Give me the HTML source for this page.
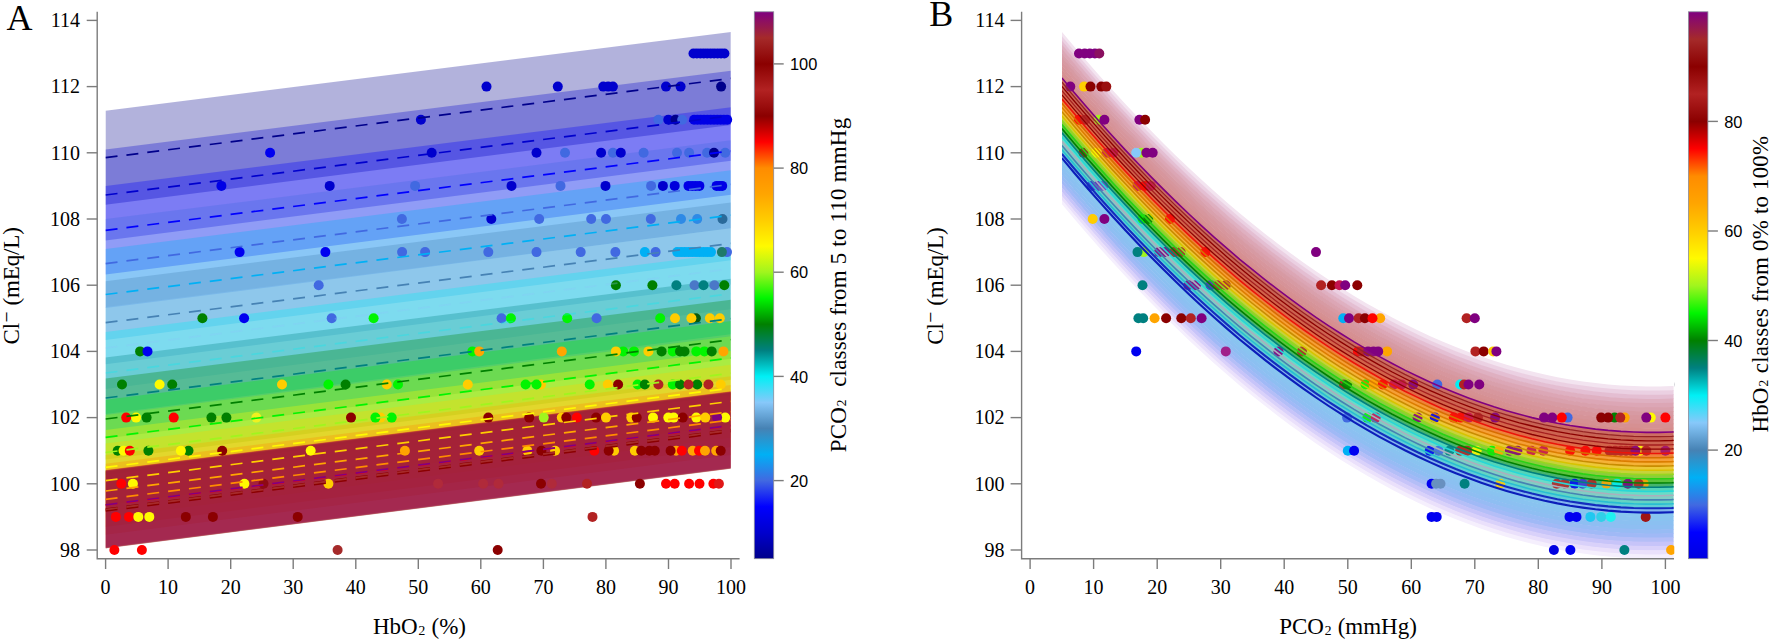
<!DOCTYPE html>
<html lang="en"><head><meta charset="utf-8"><title>Cl- vs HbO2 and PCO2</title>
<style>html,body{margin:0;padding:0;background:#fff;}svg{display:block;}text{font-family:"Liberation Serif","DejaVu Serif",serif;fill:#000;}.cb text{font-family:"Liberation Sans","DejaVu Sans",sans-serif;font-size:16.4px;}.tk{font-size:20px;}.lb{font-size:23px;}.pl{font-size:36px;}</style></head><body>
<svg width="1772" height="642" viewBox="0 0 1772 642">
<rect width="1772" height="642" fill="#fff"/>
<defs>
<linearGradient id="gA" x1="0" y1="0" x2="0" y2="1">
<stop offset="0.0000" stop-color="#800080"/>
<stop offset="0.0476" stop-color="#a52a2a"/>
<stop offset="0.0952" stop-color="#8b0000"/>
<stop offset="0.1429" stop-color="#b22222"/>
<stop offset="0.1905" stop-color="#8b0000"/>
<stop offset="0.2381" stop-color="#ff0000"/>
<stop offset="0.2857" stop-color="#ff8c00"/>
<stop offset="0.3333" stop-color="#ffa500"/>
<stop offset="0.3810" stop-color="#ffcd00"/>
<stop offset="0.4286" stop-color="#fffa00"/>
<stop offset="0.4762" stop-color="#a0f51e"/>
<stop offset="0.5238" stop-color="#00f500"/>
<stop offset="0.5714" stop-color="#008000"/>
<stop offset="0.6190" stop-color="#008080"/>
<stop offset="0.6667" stop-color="#00f0f5"/>
<stop offset="0.7143" stop-color="#87c8fa"/>
<stop offset="0.7619" stop-color="#4682b4"/>
<stop offset="0.8095" stop-color="#00b0f5"/>
<stop offset="0.8571" stop-color="#4169e1"/>
<stop offset="0.9048" stop-color="#0000ff"/>
<stop offset="0.9524" stop-color="#0000cd"/>
<stop offset="1.0000" stop-color="#00008b"/>
</linearGradient>
<linearGradient id="gB" x1="0" y1="0" x2="0" y2="1">
<stop offset="0.0000" stop-color="#800080"/>
<stop offset="0.0501" stop-color="#a52a2a"/>
<stop offset="0.1002" stop-color="#8b0000"/>
<stop offset="0.1503" stop-color="#b22222"/>
<stop offset="0.2004" stop-color="#8b0000"/>
<stop offset="0.2505" stop-color="#ff0000"/>
<stop offset="0.3006" stop-color="#ff8c00"/>
<stop offset="0.3507" stop-color="#ffa500"/>
<stop offset="0.4008" stop-color="#ffcd00"/>
<stop offset="0.4509" stop-color="#fffa00"/>
<stop offset="0.5010" stop-color="#a0f51e"/>
<stop offset="0.5511" stop-color="#00f500"/>
<stop offset="0.6012" stop-color="#008000"/>
<stop offset="0.6513" stop-color="#008080"/>
<stop offset="0.7014" stop-color="#00f0f5"/>
<stop offset="0.7515" stop-color="#87c8fa"/>
<stop offset="0.8016" stop-color="#4682b4"/>
<stop offset="0.8517" stop-color="#00b0f5"/>
<stop offset="0.9018" stop-color="#4169e1"/>
<stop offset="0.9519" stop-color="#0000ff"/>
<stop offset="1" stop-color="#0000e1"/>
</linearGradient>
<clipPath id="cA"><rect x="105.3" y="12" width="625.4" height="546"/></clipPath>
<clipPath id="cB"><rect x="1062" y="12" width="611.6" height="546"/></clipPath>
<clipPath id="cBd"><rect x="1022" y="12" width="652.3" height="548"/></clipPath>
</defs>
<g clip-path="url(#cA)">
<polygon points="105.6,110.7 731.0,31.9 731.0,124.9 105.6,204.7" fill="#00008b" fill-opacity="0.30"/>
<polygon points="105.6,149.5 731.0,70.7 731.0,160.7 105.6,240.5" fill="#0000cd" fill-opacity="0.30"/>
<polygon points="105.6,186.0 731.0,107.2 731.0,194.8 105.6,274.6" fill="#0000ff" fill-opacity="0.30"/>
<polygon points="105.6,219.1 731.0,140.3 731.0,228.3 105.6,308.1" fill="#4169e1" fill-opacity="0.30"/>
<polygon points="105.6,249.0 731.0,170.2 731.0,260.2 105.6,340.0" fill="#00b0f5" fill-opacity="0.30"/>
<polygon points="105.6,281.2 731.0,202.4 731.0,284.4 105.6,364.2" fill="#4682b4" fill-opacity="0.30"/>
<polygon points="105.6,307.0 731.0,228.2 731.0,309.2 105.6,389.0" fill="#87c8fa" fill-opacity="0.30"/>
<polygon points="105.6,332.0 731.0,253.2 731.0,334.2 105.6,414.0" fill="#00f0f5" fill-opacity="0.30"/>
<polygon points="105.6,357.5 731.0,278.7 731.0,358.7 105.6,438.5" fill="#008080" fill-opacity="0.30"/>
<polygon points="105.6,378.5 731.0,299.7 731.0,379.7 105.6,459.5" fill="#008000" fill-opacity="0.30"/>
<polygon points="105.6,399.8 731.0,321.0 731.0,395.0 105.6,474.8" fill="#00f500" fill-opacity="0.30"/>
<polygon points="105.6,415.0 731.0,336.2 731.0,410.2 105.6,490.0" fill="#a0f51e" fill-opacity="0.30"/>
<polygon points="105.6,429.9 731.0,351.1 731.0,425.1 105.6,504.9" fill="#fffa00" fill-opacity="0.30"/>
<polygon points="105.6,443.6 731.0,364.8 731.0,437.8 105.6,517.6" fill="#ffcd00" fill-opacity="0.30"/>
<polygon points="105.6,455.0 731.0,376.2 731.0,447.2 105.6,527.0" fill="#ffa500" fill-opacity="0.30"/>
<polygon points="105.6,463.8 731.0,385.0 731.0,455.0 105.6,534.8" fill="#ff8c00" fill-opacity="0.30"/>
<polygon points="105.6,470.0 731.0,391.2 731.0,467.4 105.6,547.2" fill="#ff0000" fill-opacity="0.30"/>
<polygon points="105.6,470.5 731.0,391.7 731.0,468.2 105.6,548.0" fill="#8b0000" fill-opacity="0.30"/>
<polygon points="105.6,471.0 731.0,392.2 731.0,468.5 105.6,548.3" fill="#b22222" fill-opacity="0.30"/>
<polygon points="105.6,471.5 731.0,392.7 731.0,468.7 105.6,548.5" fill="#8b0000" fill-opacity="0.30"/>
<polygon points="105.6,470.8 731.0,392.0 731.0,468.4 105.6,548.2" fill="#a52a2a" fill-opacity="0.30"/>
<polygon points="105.6,470.2 731.0,391.4 731.0,468.0 105.6,547.8" fill="#800080" fill-opacity="0.30"/>
</g>
<g>
<circle cx="693.5" cy="53.5" r="5" fill="#0000cd"/>
<circle cx="696.9" cy="53.5" r="5" fill="#0000cd"/>
<circle cx="700.4" cy="53.5" r="5" fill="#0000cd"/>
<circle cx="703.8" cy="53.5" r="5" fill="#0000cd"/>
<circle cx="707.2" cy="53.5" r="5" fill="#0000cd"/>
<circle cx="710.7" cy="53.5" r="5" fill="#0000cd"/>
<circle cx="714.1" cy="53.5" r="5" fill="#0000cd"/>
<circle cx="717.6" cy="53.5" r="5" fill="#0000cd"/>
<circle cx="721.0" cy="53.5" r="5" fill="#0000cd"/>
<circle cx="724.4" cy="53.5" r="5" fill="#0000cd"/>
<circle cx="486.5" cy="86.6" r="5" fill="#0000cd"/>
<circle cx="557.8" cy="86.6" r="5" fill="#0000cd"/>
<circle cx="603.3" cy="86.6" r="5" fill="#0000cd"/>
<circle cx="608.2" cy="86.6" r="5" fill="#0000cd"/>
<circle cx="612.9" cy="86.6" r="5" fill="#0000cd"/>
<circle cx="666.0" cy="86.6" r="5" fill="#0000cd"/>
<circle cx="680.6" cy="86.6" r="5" fill="#0000cd"/>
<circle cx="721.1" cy="86.6" r="5" fill="#00008b"/>
<circle cx="420.9" cy="119.7" r="5" fill="#0000cd"/>
<circle cx="658.4" cy="119.7" r="5" fill="#4169e1"/>
<circle cx="668.3" cy="119.7" r="5" fill="#0000cd"/>
<circle cx="675.5" cy="119.7" r="5" fill="#00008b"/>
<circle cx="682.2" cy="119.7" r="5" fill="#4169e1"/>
<circle cx="694.1" cy="119.7" r="5" fill="#0000e6"/>
<circle cx="697.4" cy="119.7" r="5" fill="#0000e6"/>
<circle cx="700.7" cy="119.7" r="5" fill="#0000e6"/>
<circle cx="704.0" cy="119.7" r="5" fill="#0000e6"/>
<circle cx="707.4" cy="119.7" r="5" fill="#0000e6"/>
<circle cx="710.7" cy="119.7" r="5" fill="#0000e6"/>
<circle cx="714.0" cy="119.7" r="5" fill="#0000e6"/>
<circle cx="717.3" cy="119.7" r="5" fill="#0000e6"/>
<circle cx="720.6" cy="119.7" r="5" fill="#0000e6"/>
<circle cx="723.9" cy="119.7" r="5" fill="#0000e6"/>
<circle cx="727.2" cy="119.7" r="5" fill="#0000e6"/>
<circle cx="270.1" cy="152.8" r="5" fill="#0000f0"/>
<circle cx="431.7" cy="152.8" r="5" fill="#0000cd"/>
<circle cx="536.5" cy="152.8" r="5" fill="#0000cd"/>
<circle cx="565.0" cy="152.8" r="5" fill="#4169e1"/>
<circle cx="601.1" cy="152.8" r="5" fill="#0000cd"/>
<circle cx="612.9" cy="152.8" r="5" fill="#4169e1"/>
<circle cx="620.8" cy="152.8" r="5" fill="#0000cd"/>
<circle cx="643.6" cy="152.8" r="5" fill="#4169e1"/>
<circle cx="677.0" cy="152.8" r="5" fill="#4169e1"/>
<circle cx="689.1" cy="152.8" r="5" fill="#4169e1"/>
<circle cx="707.1" cy="152.8" r="5" fill="#4169e1"/>
<circle cx="725.2" cy="152.8" r="5" fill="#4169e1"/>
<circle cx="714.0" cy="152.8" r="5" fill="#00008b"/>
<circle cx="221.4" cy="185.9" r="5" fill="#0000e6"/>
<circle cx="329.7" cy="185.9" r="5" fill="#0000cd"/>
<circle cx="415.1" cy="185.9" r="5" fill="#4169e1"/>
<circle cx="511.5" cy="185.9" r="5" fill="#0000cd"/>
<circle cx="560.5" cy="185.9" r="5" fill="#4169e1"/>
<circle cx="605.5" cy="185.9" r="5" fill="#0000cd"/>
<circle cx="651.1" cy="185.9" r="5" fill="#4169e1"/>
<circle cx="662.9" cy="185.9" r="5" fill="#0000cd"/>
<circle cx="674.7" cy="185.9" r="5" fill="#0000dc"/>
<circle cx="688.5" cy="185.9" r="5" fill="#0000e6"/>
<circle cx="692.1" cy="185.9" r="5" fill="#0000e6"/>
<circle cx="695.7" cy="185.9" r="5" fill="#0000e6"/>
<circle cx="699.4" cy="185.9" r="5" fill="#0000e6"/>
<circle cx="716.6" cy="185.9" r="5" fill="#0000e6"/>
<circle cx="719.4" cy="185.9" r="5" fill="#0000e6"/>
<circle cx="722.2" cy="185.9" r="5" fill="#0000e6"/>
<circle cx="401.9" cy="219.0" r="5" fill="#4169e1"/>
<circle cx="491.3" cy="219.0" r="5" fill="#0000cd"/>
<circle cx="539.2" cy="219.0" r="5" fill="#4169e1"/>
<circle cx="591.2" cy="219.0" r="5" fill="#4169e1"/>
<circle cx="606.0" cy="219.0" r="5" fill="#4169e1"/>
<circle cx="650.8" cy="219.0" r="5" fill="#4169e1"/>
<circle cx="681.0" cy="219.0" r="5" fill="#2e8ae6"/>
<circle cx="697.2" cy="219.0" r="5" fill="#2e8ae6"/>
<circle cx="722.5" cy="219.0" r="5" fill="#2a6a9a"/>
<circle cx="239.6" cy="252.1" r="5" fill="#0000f0"/>
<circle cx="325.4" cy="252.1" r="5" fill="#0000f0"/>
<circle cx="402.1" cy="252.1" r="5" fill="#4169e1"/>
<circle cx="425.1" cy="252.1" r="5" fill="#4169e1"/>
<circle cx="488.3" cy="252.1" r="5" fill="#4169e1"/>
<circle cx="536.5" cy="252.1" r="5" fill="#4169e1"/>
<circle cx="580.7" cy="252.1" r="5" fill="#4169e1"/>
<circle cx="615.4" cy="252.1" r="5" fill="#4169e1"/>
<circle cx="644.8" cy="252.1" r="5" fill="#00b0f5"/>
<circle cx="655.6" cy="252.1" r="5" fill="#4169e1"/>
<circle cx="677.2" cy="252.1" r="5" fill="#00b0f5"/>
<circle cx="681.0" cy="252.1" r="5" fill="#00b0f5"/>
<circle cx="684.7" cy="252.1" r="5" fill="#00b0f5"/>
<circle cx="688.5" cy="252.1" r="5" fill="#00b0f5"/>
<circle cx="692.2" cy="252.1" r="5" fill="#00b0f5"/>
<circle cx="696.0" cy="252.1" r="5" fill="#00b0f5"/>
<circle cx="699.7" cy="252.1" r="5" fill="#00b0f5"/>
<circle cx="703.5" cy="252.1" r="5" fill="#00b0f5"/>
<circle cx="707.2" cy="252.1" r="5" fill="#00b0f5"/>
<circle cx="711.0" cy="252.1" r="5" fill="#00b0f5"/>
<circle cx="727.0" cy="252.1" r="5" fill="#4169e1"/>
<circle cx="721.9" cy="252.1" r="5" fill="#1e7a6a"/>
<circle cx="318.7" cy="285.2" r="5" fill="#4169e1"/>
<circle cx="615.9" cy="285.2" r="5" fill="#008000"/>
<circle cx="652.4" cy="285.2" r="5" fill="#008000"/>
<circle cx="676.4" cy="285.2" r="5" fill="#008080"/>
<circle cx="694.5" cy="285.2" r="5" fill="#4a78c8"/>
<circle cx="714.4" cy="285.2" r="5" fill="#4a78c8"/>
<circle cx="703.5" cy="285.2" r="5" fill="#008080"/>
<circle cx="724.3" cy="285.2" r="5" fill="#008000"/>
<circle cx="202.4" cy="318.3" r="5" fill="#008000"/>
<circle cx="244.1" cy="318.3" r="5" fill="#0000f0"/>
<circle cx="331.7" cy="318.3" r="5" fill="#4169e1"/>
<circle cx="373.6" cy="318.3" r="5" fill="#00f500"/>
<circle cx="501.6" cy="318.3" r="5" fill="#4169e1"/>
<circle cx="510.9" cy="318.3" r="5" fill="#00f500"/>
<circle cx="567.2" cy="318.3" r="5" fill="#00f500"/>
<circle cx="596.6" cy="318.3" r="5" fill="#4169e1"/>
<circle cx="660.2" cy="318.3" r="5" fill="#00f500"/>
<circle cx="695.9" cy="318.3" r="5" fill="#0a5a0a"/>
<circle cx="675.0" cy="318.3" r="5" fill="#ffcd00"/>
<circle cx="691.4" cy="318.3" r="5" fill="#ffcd00"/>
<circle cx="709.9" cy="318.3" r="5" fill="#ffcd00"/>
<circle cx="719.8" cy="318.3" r="5" fill="#ffcd00"/>
<circle cx="140.1" cy="351.4" r="5" fill="#008000"/>
<circle cx="147.5" cy="351.4" r="5" fill="#0000f0"/>
<circle cx="472.4" cy="351.4" r="5" fill="#00f500"/>
<circle cx="479.2" cy="351.4" r="5" fill="#ffa500"/>
<circle cx="561.8" cy="351.4" r="5" fill="#ffa500"/>
<circle cx="623.2" cy="351.4" r="5" fill="#00f500"/>
<circle cx="615.9" cy="351.4" r="5" fill="#ffcd00"/>
<circle cx="634.0" cy="351.4" r="5" fill="#00f500"/>
<circle cx="648.4" cy="351.4" r="5" fill="#ffcd00"/>
<circle cx="661.6" cy="351.4" r="5" fill="#008000"/>
<circle cx="672.8" cy="351.4" r="5" fill="#00f500"/>
<circle cx="680.0" cy="351.4" r="5" fill="#008000"/>
<circle cx="684.5" cy="351.4" r="5" fill="#008000"/>
<circle cx="696.3" cy="351.4" r="5" fill="#00f500"/>
<circle cx="704.4" cy="351.4" r="5" fill="#00f500"/>
<circle cx="711.7" cy="351.4" r="5" fill="#008000"/>
<circle cx="723.4" cy="351.4" r="5" fill="#ffa500"/>
<circle cx="122.0" cy="384.5" r="5" fill="#008000"/>
<circle cx="159.6" cy="384.5" r="5" fill="#fffa00"/>
<circle cx="172.2" cy="384.5" r="5" fill="#008000"/>
<circle cx="282.0" cy="384.5" r="5" fill="#ffcd00"/>
<circle cx="328.4" cy="384.5" r="5" fill="#00f500"/>
<circle cx="345.6" cy="384.5" r="5" fill="#008000"/>
<circle cx="386.8" cy="384.5" r="5" fill="#ffcd00"/>
<circle cx="398.0" cy="384.5" r="5" fill="#00f500"/>
<circle cx="467.8" cy="384.5" r="5" fill="#ffcd00"/>
<circle cx="525.6" cy="384.5" r="5" fill="#00f500"/>
<circle cx="541.0" cy="384.5" r="5" fill="#ffcd00"/>
<circle cx="536.5" cy="384.5" r="5" fill="#00f500"/>
<circle cx="589.7" cy="384.5" r="5" fill="#00f500"/>
<circle cx="607.8" cy="384.5" r="5" fill="#ffcd00"/>
<circle cx="618.1" cy="384.5" r="5" fill="#8b0000"/>
<circle cx="637.6" cy="384.5" r="5" fill="#00f500"/>
<circle cx="644.8" cy="384.5" r="5" fill="#008000"/>
<circle cx="658.4" cy="384.5" r="5" fill="#b22222"/>
<circle cx="672.8" cy="384.5" r="5" fill="#00f500"/>
<circle cx="680.0" cy="384.5" r="5" fill="#008000"/>
<circle cx="697.2" cy="384.5" r="5" fill="#008000"/>
<circle cx="688.5" cy="384.5" r="5" fill="#b22222"/>
<circle cx="708.4" cy="384.5" r="5" fill="#b22222"/>
<circle cx="720.7" cy="384.5" r="5" fill="#ffcd00"/>
<circle cx="126.2" cy="417.6" r="5" fill="#ff0000"/>
<circle cx="136.1" cy="417.6" r="5" fill="#fffa00"/>
<circle cx="146.6" cy="417.6" r="5" fill="#008000"/>
<circle cx="173.7" cy="417.6" r="5" fill="#ff0000"/>
<circle cx="211.4" cy="417.6" r="5" fill="#008000"/>
<circle cx="226.4" cy="417.6" r="5" fill="#008000"/>
<circle cx="256.4" cy="417.6" r="5" fill="#f0f020"/>
<circle cx="351.0" cy="417.6" r="5" fill="#8b0000"/>
<circle cx="380.5" cy="417.6" r="5" fill="#ffcd00"/>
<circle cx="375.4" cy="417.6" r="5" fill="#00f500"/>
<circle cx="391.7" cy="417.6" r="5" fill="#00f500"/>
<circle cx="488.3" cy="417.6" r="5" fill="#8b0000"/>
<circle cx="529.2" cy="417.6" r="5" fill="#8b0000"/>
<circle cx="543.7" cy="417.6" r="5" fill="#a0f51e"/>
<circle cx="561.8" cy="417.6" r="5" fill="#ffcd00"/>
<circle cx="566.3" cy="417.6" r="5" fill="#8b0000"/>
<circle cx="576.8" cy="417.6" r="5" fill="#ff0000"/>
<circle cx="596.1" cy="417.6" r="5" fill="#8b0000"/>
<circle cx="606.0" cy="417.6" r="5" fill="#ffcd00"/>
<circle cx="631.3" cy="417.6" r="5" fill="#ffcd00"/>
<circle cx="636.7" cy="417.6" r="5" fill="#8b0000"/>
<circle cx="653.0" cy="417.6" r="5" fill="#fffa00"/>
<circle cx="668.3" cy="417.6" r="5" fill="#fffa00"/>
<circle cx="673.7" cy="417.6" r="5" fill="#fffa00"/>
<circle cx="682.8" cy="417.6" r="5" fill="#8b0000"/>
<circle cx="696.3" cy="417.6" r="5" fill="#fffa00"/>
<circle cx="705.3" cy="417.6" r="5" fill="#ffcd00"/>
<circle cx="725.2" cy="417.6" r="5" fill="#fffa00"/>
<circle cx="717.1" cy="417.6" r="5" fill="#800080"/>
<circle cx="117.7" cy="450.7" r="5" fill="#008000"/>
<circle cx="123.5" cy="450.7" r="5" fill="#fffa00"/>
<circle cx="129.8" cy="450.7" r="5" fill="#ff0000"/>
<circle cx="148.4" cy="450.7" r="5" fill="#008000"/>
<circle cx="188.5" cy="450.7" r="5" fill="#008000"/>
<circle cx="180.9" cy="450.7" r="5" fill="#fffa00"/>
<circle cx="222.2" cy="450.7" r="5" fill="#8b0000"/>
<circle cx="310.7" cy="450.7" r="5" fill="#fffa00"/>
<circle cx="404.9" cy="450.7" r="5" fill="#ffa500"/>
<circle cx="479.2" cy="450.7" r="5" fill="#ffcd00"/>
<circle cx="527.4" cy="450.7" r="5" fill="#ffcd00"/>
<circle cx="541.4" cy="450.7" r="5" fill="#8b0000"/>
<circle cx="555.1" cy="450.7" r="5" fill="#ffcd00"/>
<circle cx="594.3" cy="450.7" r="5" fill="#ff0000"/>
<circle cx="614.1" cy="450.7" r="5" fill="#ffcd00"/>
<circle cx="608.7" cy="450.7" r="5" fill="#8b0000"/>
<circle cx="634.9" cy="450.7" r="5" fill="#ffcd00"/>
<circle cx="641.2" cy="450.7" r="5" fill="#8b0000"/>
<circle cx="649.3" cy="450.7" r="5" fill="#8b0000"/>
<circle cx="654.8" cy="450.7" r="5" fill="#8b0000"/>
<circle cx="676.1" cy="450.7" r="5" fill="#ffa500"/>
<circle cx="670.6" cy="450.7" r="5" fill="#8b0000"/>
<circle cx="681.8" cy="450.7" r="5" fill="#ff0000"/>
<circle cx="692.7" cy="450.7" r="5" fill="#ffa500"/>
<circle cx="699.0" cy="450.7" r="5" fill="#ff0000"/>
<circle cx="705.0" cy="450.7" r="5" fill="#ffa500"/>
<circle cx="716.2" cy="450.7" r="5" fill="#ffa500"/>
<circle cx="720.7" cy="450.7" r="5" fill="#8b0000"/>
<circle cx="121.3" cy="483.8" r="5" fill="#ff0000"/>
<circle cx="132.9" cy="483.8" r="5" fill="#fffa00"/>
<circle cx="244.4" cy="483.8" r="5" fill="#fffa00"/>
<circle cx="263.5" cy="483.8" r="5" fill="#8e0a14"/>
<circle cx="328.4" cy="483.8" r="5" fill="#ffcd00"/>
<circle cx="438.1" cy="483.8" r="5" fill="#b02a3a"/>
<circle cx="483.2" cy="483.8" r="5" fill="#b02a3a"/>
<circle cx="498.5" cy="483.8" r="5" fill="#b02a3a"/>
<circle cx="541.0" cy="483.8" r="5" fill="#8b0000"/>
<circle cx="551.8" cy="483.8" r="5" fill="#b02a3a"/>
<circle cx="587.0" cy="483.8" r="5" fill="#b22222"/>
<circle cx="639.9" cy="483.8" r="5" fill="#8b0000"/>
<circle cx="666.0" cy="483.8" r="5" fill="#ff0000"/>
<circle cx="674.7" cy="483.8" r="5" fill="#ff0000"/>
<circle cx="689.1" cy="483.8" r="5" fill="#ff0000"/>
<circle cx="699.5" cy="483.8" r="5" fill="#ff0000"/>
<circle cx="713.4" cy="483.8" r="5" fill="#ff0000"/>
<circle cx="718.9" cy="483.8" r="5" fill="#e01818"/>
<circle cx="115.9" cy="516.9" r="5" fill="#ff0000"/>
<circle cx="128.9" cy="516.9" r="5" fill="#ff0000"/>
<circle cx="138.3" cy="516.9" r="5" fill="#fffa00"/>
<circle cx="149.3" cy="516.9" r="5" fill="#fffa00"/>
<circle cx="185.8" cy="516.9" r="5" fill="#8b0000"/>
<circle cx="212.9" cy="516.9" r="5" fill="#8b0000"/>
<circle cx="297.7" cy="516.9" r="5" fill="#8b0000"/>
<circle cx="592.5" cy="516.9" r="5" fill="#b22222"/>
<circle cx="114.4" cy="550.0" r="5" fill="#ff0000"/>
<circle cx="141.9" cy="550.0" r="5" fill="#ff0000"/>
<circle cx="337.6" cy="550.0" r="5" fill="#a52a2a"/>
<circle cx="497.7" cy="550.0" r="5" fill="#8b0000"/>
</g>
<g clip-path="url(#cA)" fill="none" stroke-width="1.7" stroke-dasharray="12 9">
<line x1="105.6" y1="157.7" x2="731.0" y2="78.4" stroke="#00008b"/>
<line x1="105.6" y1="195.0" x2="731.0" y2="115.7" stroke="#0000cd"/>
<line x1="105.6" y1="230.3" x2="731.0" y2="151.0" stroke="#0000ff"/>
<line x1="105.6" y1="263.6" x2="731.0" y2="184.3" stroke="#4169e1"/>
<line x1="105.6" y1="294.5" x2="731.0" y2="215.2" stroke="#00b0f5"/>
<line x1="105.6" y1="322.7" x2="731.0" y2="243.4" stroke="#4682b4"/>
<line x1="105.6" y1="348.0" x2="731.0" y2="268.7" stroke="#87c8fa" stroke-opacity="0.3"/>
<line x1="105.6" y1="373.0" x2="731.0" y2="293.7" stroke="#00f0f5" stroke-opacity="0.3"/>
<line x1="105.6" y1="398.0" x2="731.0" y2="318.7" stroke="#008080"/>
<line x1="105.6" y1="419.0" x2="731.0" y2="339.7" stroke="#008000"/>
<line x1="105.6" y1="437.3" x2="731.0" y2="358.0" stroke="#00f500"/>
<line x1="105.6" y1="452.5" x2="731.0" y2="373.2" stroke="#a0f51e"/>
<line x1="105.6" y1="467.4" x2="731.0" y2="388.1" stroke="#fffa00"/>
<line x1="105.6" y1="480.6" x2="731.0" y2="401.3" stroke="#ffcd00"/>
<line x1="105.6" y1="491.0" x2="731.0" y2="411.7" stroke="#ffa500"/>
<line x1="105.6" y1="499.3" x2="731.0" y2="420.0" stroke="#ff8c00"/>
<line x1="105.6" y1="505.0" x2="731.0" y2="425.7" stroke="#ff0000"/>
<line x1="105.6" y1="509.0" x2="731.0" y2="429.7" stroke="#8b0000"/>
<line x1="105.6" y1="510.0" x2="731.0" y2="430.7" stroke="#b22222"/>
<line x1="105.6" y1="511.0" x2="731.0" y2="431.7" stroke="#8b0000"/>
<line x1="105.6" y1="509.5" x2="731.0" y2="430.2" stroke="#a52a2a"/>
<line x1="105.6" y1="504.8" x2="731.0" y2="425.5" stroke="#800080"/>
</g>
<g clip-path="url(#cB)">
<polygon points="1061.9,31.9 1074.6,47.0 1087.3,61.8 1100.0,76.2 1112.7,90.3 1125.4,104.1 1138.1,117.5 1150.8,130.6 1163.5,143.4 1176.2,155.9 1188.9,168.0 1201.6,179.8 1214.3,191.3 1227.0,202.4 1239.7,213.3 1252.5,223.7 1265.2,233.9 1277.9,243.7 1290.6,253.2 1303.3,262.4 1316.0,271.3 1328.7,279.8 1341.4,288.0 1354.1,295.9 1366.8,303.4 1379.5,310.6 1392.2,317.5 1404.9,324.1 1417.6,330.3 1430.3,336.2 1443.0,341.8 1455.8,347.0 1468.5,351.9 1481.2,356.5 1493.9,360.8 1506.6,364.7 1519.3,368.3 1532.0,371.6 1544.7,374.6 1557.4,377.2 1570.1,379.5 1582.8,381.4 1595.5,383.1 1608.2,384.4 1620.9,385.4 1633.6,386.0 1646.3,386.4 1659.0,386.4 1671.8,386.0 1684.5,385.4 1684.5,390.2 1671.8,390.8 1659.0,391.1 1646.3,391.1 1633.6,390.8 1620.9,390.2 1608.2,389.2 1595.5,387.9 1582.8,386.2 1570.1,384.3 1557.4,382.0 1544.7,379.3 1532.0,376.4 1519.3,373.1 1506.6,369.5 1493.9,365.6 1481.2,361.3 1468.5,356.7 1455.8,351.8 1443.0,346.6 1430.3,341.0 1417.6,335.1 1404.9,328.8 1392.2,322.3 1379.5,315.4 1366.8,308.2 1354.1,300.7 1341.4,292.8 1328.7,284.6 1316.0,276.1 1303.3,267.2 1290.6,258.0 1277.9,248.5 1265.2,238.7 1252.5,228.5 1239.7,218.0 1227.0,207.2 1214.3,196.1 1201.6,184.6 1188.9,172.8 1176.2,160.7 1163.5,148.2 1150.8,135.4 1138.1,122.3 1125.4,108.9 1112.7,95.1 1100.0,81.0 1087.3,66.6 1074.6,51.8 1061.9,36.7" fill="#f3e4f0"/>
<polygon points="1061.9,36.1 1074.6,51.2 1087.3,66.0 1100.0,80.4 1112.7,94.5 1125.4,108.3 1138.1,121.7 1150.8,134.8 1163.5,147.6 1176.2,160.1 1188.9,172.2 1201.6,184.0 1214.3,195.5 1227.0,206.6 1239.7,217.4 1252.5,227.9 1265.2,238.1 1277.9,247.9 1290.6,257.4 1303.3,266.6 1316.0,275.5 1328.7,284.0 1341.4,292.2 1354.1,300.1 1366.8,307.6 1379.5,314.8 1392.2,321.7 1404.9,328.2 1417.6,334.5 1430.3,340.4 1443.0,346.0 1455.8,351.2 1468.5,356.1 1481.2,360.7 1493.9,365.0 1506.6,368.9 1519.3,372.5 1532.0,375.8 1544.7,378.7 1557.4,381.4 1570.1,383.7 1582.8,385.6 1595.5,387.3 1608.2,388.6 1620.9,389.6 1633.6,390.2 1646.3,390.5 1659.0,390.5 1671.8,390.2 1684.5,389.6 1684.5,394.3 1671.8,395.0 1659.0,395.3 1646.3,395.3 1633.6,395.0 1620.9,394.3 1608.2,393.4 1595.5,392.0 1582.8,390.4 1570.1,388.4 1557.4,386.1 1544.7,383.5 1532.0,380.6 1519.3,377.3 1506.6,373.7 1493.9,369.7 1481.2,365.5 1468.5,360.9 1455.8,356.0 1443.0,350.7 1430.3,345.2 1417.6,339.3 1404.9,333.0 1392.2,326.5 1379.5,319.6 1366.8,312.4 1354.1,304.8 1341.4,297.0 1328.7,288.8 1316.0,280.2 1303.3,271.4 1290.6,262.2 1277.9,252.7 1265.2,242.9 1252.5,232.7 1239.7,222.2 1227.0,211.4 1214.3,200.2 1201.6,188.8 1188.9,177.0 1176.2,164.8 1163.5,152.4 1150.8,139.6 1138.1,126.5 1125.4,113.0 1112.7,99.3 1100.0,85.2 1087.3,70.7 1074.6,56.0 1061.9,40.9" fill="#ebd0e2"/>
<polygon points="1061.9,40.3 1074.6,55.4 1087.3,70.1 1100.0,84.6 1112.7,98.7 1125.4,112.4 1138.1,125.9 1150.8,139.0 1163.5,151.8 1176.2,164.2 1188.9,176.4 1201.6,188.2 1214.3,199.6 1227.0,210.8 1239.7,221.6 1252.5,232.1 1265.2,242.3 1277.9,252.1 1290.6,261.6 1303.3,270.8 1316.0,279.6 1328.7,288.2 1341.4,296.4 1354.1,304.2 1366.8,311.8 1379.5,319.0 1392.2,325.9 1404.9,332.4 1417.6,338.7 1430.3,344.6 1443.0,350.1 1455.8,355.4 1468.5,360.3 1481.2,364.9 1493.9,369.1 1506.6,373.1 1519.3,376.7 1532.0,380.0 1544.7,382.9 1557.4,385.5 1570.1,387.8 1582.8,389.8 1595.5,391.4 1608.2,392.8 1620.9,393.7 1633.6,394.4 1646.3,394.7 1659.0,394.7 1671.8,394.4 1684.5,393.7 1684.5,398.5 1671.8,399.2 1659.0,399.5 1646.3,399.5 1633.6,399.2 1620.9,398.5 1608.2,397.5 1595.5,396.2 1582.8,394.6 1570.1,392.6 1557.4,390.3 1544.7,387.7 1532.0,384.8 1519.3,381.5 1506.6,377.9 1493.9,373.9 1481.2,369.7 1468.5,365.1 1455.8,360.2 1443.0,354.9 1430.3,349.3 1417.6,343.4 1404.9,337.2 1392.2,330.7 1379.5,323.8 1366.8,316.6 1354.1,309.0 1341.4,301.1 1328.7,293.0 1316.0,284.4 1303.3,275.6 1290.6,266.4 1277.9,256.9 1265.2,247.1 1252.5,236.9 1239.7,226.4 1227.0,215.6 1214.3,204.4 1201.6,193.0 1188.9,181.2 1176.2,169.0 1163.5,156.6 1150.8,143.8 1138.1,130.7 1125.4,117.2 1112.7,103.5 1100.0,89.4 1087.3,74.9 1074.6,60.2 1061.9,45.1" fill="#e4bed2"/>
<polygon points="1061.9,44.5 1074.6,59.6 1087.3,74.3 1100.0,88.8 1112.7,102.9 1125.4,116.6 1138.1,130.1 1150.8,143.2 1163.5,156.0 1176.2,168.4 1188.9,180.6 1201.6,192.4 1214.3,203.8 1227.0,215.0 1239.7,225.8 1252.5,236.3 1265.2,246.5 1277.9,256.3 1290.6,265.8 1303.3,275.0 1316.0,283.8 1328.7,292.4 1341.4,300.5 1354.1,308.4 1366.8,316.0 1379.5,323.2 1392.2,330.1 1404.9,336.6 1417.6,342.8 1430.3,348.7 1443.0,354.3 1455.8,359.6 1468.5,364.5 1481.2,369.1 1493.9,373.3 1506.6,377.3 1519.3,380.9 1532.0,384.2 1544.7,387.1 1557.4,389.7 1570.1,392.0 1582.8,394.0 1595.5,395.6 1608.2,396.9 1620.9,397.9 1633.6,398.6 1646.3,398.9 1659.0,398.9 1671.8,398.6 1684.5,397.9 1684.5,402.7 1671.8,403.4 1659.0,403.7 1646.3,403.7 1633.6,403.4 1620.9,402.7 1608.2,401.7 1595.5,400.4 1582.8,398.8 1570.1,396.8 1557.4,394.5 1544.7,391.9 1532.0,388.9 1519.3,385.7 1506.6,382.0 1493.9,378.1 1481.2,373.9 1468.5,369.3 1455.8,364.3 1443.0,359.1 1430.3,353.5 1417.6,347.6 1404.9,341.4 1392.2,334.8 1379.5,328.0 1366.8,320.7 1354.1,313.2 1341.4,305.3 1328.7,297.1 1316.0,288.6 1303.3,279.8 1290.6,270.6 1277.9,261.1 1265.2,251.2 1252.5,241.1 1239.7,230.6 1227.0,219.8 1214.3,208.6 1201.6,197.1 1188.9,185.3 1176.2,173.2 1163.5,160.7 1150.8,148.0 1138.1,134.8 1125.4,121.4 1112.7,107.6 1100.0,93.5 1087.3,79.1 1074.6,64.4 1061.9,49.3" fill="#dfb0c1"/>
<polygon points="1061.9,48.7 1074.6,63.8 1087.3,78.5 1100.0,92.9 1112.7,107.0 1125.4,120.8 1138.1,134.2 1150.8,147.4 1163.5,160.1 1176.2,172.6 1188.9,184.7 1201.6,196.5 1214.3,208.0 1227.0,219.2 1239.7,230.0 1252.5,240.5 1265.2,250.6 1277.9,260.5 1290.6,270.0 1303.3,279.2 1316.0,288.0 1328.7,296.5 1341.4,304.7 1354.1,312.6 1366.8,320.1 1379.5,327.4 1392.2,334.2 1404.9,340.8 1417.6,347.0 1430.3,352.9 1443.0,358.5 1455.8,363.7 1468.5,368.7 1481.2,373.3 1493.9,377.5 1506.6,381.4 1519.3,385.1 1532.0,388.3 1544.7,391.3 1557.4,393.9 1570.1,396.2 1582.8,398.2 1595.5,399.8 1608.2,401.1 1620.9,402.1 1633.6,402.8 1646.3,403.1 1659.0,403.1 1671.8,402.8 1684.5,402.1 1684.5,406.9 1671.8,407.5 1659.0,407.9 1646.3,407.9 1633.6,407.5 1620.9,406.9 1608.2,405.9 1595.5,404.6 1582.8,403.0 1570.1,401.0 1557.4,398.7 1544.7,396.1 1532.0,393.1 1519.3,389.8 1506.6,386.2 1493.9,382.3 1481.2,378.0 1468.5,373.4 1455.8,368.5 1443.0,363.3 1430.3,357.7 1417.6,351.8 1404.9,345.6 1392.2,339.0 1379.5,332.1 1366.8,324.9 1354.1,317.4 1341.4,309.5 1328.7,301.3 1316.0,292.8 1303.3,283.9 1290.6,274.8 1277.9,265.3 1265.2,255.4 1252.5,245.3 1239.7,234.8 1227.0,223.9 1214.3,212.8 1201.6,201.3 1188.9,189.5 1176.2,177.4 1163.5,164.9 1150.8,152.1 1138.1,139.0 1125.4,125.6 1112.7,111.8 1100.0,97.7 1087.3,83.3 1074.6,68.5 1061.9,53.5" fill="#dca6b5"/>
<polygon points="1061.9,52.9 1074.6,67.9 1087.3,82.7 1100.0,97.1 1112.7,111.2 1125.4,125.0 1138.1,138.4 1150.8,151.5 1163.5,164.3 1176.2,176.8 1188.9,188.9 1201.6,200.7 1214.3,212.2 1227.0,223.3 1239.7,234.2 1252.5,244.7 1265.2,254.8 1277.9,264.7 1290.6,274.2 1303.3,283.3 1316.0,292.2 1328.7,300.7 1341.4,308.9 1354.1,316.8 1366.8,324.3 1379.5,331.5 1392.2,338.4 1404.9,345.0 1417.6,351.2 1430.3,357.1 1443.0,362.7 1455.8,367.9 1468.5,372.8 1481.2,377.4 1493.9,381.7 1506.6,385.6 1519.3,389.2 1532.0,392.5 1544.7,395.5 1557.4,398.1 1570.1,400.4 1582.8,402.4 1595.5,404.0 1608.2,405.3 1620.9,406.3 1633.6,406.9 1646.3,407.3 1659.0,407.3 1671.8,406.9 1684.5,406.3 1684.5,411.1 1671.8,411.7 1659.0,412.0 1646.3,412.0 1633.6,411.7 1620.9,411.1 1608.2,410.1 1595.5,408.8 1582.8,407.1 1570.1,405.2 1557.4,402.9 1544.7,400.2 1532.0,397.3 1519.3,394.0 1506.6,390.4 1493.9,386.5 1481.2,382.2 1468.5,377.6 1455.8,372.7 1443.0,367.5 1430.3,361.9 1417.6,356.0 1404.9,349.8 1392.2,343.2 1379.5,336.3 1366.8,329.1 1354.1,321.6 1341.4,313.7 1328.7,305.5 1316.0,297.0 1303.3,288.1 1290.6,278.9 1277.9,269.4 1265.2,259.6 1252.5,249.4 1239.7,238.9 1227.0,228.1 1214.3,217.0 1201.6,205.5 1188.9,193.7 1176.2,181.6 1163.5,169.1 1150.8,156.3 1138.1,143.2 1125.4,129.8 1112.7,116.0 1100.0,101.9 1087.3,87.5 1074.6,72.7 1061.9,57.6" fill="#d9a0ac"/>
<polygon points="1061.9,57.0 1074.6,72.1 1087.3,86.9 1100.0,101.3 1112.7,115.4 1125.4,129.2 1138.1,142.6 1150.8,155.7 1163.5,168.5 1176.2,181.0 1188.9,193.1 1201.6,204.9 1214.3,216.4 1227.0,227.5 1239.7,238.3 1252.5,248.8 1265.2,259.0 1277.9,268.8 1290.6,278.3 1303.3,287.5 1316.0,296.4 1328.7,304.9 1341.4,313.1 1354.1,321.0 1366.8,328.5 1379.5,335.7 1392.2,342.6 1404.9,349.2 1417.6,355.4 1430.3,361.3 1443.0,366.9 1455.8,372.1 1468.5,377.0 1481.2,381.6 1493.9,385.9 1506.6,389.8 1519.3,393.4 1532.0,396.7 1544.7,399.6 1557.4,402.3 1570.1,404.6 1582.8,406.5 1595.5,408.2 1608.2,409.5 1620.9,410.5 1633.6,411.1 1646.3,411.4 1659.0,411.4 1671.8,411.1 1684.5,410.5 1684.5,415.2 1671.8,415.9 1659.0,416.2 1646.3,416.2 1633.6,415.9 1620.9,415.2 1608.2,414.3 1595.5,413.0 1582.8,411.3 1570.1,409.3 1557.4,407.1 1544.7,404.4 1532.0,401.5 1519.3,398.2 1506.6,394.6 1493.9,390.7 1481.2,386.4 1468.5,381.8 1455.8,376.9 1443.0,371.6 1430.3,366.1 1417.6,360.2 1404.9,353.9 1392.2,347.4 1379.5,340.5 1366.8,333.3 1354.1,325.7 1341.4,317.9 1328.7,309.7 1316.0,301.2 1303.3,292.3 1290.6,283.1 1277.9,273.6 1265.2,263.8 1252.5,253.6 1239.7,243.1 1227.0,232.3 1214.3,221.2 1201.6,209.7 1188.9,197.9 1176.2,185.7 1163.5,173.3 1150.8,160.5 1138.1,147.4 1125.4,133.9 1112.7,120.2 1100.0,106.1 1087.3,91.7 1074.6,76.9 1061.9,61.8" fill="#d79aa3"/>
<polygon points="1061.9,61.2 1074.6,76.3 1087.3,91.1 1100.0,105.5 1112.7,119.6 1125.4,133.3 1138.1,146.8 1150.8,159.9 1163.5,172.7 1176.2,185.1 1188.9,197.3 1201.6,209.1 1214.3,220.6 1227.0,231.7 1239.7,242.5 1252.5,253.0 1265.2,263.2 1277.9,273.0 1290.6,282.5 1303.3,291.7 1316.0,300.6 1328.7,309.1 1341.4,317.3 1354.1,325.1 1366.8,332.7 1379.5,339.9 1392.2,346.8 1404.9,353.3 1417.6,359.6 1430.3,365.5 1443.0,371.0 1455.8,376.3 1468.5,381.2 1481.2,385.8 1493.9,390.1 1506.6,394.0 1519.3,397.6 1532.0,400.9 1544.7,403.8 1557.4,406.5 1570.1,408.7 1582.8,410.7 1595.5,412.4 1608.2,413.7 1620.9,414.6 1633.6,415.3 1646.3,415.6 1659.0,415.6 1671.8,415.3 1684.5,414.6 1684.5,419.4 1671.8,420.1 1659.0,420.4 1646.3,420.4 1633.6,420.1 1620.9,419.4 1608.2,418.4 1595.5,417.1 1582.8,415.5 1570.1,413.5 1557.4,411.2 1544.7,408.6 1532.0,405.7 1519.3,402.4 1506.6,398.8 1493.9,394.8 1481.2,390.6 1468.5,386.0 1455.8,381.1 1443.0,375.8 1430.3,370.3 1417.6,364.4 1404.9,358.1 1392.2,351.6 1379.5,344.7 1366.8,337.5 1354.1,329.9 1341.4,322.1 1328.7,313.9 1316.0,305.3 1303.3,296.5 1290.6,287.3 1277.9,277.8 1265.2,268.0 1252.5,257.8 1239.7,247.3 1227.0,236.5 1214.3,225.3 1201.6,213.9 1188.9,202.1 1176.2,189.9 1163.5,177.5 1150.8,164.7 1138.1,151.6 1125.4,138.1 1112.7,124.4 1100.0,110.3 1087.3,95.8 1074.6,81.1 1061.9,66.0" fill="#d7969d"/>
<polygon points="1061.9,65.4 1074.6,80.5 1087.3,95.2 1100.0,109.7 1112.7,123.8 1125.4,137.5 1138.1,151.0 1150.8,164.1 1163.5,176.9 1176.2,189.3 1188.9,201.5 1201.6,213.3 1214.3,224.7 1227.0,235.9 1239.7,246.7 1252.5,257.2 1265.2,267.4 1277.9,277.2 1290.6,286.7 1303.3,295.9 1316.0,304.7 1328.7,313.3 1341.4,321.5 1354.1,329.3 1366.8,336.9 1379.5,344.1 1392.2,351.0 1404.9,357.5 1417.6,363.8 1430.3,369.7 1443.0,375.2 1455.8,380.5 1468.5,385.4 1481.2,390.0 1493.9,394.2 1506.6,398.2 1519.3,401.8 1532.0,405.1 1544.7,408.0 1557.4,410.6 1570.1,412.9 1582.8,414.9 1595.5,416.5 1608.2,417.8 1620.9,418.8 1633.6,419.5 1646.3,419.8 1659.0,419.8 1671.8,419.5 1684.5,418.8 1684.5,423.6 1671.8,424.3 1659.0,424.6 1646.3,424.6 1633.6,424.3 1620.9,423.6 1608.2,422.6 1595.5,421.3 1582.8,419.7 1570.1,417.7 1557.4,415.4 1544.7,412.8 1532.0,409.8 1519.3,406.6 1506.6,403.0 1493.9,399.0 1481.2,394.8 1468.5,390.2 1455.8,385.3 1443.0,380.0 1430.3,374.4 1417.6,368.5 1404.9,362.3 1392.2,355.7 1379.5,348.9 1366.8,341.6 1354.1,334.1 1341.4,326.2 1328.7,318.0 1316.0,309.5 1303.3,300.7 1290.6,291.5 1277.9,282.0 1265.2,272.1 1252.5,262.0 1239.7,251.5 1227.0,240.7 1214.3,229.5 1201.6,218.0 1188.9,206.2 1176.2,194.1 1163.5,181.7 1150.8,168.9 1138.1,155.8 1125.4,142.3 1112.7,128.5 1100.0,114.4 1087.3,100.0 1074.6,85.3 1061.9,70.2" fill="#d69398"/>
<polygon points="1061.9,69.6 1074.6,84.7 1087.3,99.4 1100.0,113.8 1112.7,127.9 1125.4,141.7 1138.1,155.2 1150.8,168.3 1163.5,181.1 1176.2,193.5 1188.9,205.6 1201.6,217.4 1214.3,228.9 1227.0,240.1 1239.7,250.9 1252.5,261.4 1265.2,271.5 1277.9,281.4 1290.6,290.9 1303.3,300.1 1316.0,308.9 1328.7,317.4 1341.4,325.6 1354.1,333.5 1366.8,341.0 1379.5,348.3 1392.2,355.1 1404.9,361.7 1417.6,367.9 1430.3,373.8 1443.0,379.4 1455.8,384.7 1468.5,389.6 1481.2,394.2 1493.9,398.4 1506.6,402.4 1519.3,406.0 1532.0,409.2 1544.7,412.2 1557.4,414.8 1570.1,417.1 1582.8,419.1 1595.5,420.7 1608.2,422.0 1620.9,423.0 1633.6,423.7 1646.3,424.0 1659.0,424.0 1671.8,423.7 1684.5,423.0 1684.5,427.8 1671.8,428.4 1659.0,428.8 1646.3,428.8 1633.6,428.4 1620.9,427.8 1608.2,426.8 1595.5,425.5 1582.8,423.9 1570.1,421.9 1557.4,419.6 1544.7,417.0 1532.0,414.0 1519.3,410.7 1506.6,407.1 1493.9,403.2 1481.2,398.9 1468.5,394.4 1455.8,389.4 1443.0,384.2 1430.3,378.6 1417.6,372.7 1404.9,366.5 1392.2,359.9 1379.5,353.0 1366.8,345.8 1354.1,338.3 1341.4,330.4 1328.7,322.2 1316.0,313.7 1303.3,304.8 1290.6,295.7 1277.9,286.2 1265.2,276.3 1252.5,266.2 1239.7,255.7 1227.0,244.8 1214.3,233.7 1201.6,222.2 1188.9,210.4 1176.2,198.3 1163.5,185.8 1150.8,173.0 1138.1,159.9 1125.4,146.5 1112.7,132.7 1100.0,118.6 1087.3,104.2 1074.6,89.4 1061.9,74.4" fill="#d69092"/>
<polygon points="1061.9,73.8 1074.6,88.8 1087.3,103.6 1100.0,118.0 1112.7,132.1 1125.4,145.9 1138.1,159.3 1150.8,172.4 1163.5,185.2 1176.2,197.7 1188.9,209.8 1201.6,221.6 1214.3,233.1 1227.0,244.2 1239.7,255.1 1252.5,265.6 1265.2,275.7 1277.9,285.6 1290.6,295.1 1303.3,304.2 1316.0,313.1 1328.7,321.6 1341.4,329.8 1354.1,337.7 1366.8,345.2 1379.5,352.4 1392.2,359.3 1404.9,365.9 1417.6,372.1 1430.3,378.0 1443.0,383.6 1455.8,388.8 1468.5,393.8 1481.2,398.3 1493.9,402.6 1506.6,406.5 1519.3,410.1 1532.0,413.4 1544.7,416.4 1557.4,419.0 1570.1,421.3 1582.8,423.3 1595.5,424.9 1608.2,426.2 1620.9,427.2 1633.6,427.8 1646.3,428.2 1659.0,428.2 1671.8,427.8 1684.5,427.2 1684.5,432.0 1671.8,432.6 1659.0,433.0 1646.3,433.0 1633.6,432.6 1620.9,432.0 1608.2,431.0 1595.5,429.7 1582.8,428.0 1570.1,426.1 1557.4,423.8 1544.7,421.2 1532.0,418.2 1519.3,414.9 1506.6,411.3 1493.9,407.4 1481.2,403.1 1468.5,398.5 1455.8,393.6 1443.0,388.4 1430.3,382.8 1417.6,376.9 1404.9,370.7 1392.2,364.1 1379.5,357.2 1366.8,350.0 1354.1,342.5 1341.4,334.6 1328.7,326.4 1316.0,317.9 1303.3,309.0 1290.6,299.8 1277.9,290.3 1265.2,280.5 1252.5,270.3 1239.7,259.9 1227.0,249.0 1214.3,237.9 1201.6,226.4 1188.9,214.6 1176.2,202.5 1163.5,190.0 1150.8,177.2 1138.1,164.1 1125.4,150.7 1112.7,136.9 1100.0,122.8 1087.3,108.4 1074.6,93.6 1061.9,78.5" fill="#d68d8d"/>
<polygon points="1061.9,77.9 1074.6,93.0 1087.3,107.8 1100.0,122.2 1112.7,136.3 1125.4,150.1 1138.1,163.5 1150.8,176.6 1163.5,189.4 1176.2,201.9 1188.9,214.0 1201.6,225.8 1214.3,237.3 1227.0,248.4 1239.7,259.3 1252.5,269.7 1265.2,279.9 1277.9,289.7 1290.6,299.2 1303.3,308.4 1316.0,317.3 1328.7,325.8 1341.4,334.0 1354.1,341.9 1366.8,349.4 1379.5,356.6 1392.2,363.5 1404.9,370.1 1417.6,376.3 1430.3,382.2 1443.0,387.8 1455.8,393.0 1468.5,397.9 1481.2,402.5 1493.9,406.8 1506.6,410.7 1519.3,414.3 1532.0,417.6 1544.7,420.6 1557.4,423.2 1570.1,425.5 1582.8,427.4 1595.5,429.1 1608.2,430.4 1620.9,431.4 1633.6,432.0 1646.3,432.4 1659.0,432.4 1671.8,432.0 1684.5,431.4 1684.5,436.2 1671.8,436.9 1659.0,437.2 1646.3,437.2 1633.6,436.9 1620.9,436.2 1608.2,435.2 1595.5,433.9 1582.8,432.3 1570.1,430.3 1557.4,428.0 1544.7,425.4 1532.0,422.4 1519.3,419.1 1506.6,415.5 1493.9,411.6 1481.2,407.3 1468.5,402.8 1455.8,397.8 1443.0,392.6 1430.3,387.0 1417.6,381.1 1404.9,374.9 1392.2,368.3 1379.5,361.4 1366.8,354.2 1354.1,346.7 1341.4,338.8 1328.7,330.6 1316.0,322.1 1303.3,313.3 1290.6,304.1 1277.9,294.6 1265.2,284.7 1252.5,274.6 1239.7,264.1 1227.0,253.3 1214.3,242.1 1201.6,230.6 1188.9,218.8 1176.2,206.7 1163.5,194.2 1150.8,181.5 1138.1,168.3 1125.4,154.9 1112.7,141.1 1100.0,127.0 1087.3,112.6 1074.6,97.8 1061.9,82.8" fill="#cd6e64"/>
<polygon points="1061.9,82.2 1074.6,97.2 1087.3,112.0 1100.0,126.4 1112.7,140.5 1125.4,154.3 1138.1,167.7 1150.8,180.9 1163.5,193.6 1176.2,206.1 1188.9,218.2 1201.6,230.0 1214.3,241.5 1227.0,252.7 1239.7,263.5 1252.5,274.0 1265.2,284.1 1277.9,294.0 1290.6,303.5 1303.3,312.7 1316.0,321.5 1328.7,330.0 1341.4,338.2 1354.1,346.1 1366.8,353.6 1379.5,360.8 1392.2,367.7 1404.9,374.3 1417.6,380.5 1430.3,386.4 1443.0,392.0 1455.8,397.2 1468.5,402.2 1481.2,406.7 1493.9,411.0 1506.6,414.9 1519.3,418.5 1532.0,421.8 1544.7,424.8 1557.4,427.4 1570.1,429.7 1582.8,431.7 1595.5,433.3 1608.2,434.6 1620.9,435.6 1633.6,436.3 1646.3,436.6 1659.0,436.6 1671.8,436.3 1684.5,435.6 1684.5,440.4 1671.8,441.1 1659.0,441.4 1646.3,441.4 1633.6,441.1 1620.9,440.4 1608.2,439.4 1595.5,438.1 1582.8,436.5 1570.1,434.5 1557.4,432.2 1544.7,429.6 1532.0,426.6 1519.3,423.4 1506.6,419.8 1493.9,415.8 1481.2,411.6 1468.5,407.0 1455.8,402.1 1443.0,396.8 1430.3,391.2 1417.6,385.3 1404.9,379.1 1392.2,372.6 1379.5,365.7 1366.8,358.5 1354.1,350.9 1341.4,343.0 1328.7,334.8 1316.0,326.3 1303.3,317.5 1290.6,308.3 1277.9,298.8 1265.2,288.9 1252.5,278.8 1239.7,268.3 1227.0,257.5 1214.3,246.3 1201.6,234.9 1188.9,223.0 1176.2,210.9 1163.5,198.5 1150.8,185.7 1138.1,172.6 1125.4,159.1 1112.7,145.3 1100.0,131.2 1087.3,116.8 1074.6,102.1 1061.9,87.0" fill="#c86455"/>
<polygon points="1061.9,86.4 1074.6,101.5 1087.3,116.2 1100.0,130.6 1112.7,144.7 1125.4,158.5 1138.1,172.0 1150.8,185.1 1163.5,197.9 1176.2,210.3 1188.9,222.4 1201.6,234.3 1214.3,245.7 1227.0,256.9 1239.7,267.7 1252.5,278.2 1265.2,288.3 1277.9,298.2 1290.6,307.7 1303.3,316.9 1316.0,325.7 1328.7,334.2 1341.4,342.4 1354.1,350.3 1366.8,357.9 1379.5,365.1 1392.2,372.0 1404.9,378.5 1417.6,384.7 1430.3,390.6 1443.0,396.2 1455.8,401.5 1468.5,406.4 1481.2,411.0 1493.9,415.2 1506.6,419.2 1519.3,422.8 1532.0,426.0 1544.7,429.0 1557.4,431.6 1570.1,433.9 1582.8,435.9 1595.5,437.5 1608.2,438.8 1620.9,439.8 1633.6,440.5 1646.3,440.8 1659.0,440.8 1671.8,440.5 1684.5,439.8 1684.5,444.6 1671.8,445.3 1659.0,445.6 1646.3,445.6 1633.6,445.3 1620.9,444.6 1608.2,443.7 1595.5,442.3 1582.8,440.7 1570.1,438.7 1557.4,436.4 1544.7,433.8 1532.0,430.9 1519.3,427.6 1506.6,424.0 1493.9,420.0 1481.2,415.8 1468.5,411.2 1455.8,406.3 1443.0,401.0 1430.3,395.5 1417.6,389.6 1404.9,383.3 1392.2,376.8 1379.5,369.9 1366.8,362.7 1354.1,355.1 1341.4,347.3 1328.7,339.1 1316.0,330.5 1303.3,321.7 1290.6,312.5 1277.9,303.0 1265.2,293.2 1252.5,283.0 1239.7,272.5 1227.0,261.7 1214.3,250.5 1201.6,239.1 1188.9,227.3 1176.2,215.1 1163.5,202.7 1150.8,189.9 1138.1,176.8 1125.4,163.3 1112.7,149.6 1100.0,135.5 1087.3,121.0 1074.6,106.3 1061.9,91.2" fill="#cd6450"/>
<polygon points="1061.9,90.6 1074.6,105.7 1087.3,120.4 1100.0,134.9 1112.7,149.0 1125.4,162.7 1138.1,176.2 1150.8,189.3 1163.5,202.1 1176.2,214.5 1188.9,226.7 1201.6,238.5 1214.3,249.9 1227.0,261.1 1239.7,271.9 1252.5,282.4 1265.2,292.6 1277.9,302.4 1290.6,311.9 1303.3,321.1 1316.0,329.9 1328.7,338.5 1341.4,346.7 1354.1,354.5 1366.8,362.1 1379.5,369.3 1392.2,376.2 1404.9,382.7 1417.6,389.0 1430.3,394.9 1443.0,400.4 1455.8,405.7 1468.5,410.6 1481.2,415.2 1493.9,419.4 1506.6,423.4 1519.3,427.0 1532.0,430.3 1544.7,433.2 1557.4,435.8 1570.1,438.1 1582.8,440.1 1595.5,441.7 1608.2,443.1 1620.9,444.0 1633.6,444.7 1646.3,445.0 1659.0,445.0 1671.8,444.7 1684.5,444.0 1684.5,448.9 1671.8,449.5 1659.0,449.8 1646.3,449.8 1633.6,449.5 1620.9,448.9 1608.2,447.9 1595.5,446.6 1582.8,444.9 1570.1,443.0 1557.4,440.7 1544.7,438.0 1532.0,435.1 1519.3,431.8 1506.6,428.2 1493.9,424.3 1481.2,420.0 1468.5,415.4 1455.8,410.5 1443.0,405.3 1430.3,399.7 1417.6,393.8 1404.9,387.6 1392.2,381.0 1379.5,374.1 1366.8,366.9 1354.1,359.4 1341.4,351.5 1328.7,343.3 1316.0,334.8 1303.3,325.9 1290.6,316.7 1277.9,307.2 1265.2,297.4 1252.5,287.2 1239.7,276.7 1227.0,265.9 1214.3,254.8 1201.6,243.3 1188.9,231.5 1176.2,219.4 1163.5,206.9 1150.8,194.1 1138.1,181.0 1125.4,167.6 1112.7,153.8 1100.0,139.7 1087.3,125.3 1074.6,110.5 1061.9,95.4" fill="#d2644b"/>
<polygon points="1061.9,94.8 1074.6,109.9 1087.3,124.7 1100.0,139.1 1112.7,153.2 1125.4,167.0 1138.1,180.4 1150.8,193.5 1163.5,206.3 1176.2,218.8 1188.9,230.9 1201.6,242.7 1214.3,254.2 1227.0,265.3 1239.7,276.1 1252.5,286.6 1265.2,296.8 1277.9,306.6 1290.6,316.1 1303.3,325.3 1316.0,334.2 1328.7,342.7 1341.4,350.9 1354.1,358.8 1366.8,366.3 1379.5,373.5 1392.2,380.4 1404.9,387.0 1417.6,393.2 1430.3,399.1 1443.0,404.7 1455.8,409.9 1468.5,414.8 1481.2,419.4 1493.9,423.7 1506.6,427.6 1519.3,431.2 1532.0,434.5 1544.7,437.4 1557.4,440.1 1570.1,442.4 1582.8,444.3 1595.5,446.0 1608.2,447.3 1620.9,448.3 1633.6,448.9 1646.3,449.2 1659.0,449.2 1671.8,448.9 1684.5,448.3 1684.5,453.1 1671.8,453.7 1659.0,454.1 1646.3,454.1 1633.6,453.7 1620.9,453.1 1608.2,452.1 1595.5,450.8 1582.8,449.1 1570.1,447.2 1557.4,444.9 1544.7,442.3 1532.0,439.3 1519.3,436.0 1506.6,432.4 1493.9,428.5 1481.2,424.2 1468.5,419.6 1455.8,414.7 1443.0,409.5 1430.3,403.9 1417.6,398.0 1404.9,391.8 1392.2,385.2 1379.5,378.3 1366.8,371.1 1354.1,363.6 1341.4,355.7 1328.7,347.5 1316.0,339.0 1303.3,330.1 1290.6,321.0 1277.9,311.4 1265.2,301.6 1252.5,291.4 1239.7,281.0 1227.0,270.1 1214.3,259.0 1201.6,247.5 1188.9,235.7 1176.2,223.6 1163.5,211.1 1150.8,198.3 1138.1,185.2 1125.4,171.8 1112.7,158.0 1100.0,143.9 1087.3,129.5 1074.6,114.7 1061.9,99.7" fill="#e16946"/>
<polygon points="1061.9,99.1 1074.6,114.1 1087.3,128.9 1100.0,143.3 1112.7,157.4 1125.4,171.2 1138.1,184.6 1150.8,197.7 1163.5,210.5 1176.2,223.0 1188.9,235.1 1201.6,246.9 1214.3,258.4 1227.0,269.5 1239.7,280.4 1252.5,290.8 1265.2,301.0 1277.9,310.8 1290.6,320.4 1303.3,329.5 1316.0,338.4 1328.7,346.9 1341.4,355.1 1354.1,363.0 1366.8,370.5 1379.5,377.7 1392.2,384.6 1404.9,391.2 1417.6,397.4 1430.3,403.3 1443.0,408.9 1455.8,414.1 1468.5,419.0 1481.2,423.6 1493.9,427.9 1506.6,431.8 1519.3,435.4 1532.0,438.7 1544.7,441.7 1557.4,444.3 1570.1,446.6 1582.8,448.5 1595.5,450.2 1608.2,451.5 1620.9,452.5 1633.6,453.1 1646.3,453.5 1659.0,453.5 1671.8,453.1 1684.5,452.5 1684.5,457.3 1671.8,458.0 1659.0,458.3 1646.3,458.3 1633.6,458.0 1620.9,457.3 1608.2,456.3 1595.5,455.0 1582.8,453.4 1570.1,451.4 1557.4,449.1 1544.7,446.5 1532.0,443.5 1519.3,440.3 1506.6,436.6 1493.9,432.7 1481.2,428.5 1468.5,423.9 1455.8,418.9 1443.0,413.7 1430.3,408.1 1417.6,402.2 1404.9,396.0 1392.2,389.4 1379.5,382.6 1366.8,375.3 1354.1,367.8 1341.4,359.9 1328.7,351.7 1316.0,343.2 1303.3,334.4 1290.6,325.2 1277.9,315.7 1265.2,305.8 1252.5,295.7 1239.7,285.2 1227.0,274.4 1214.3,263.2 1201.6,251.7 1188.9,239.9 1176.2,227.8 1163.5,215.3 1150.8,202.6 1138.1,189.4 1125.4,176.0 1112.7,162.2 1100.0,148.1 1087.3,133.7 1074.6,119.0 1061.9,103.9" fill="#f0823c"/>
<polygon points="1061.9,103.3 1074.6,118.4 1087.3,133.1 1100.0,147.5 1112.7,161.6 1125.4,175.4 1138.1,188.8 1150.8,202.0 1163.5,214.7 1176.2,227.2 1188.9,239.3 1201.6,251.1 1214.3,262.6 1227.0,273.8 1239.7,284.6 1252.5,295.1 1265.2,305.2 1277.9,315.1 1290.6,324.6 1303.3,333.8 1316.0,342.6 1328.7,351.1 1341.4,359.3 1354.1,367.2 1366.8,374.7 1379.5,382.0 1392.2,388.8 1404.9,395.4 1417.6,401.6 1430.3,407.5 1443.0,413.1 1455.8,418.3 1468.5,423.3 1481.2,427.9 1493.9,432.1 1506.6,436.0 1519.3,439.7 1532.0,442.9 1544.7,445.9 1557.4,448.5 1570.1,450.8 1582.8,452.8 1595.5,454.4 1608.2,455.7 1620.9,456.7 1633.6,457.4 1646.3,457.7 1659.0,457.7 1671.8,457.4 1684.5,456.7 1684.5,461.5 1671.8,462.2 1659.0,462.5 1646.3,462.5 1633.6,462.2 1620.9,461.5 1608.2,460.5 1595.5,459.2 1582.8,457.6 1570.1,455.6 1557.4,453.3 1544.7,450.7 1532.0,447.8 1519.3,444.5 1506.6,440.9 1493.9,436.9 1481.2,432.7 1468.5,428.1 1455.8,423.2 1443.0,417.9 1430.3,412.3 1417.6,406.4 1404.9,400.2 1392.2,393.7 1379.5,386.8 1366.8,379.6 1354.1,372.0 1341.4,364.1 1328.7,356.0 1316.0,347.4 1303.3,338.6 1290.6,329.4 1277.9,319.9 1265.2,310.1 1252.5,299.9 1239.7,289.4 1227.0,278.6 1214.3,267.4 1201.6,256.0 1188.9,244.2 1176.2,232.0 1163.5,219.6 1150.8,206.8 1138.1,193.7 1125.4,180.2 1112.7,166.5 1100.0,152.4 1087.3,137.9 1074.6,123.2 1061.9,108.1" fill="#f5a037"/>
<polygon points="1061.9,107.5 1074.6,122.6 1087.3,137.3 1100.0,151.8 1112.7,165.9 1125.4,179.6 1138.1,193.1 1150.8,206.2 1163.5,219.0 1176.2,231.4 1188.9,243.6 1201.6,255.4 1214.3,266.8 1227.0,278.0 1239.7,288.8 1252.5,299.3 1265.2,309.5 1277.9,319.3 1290.6,328.8 1303.3,338.0 1316.0,346.8 1328.7,355.4 1341.4,363.5 1354.1,371.4 1366.8,379.0 1379.5,386.2 1392.2,393.1 1404.9,399.6 1417.6,405.8 1430.3,411.7 1443.0,417.3 1455.8,422.6 1468.5,427.5 1481.2,432.1 1493.9,436.3 1506.6,440.3 1519.3,443.9 1532.0,447.2 1544.7,450.1 1557.4,452.7 1570.1,455.0 1582.8,457.0 1595.5,458.6 1608.2,459.9 1620.9,460.9 1633.6,461.6 1646.3,461.9 1659.0,461.9 1671.8,461.6 1684.5,460.9 1684.5,465.7 1671.8,466.4 1659.0,466.7 1646.3,466.7 1633.6,466.4 1620.9,465.7 1608.2,464.8 1595.5,463.4 1582.8,461.8 1570.1,459.8 1557.4,457.5 1544.7,454.9 1532.0,452.0 1519.3,448.7 1506.6,445.1 1493.9,441.2 1481.2,436.9 1468.5,432.3 1455.8,427.4 1443.0,422.1 1430.3,416.6 1417.6,410.7 1404.9,404.4 1392.2,397.9 1379.5,391.0 1366.8,383.8 1354.1,376.2 1341.4,368.4 1328.7,360.2 1316.0,351.6 1303.3,342.8 1290.6,333.6 1277.9,324.1 1265.2,314.3 1252.5,304.1 1239.7,293.6 1227.0,282.8 1214.3,271.7 1201.6,260.2 1188.9,248.4 1176.2,236.2 1163.5,223.8 1150.8,211.0 1138.1,197.9 1125.4,184.4 1112.7,170.7 1100.0,156.6 1087.3,142.1 1074.6,127.4 1061.9,112.3" fill="#f5b237"/>
<polygon points="1061.9,111.7 1074.6,126.8 1087.3,141.5 1100.0,156.0 1112.7,170.1 1125.4,183.8 1138.1,197.3 1150.8,210.4 1163.5,223.2 1176.2,235.6 1188.9,247.8 1201.6,259.6 1214.3,271.1 1227.0,282.2 1239.7,293.0 1252.5,303.5 1265.2,313.7 1277.9,323.5 1290.6,333.0 1303.3,342.2 1316.0,351.0 1328.7,359.6 1341.4,367.8 1354.1,375.6 1366.8,383.2 1379.5,390.4 1392.2,397.3 1404.9,403.8 1417.6,410.1 1430.3,416.0 1443.0,421.5 1455.8,426.8 1468.5,431.7 1481.2,436.3 1493.9,440.6 1506.6,444.5 1519.3,448.1 1532.0,451.4 1544.7,454.3 1557.4,456.9 1570.1,459.2 1582.8,461.2 1595.5,462.8 1608.2,464.2 1620.9,465.1 1633.6,465.8 1646.3,466.1 1659.0,466.1 1671.8,465.8 1684.5,465.1 1684.5,470.0 1671.8,470.6 1659.0,470.9 1646.3,470.9 1633.6,470.6 1620.9,470.0 1608.2,469.0 1595.5,467.7 1582.8,466.0 1570.1,464.1 1557.4,461.8 1544.7,459.1 1532.0,456.2 1519.3,452.9 1506.6,449.3 1493.9,445.4 1481.2,441.1 1468.5,436.5 1455.8,431.6 1443.0,426.4 1430.3,420.8 1417.6,414.9 1404.9,408.7 1392.2,402.1 1379.5,395.2 1366.8,388.0 1354.1,380.5 1341.4,372.6 1328.7,364.4 1316.0,355.9 1303.3,347.0 1290.6,337.8 1277.9,328.3 1265.2,318.5 1252.5,308.3 1239.7,297.8 1227.0,287.0 1214.3,275.9 1201.6,264.4 1188.9,252.6 1176.2,240.5 1163.5,228.0 1150.8,215.2 1138.1,202.1 1125.4,188.7 1112.7,174.9 1100.0,160.8 1087.3,146.4 1074.6,131.6 1061.9,116.5" fill="#ecc837"/>
<polygon points="1061.9,115.9 1074.6,131.0 1087.3,145.8 1100.0,160.2 1112.7,174.3 1125.4,188.1 1138.1,201.5 1150.8,214.6 1163.5,227.4 1176.2,239.9 1188.9,252.0 1201.6,263.8 1214.3,275.3 1227.0,286.4 1239.7,297.2 1252.5,307.7 1265.2,317.9 1277.9,327.7 1290.6,337.2 1303.3,346.4 1316.0,355.3 1328.7,363.8 1341.4,372.0 1354.1,379.9 1366.8,387.4 1379.5,394.6 1392.2,401.5 1404.9,408.1 1417.6,414.3 1430.3,420.2 1443.0,425.8 1455.8,431.0 1468.5,435.9 1481.2,440.5 1493.9,444.8 1506.6,448.7 1519.3,452.3 1532.0,455.6 1544.7,458.5 1557.4,461.2 1570.1,463.5 1582.8,465.4 1595.5,467.1 1608.2,468.4 1620.9,469.4 1633.6,470.0 1646.3,470.3 1659.0,470.3 1671.8,470.0 1684.5,469.4 1684.5,474.2 1671.8,474.8 1659.0,475.2 1646.3,475.2 1633.6,474.8 1620.9,474.2 1608.2,473.2 1595.5,471.9 1582.8,470.3 1570.1,468.3 1557.4,466.0 1544.7,463.4 1532.0,460.4 1519.3,457.1 1506.6,453.5 1493.9,449.6 1481.2,445.3 1468.5,440.7 1455.8,435.8 1443.0,430.6 1430.3,425.0 1417.6,419.1 1404.9,412.9 1392.2,406.3 1379.5,399.4 1366.8,392.2 1354.1,384.7 1341.4,376.8 1328.7,368.6 1316.0,360.1 1303.3,351.2 1290.6,342.1 1277.9,332.6 1265.2,322.7 1252.5,312.6 1239.7,302.1 1227.0,291.2 1214.3,280.1 1201.6,268.6 1188.9,256.8 1176.2,244.7 1163.5,232.2 1150.8,219.4 1138.1,206.3 1125.4,192.9 1112.7,179.1 1100.0,165.0 1087.3,150.6 1074.6,135.8 1061.9,120.8" fill="#c8d23c"/>
<polygon points="1061.9,120.2 1074.6,135.2 1087.3,150.0 1100.0,164.4 1112.7,178.5 1125.4,192.3 1138.1,205.7 1150.8,218.8 1163.5,231.6 1176.2,244.1 1188.9,256.2 1201.6,268.0 1214.3,279.5 1227.0,290.6 1239.7,301.5 1252.5,312.0 1265.2,322.1 1277.9,332.0 1290.6,341.5 1303.3,350.6 1316.0,359.5 1328.7,368.0 1341.4,376.2 1354.1,384.1 1366.8,391.6 1379.5,398.8 1392.2,405.7 1404.9,412.3 1417.6,418.5 1430.3,424.4 1443.0,430.0 1455.8,435.2 1468.5,440.1 1481.2,444.7 1493.9,449.0 1506.6,452.9 1519.3,456.5 1532.0,459.8 1544.7,462.8 1557.4,465.4 1570.1,467.7 1582.8,469.7 1595.5,471.3 1608.2,472.6 1620.9,473.6 1633.6,474.2 1646.3,474.6 1659.0,474.6 1671.8,474.2 1684.5,473.6 1684.5,478.4 1671.8,479.1 1659.0,479.4 1646.3,479.4 1633.6,479.1 1620.9,478.4 1608.2,477.4 1595.5,476.1 1582.8,474.5 1570.1,472.5 1557.4,470.2 1544.7,467.6 1532.0,464.6 1519.3,461.4 1506.6,457.8 1493.9,453.8 1481.2,449.6 1468.5,445.0 1455.8,440.0 1443.0,434.8 1430.3,429.2 1417.6,423.3 1404.9,417.1 1392.2,410.5 1379.5,403.7 1366.8,396.4 1354.1,388.9 1341.4,381.0 1328.7,372.8 1316.0,364.3 1303.3,355.5 1290.6,346.3 1277.9,336.8 1265.2,326.9 1252.5,316.8 1239.7,306.3 1227.0,295.5 1214.3,284.3 1201.6,272.8 1188.9,261.0 1176.2,248.9 1163.5,236.4 1150.8,223.7 1138.1,210.5 1125.4,197.1 1112.7,183.3 1100.0,169.2 1087.3,154.8 1074.6,140.1 1061.9,125.0" fill="#8ccd3c"/>
<polygon points="1061.9,124.4 1074.6,139.5 1087.3,154.2 1100.0,168.6 1112.7,182.7 1125.4,196.5 1138.1,209.9 1150.8,223.1 1163.5,235.8 1176.2,248.3 1188.9,260.4 1201.6,272.2 1214.3,283.7 1227.0,294.9 1239.7,305.7 1252.5,316.2 1265.2,326.3 1277.9,336.2 1290.6,345.7 1303.3,354.9 1316.0,363.7 1328.7,372.2 1341.4,380.4 1354.1,388.3 1366.8,395.8 1379.5,403.1 1392.2,409.9 1404.9,416.5 1417.6,422.7 1430.3,428.6 1443.0,434.2 1455.8,439.4 1468.5,444.4 1481.2,449.0 1493.9,453.2 1506.6,457.2 1519.3,460.8 1532.0,464.0 1544.7,467.0 1557.4,469.6 1570.1,471.9 1582.8,473.9 1595.5,475.5 1608.2,476.8 1620.9,477.8 1633.6,478.5 1646.3,478.8 1659.0,478.8 1671.8,478.5 1684.5,477.8 1684.5,482.6 1671.8,483.3 1659.0,483.6 1646.3,483.6 1633.6,483.3 1620.9,482.6 1608.2,481.6 1595.5,480.3 1582.8,478.7 1570.1,476.7 1557.4,474.4 1544.7,471.8 1532.0,468.9 1519.3,465.6 1506.6,462.0 1493.9,458.0 1481.2,453.8 1468.5,449.2 1455.8,444.3 1443.0,439.0 1430.3,433.4 1417.6,427.5 1404.9,421.3 1392.2,414.8 1379.5,407.9 1366.8,400.7 1354.1,393.1 1341.4,385.3 1328.7,377.1 1316.0,368.5 1303.3,359.7 1290.6,350.5 1277.9,341.0 1265.2,331.2 1252.5,321.0 1239.7,310.5 1227.0,299.7 1214.3,288.5 1201.6,277.1 1188.9,265.3 1176.2,253.1 1163.5,240.7 1150.8,227.9 1138.1,214.8 1125.4,201.3 1112.7,187.6 1100.0,173.5 1087.3,159.0 1074.6,144.3 1061.9,129.2" fill="#5ac33c"/>
<polygon points="1061.9,128.6 1074.6,143.7 1087.3,158.4 1100.0,172.9 1112.7,187.0 1125.4,200.7 1138.1,214.2 1150.8,227.3 1163.5,240.1 1176.2,252.5 1188.9,264.7 1201.6,276.5 1214.3,287.9 1227.0,299.1 1239.7,309.9 1252.5,320.4 1265.2,330.6 1277.9,340.4 1290.6,349.9 1303.3,359.1 1316.0,367.9 1328.7,376.5 1341.4,384.7 1354.1,392.5 1366.8,400.1 1379.5,407.3 1392.2,414.2 1404.9,420.7 1417.6,426.9 1430.3,432.8 1443.0,438.4 1455.8,443.7 1468.5,448.6 1481.2,453.2 1493.9,457.4 1506.6,461.4 1519.3,465.0 1532.0,468.3 1544.7,471.2 1557.4,473.8 1570.1,476.1 1582.8,478.1 1595.5,479.7 1608.2,481.0 1620.9,482.0 1633.6,482.7 1646.3,483.0 1659.0,483.0 1671.8,482.7 1684.5,482.0 1684.5,486.8 1671.8,487.5 1659.0,487.8 1646.3,487.8 1633.6,487.5 1620.9,486.8 1608.2,485.9 1595.5,484.6 1582.8,482.9 1570.1,480.9 1557.4,478.7 1544.7,476.0 1532.0,473.1 1519.3,469.8 1506.6,466.2 1493.9,462.3 1481.2,458.0 1468.5,453.4 1455.8,448.5 1443.0,443.2 1430.3,437.7 1417.6,431.8 1404.9,425.5 1392.2,419.0 1379.5,412.1 1366.8,404.9 1354.1,397.3 1341.4,389.5 1328.7,381.3 1316.0,372.8 1303.3,363.9 1290.6,354.7 1277.9,345.2 1265.2,335.4 1252.5,325.2 1239.7,314.7 1227.0,303.9 1214.3,292.8 1201.6,281.3 1188.9,269.5 1176.2,257.3 1163.5,244.9 1150.8,232.1 1138.1,219.0 1125.4,205.5 1112.7,191.8 1100.0,177.7 1087.3,163.3 1074.6,148.5 1061.9,133.4" fill="#46b46e"/>
<polygon points="1061.9,132.8 1074.6,147.9 1087.3,162.7 1100.0,177.1 1112.7,191.2 1125.4,204.9 1138.1,218.4 1150.8,231.5 1163.5,244.3 1176.2,256.7 1188.9,268.9 1201.6,280.7 1214.3,292.2 1227.0,303.3 1239.7,314.1 1252.5,324.6 1265.2,334.8 1277.9,344.6 1290.6,354.1 1303.3,363.3 1316.0,372.2 1328.7,380.7 1341.4,388.9 1354.1,396.7 1366.8,404.3 1379.5,411.5 1392.2,418.4 1404.9,424.9 1417.6,431.2 1430.3,437.1 1443.0,442.6 1455.8,447.9 1468.5,452.8 1481.2,457.4 1493.9,461.7 1506.6,465.6 1519.3,469.2 1532.0,472.5 1544.7,475.4 1557.4,478.1 1570.1,480.3 1582.8,482.3 1595.5,484.0 1608.2,485.3 1620.9,486.2 1633.6,486.9 1646.3,487.2 1659.0,487.2 1671.8,486.9 1684.5,486.2 1684.5,491.1 1671.8,491.7 1659.0,492.1 1646.3,492.1 1633.6,491.7 1620.9,491.1 1608.2,490.1 1595.5,488.8 1582.8,487.1 1570.1,485.2 1557.4,482.9 1544.7,480.3 1532.0,477.3 1519.3,474.0 1506.6,470.4 1493.9,466.5 1481.2,462.2 1468.5,457.6 1455.8,452.7 1443.0,447.5 1430.3,441.9 1417.6,436.0 1404.9,429.8 1392.2,423.2 1379.5,416.3 1366.8,409.1 1354.1,401.6 1341.4,393.7 1328.7,385.5 1316.0,377.0 1303.3,368.1 1290.6,358.9 1277.9,349.4 1265.2,339.6 1252.5,329.4 1239.7,318.9 1227.0,308.1 1214.3,297.0 1201.6,285.5 1188.9,273.7 1176.2,261.6 1163.5,249.1 1150.8,236.3 1138.1,223.2 1125.4,209.8 1112.7,196.0 1100.0,181.9 1087.3,167.5 1074.6,152.7 1061.9,137.6" fill="#55d4b9"/>
<polygon points="1061.9,137.0 1074.6,152.1 1087.3,166.9 1100.0,181.3 1112.7,195.4 1125.4,209.2 1138.1,222.6 1150.8,235.7 1163.5,248.5 1176.2,261.0 1188.9,273.1 1201.6,284.9 1214.3,296.4 1227.0,307.5 1239.7,318.3 1252.5,328.8 1265.2,339.0 1277.9,348.8 1290.6,358.3 1303.3,367.5 1316.0,376.4 1328.7,384.9 1341.4,393.1 1354.1,401.0 1366.8,408.5 1379.5,415.7 1392.2,422.6 1404.9,429.2 1417.6,435.4 1430.3,441.3 1443.0,446.9 1455.8,452.1 1468.5,457.0 1481.2,461.6 1493.9,465.9 1506.6,469.8 1519.3,473.4 1532.0,476.7 1544.7,479.7 1557.4,482.3 1570.1,484.6 1582.8,486.5 1595.5,488.2 1608.2,489.5 1620.9,490.5 1633.6,491.1 1646.3,491.5 1659.0,491.5 1671.8,491.1 1684.5,490.5 1684.5,495.3 1671.8,495.9 1659.0,496.3 1646.3,496.3 1633.6,495.9 1620.9,495.3 1608.2,494.3 1595.5,493.0 1582.8,491.4 1570.1,489.4 1557.4,487.1 1544.7,484.5 1532.0,481.5 1519.3,478.2 1506.6,474.6 1493.9,470.7 1481.2,466.4 1468.5,461.8 1455.8,456.9 1443.0,451.7 1430.3,446.1 1417.6,440.2 1404.9,434.0 1392.2,427.4 1379.5,420.5 1366.8,413.3 1354.1,405.8 1341.4,397.9 1328.7,389.7 1316.0,381.2 1303.3,372.3 1290.6,363.2 1277.9,353.7 1265.2,343.8 1252.5,333.7 1239.7,323.2 1227.0,312.3 1214.3,301.2 1201.6,289.7 1188.9,277.9 1176.2,265.8 1163.5,253.3 1150.8,240.5 1138.1,227.4 1125.4,214.0 1112.7,200.2 1100.0,186.1 1087.3,171.7 1074.6,156.9 1061.9,141.9" fill="#69dcc8"/>
<polygon points="1061.9,141.3 1074.6,156.3 1087.3,171.1 1100.0,185.5 1112.7,199.6 1125.4,213.4 1138.1,226.8 1150.8,239.9 1163.5,252.7 1176.2,265.2 1188.9,277.3 1201.6,289.1 1214.3,300.6 1227.0,311.7 1239.7,322.6 1252.5,333.1 1265.2,343.2 1277.9,353.1 1290.6,362.6 1303.3,371.7 1316.0,380.6 1328.7,389.1 1341.4,397.3 1354.1,405.2 1366.8,412.7 1379.5,419.9 1392.2,426.8 1404.9,433.4 1417.6,439.6 1430.3,445.5 1443.0,451.1 1455.8,456.3 1468.5,461.2 1481.2,465.8 1493.9,470.1 1506.6,474.0 1519.3,477.6 1532.0,480.9 1544.7,483.9 1557.4,486.5 1570.1,488.8 1582.8,490.8 1595.5,492.4 1608.2,493.7 1620.9,494.7 1633.6,495.3 1646.3,495.7 1659.0,495.7 1671.8,495.3 1684.5,494.7 1684.5,499.5 1671.8,500.2 1659.0,500.5 1646.3,500.5 1633.6,500.2 1620.9,499.5 1608.2,498.5 1595.5,497.2 1582.8,495.6 1570.1,493.6 1557.4,491.3 1544.7,488.7 1532.0,485.7 1519.3,482.5 1506.6,478.9 1493.9,474.9 1481.2,470.7 1468.5,466.1 1455.8,461.2 1443.0,455.9 1430.3,450.3 1417.6,444.4 1404.9,438.2 1392.2,431.6 1379.5,424.8 1366.8,417.5 1354.1,410.0 1341.4,402.1 1328.7,393.9 1316.0,385.4 1303.3,376.6 1290.6,367.4 1277.9,357.9 1265.2,348.0 1252.5,337.9 1239.7,327.4 1227.0,316.6 1214.3,305.4 1201.6,293.9 1188.9,282.1 1176.2,270.0 1163.5,257.6 1150.8,244.8 1138.1,231.7 1125.4,218.2 1112.7,204.4 1100.0,190.3 1087.3,175.9 1074.6,161.2 1061.9,146.1" fill="#82cdc3"/>
<polygon points="1061.9,145.5 1074.6,160.6 1087.3,175.3 1100.0,189.7 1112.7,203.8 1125.4,217.6 1138.1,231.1 1150.8,244.2 1163.5,257.0 1176.2,269.4 1188.9,281.5 1201.6,293.3 1214.3,304.8 1227.0,316.0 1239.7,326.8 1252.5,337.3 1265.2,347.4 1277.9,357.3 1290.6,366.8 1303.3,376.0 1316.0,384.8 1328.7,393.3 1341.4,401.5 1354.1,409.4 1366.8,416.9 1379.5,424.2 1392.2,431.0 1404.9,437.6 1417.6,443.8 1430.3,449.7 1443.0,455.3 1455.8,460.6 1468.5,465.5 1481.2,470.1 1493.9,474.3 1506.6,478.3 1519.3,481.9 1532.0,485.1 1544.7,488.1 1557.4,490.7 1570.1,493.0 1582.8,495.0 1595.5,496.6 1608.2,497.9 1620.9,498.9 1633.6,499.6 1646.3,499.9 1659.0,499.9 1671.8,499.6 1684.5,498.9 1684.5,503.7 1671.8,504.4 1659.0,504.7 1646.3,504.7 1633.6,504.4 1620.9,503.7 1608.2,502.7 1595.5,501.4 1582.8,499.8 1570.1,497.8 1557.4,495.5 1544.7,492.9 1532.0,490.0 1519.3,486.7 1506.6,483.1 1493.9,479.1 1481.2,474.9 1468.5,470.3 1455.8,465.4 1443.0,460.1 1430.3,454.6 1417.6,448.7 1404.9,442.4 1392.2,435.9 1379.5,429.0 1366.8,421.8 1354.1,414.2 1341.4,406.4 1328.7,398.2 1316.0,389.6 1303.3,380.8 1290.6,371.6 1277.9,362.1 1265.2,352.3 1252.5,342.1 1239.7,331.6 1227.0,320.8 1214.3,309.6 1201.6,298.2 1188.9,286.4 1176.2,274.2 1163.5,261.8 1150.8,249.0 1138.1,235.9 1125.4,222.4 1112.7,208.7 1100.0,194.6 1087.3,180.1 1074.6,165.4 1061.9,150.3" fill="#64d4c3"/>
<polygon points="1061.9,149.7 1074.6,164.8 1087.3,179.5 1100.0,194.0 1112.7,208.1 1125.4,221.8 1138.1,235.3 1150.8,248.4 1163.5,261.2 1176.2,273.6 1188.9,285.8 1201.6,297.6 1214.3,309.0 1227.0,320.2 1239.7,331.0 1252.5,341.5 1265.2,351.7 1277.9,361.5 1290.6,371.0 1303.3,380.2 1316.0,389.0 1328.7,397.6 1341.4,405.8 1354.1,413.6 1366.8,421.2 1379.5,428.4 1392.2,435.3 1404.9,441.8 1417.6,448.1 1430.3,454.0 1443.0,459.5 1455.8,464.8 1468.5,469.7 1481.2,474.3 1493.9,478.5 1506.6,482.5 1519.3,486.1 1532.0,489.4 1544.7,492.3 1557.4,494.9 1570.1,497.2 1582.8,499.2 1595.5,500.8 1608.2,502.1 1620.9,503.1 1633.6,503.8 1646.3,504.1 1659.0,504.1 1671.8,503.8 1684.5,503.1 1684.5,508.0 1671.8,508.6 1659.0,508.9 1646.3,508.9 1633.6,508.6 1620.9,508.0 1608.2,507.0 1595.5,505.7 1582.8,504.0 1570.1,502.1 1557.4,499.8 1544.7,497.1 1532.0,494.2 1519.3,490.9 1506.6,487.3 1493.9,483.4 1481.2,479.1 1468.5,474.5 1455.8,469.6 1443.0,464.3 1430.3,458.8 1417.6,452.9 1404.9,446.6 1392.2,440.1 1379.5,433.2 1366.8,426.0 1354.1,418.4 1341.4,410.6 1328.7,402.4 1316.0,393.9 1303.3,385.0 1290.6,375.8 1277.9,366.3 1265.2,356.5 1252.5,346.3 1239.7,335.8 1227.0,325.0 1214.3,313.9 1201.6,302.4 1188.9,290.6 1176.2,278.5 1163.5,266.0 1150.8,253.2 1138.1,240.1 1125.4,226.7 1112.7,212.9 1100.0,198.8 1087.3,184.4 1074.6,169.6 1061.9,154.5" fill="#5fcdd7"/>
<polygon points="1061.9,153.9 1074.6,169.0 1087.3,183.8 1100.0,198.2 1112.7,212.3 1125.4,226.1 1138.1,239.5 1150.8,252.6 1163.5,265.4 1176.2,277.9 1188.9,290.0 1201.6,301.8 1214.3,313.3 1227.0,324.4 1239.7,335.2 1252.5,345.7 1265.2,355.9 1277.9,365.7 1290.6,375.2 1303.3,384.4 1316.0,393.3 1328.7,401.8 1341.4,410.0 1354.1,417.8 1366.8,425.4 1379.5,432.6 1392.2,439.5 1404.9,446.0 1417.6,452.3 1430.3,458.2 1443.0,463.7 1455.8,469.0 1468.5,473.9 1481.2,478.5 1493.9,482.8 1506.6,486.7 1519.3,490.3 1532.0,493.6 1544.7,496.5 1557.4,499.2 1570.1,501.5 1582.8,503.4 1595.5,505.1 1608.2,506.4 1620.9,507.4 1633.6,508.0 1646.3,508.3 1659.0,508.3 1671.8,508.0 1684.5,507.4 1684.5,512.2 1671.8,512.8 1659.0,513.2 1646.3,513.2 1633.6,512.8 1620.9,512.2 1608.2,511.2 1595.5,509.9 1582.8,508.2 1570.1,506.3 1557.4,504.0 1544.7,501.4 1532.0,498.4 1519.3,495.1 1506.6,491.5 1493.9,487.6 1481.2,483.3 1468.5,478.7 1455.8,473.8 1443.0,468.6 1430.3,463.0 1417.6,457.1 1404.9,450.9 1392.2,444.3 1379.5,437.4 1366.8,430.2 1354.1,422.7 1341.4,414.8 1328.7,406.6 1316.0,398.1 1303.3,389.2 1290.6,380.0 1277.9,370.5 1265.2,360.7 1252.5,350.5 1239.7,340.1 1227.0,329.2 1214.3,318.1 1201.6,306.6 1188.9,294.8 1176.2,282.7 1163.5,270.2 1150.8,257.4 1138.1,244.3 1125.4,230.9 1112.7,217.1 1100.0,203.0 1087.3,188.6 1074.6,173.8 1061.9,158.7" fill="#82b4ee"/>
<polygon points="1061.9,158.1 1074.6,173.2 1087.3,188.0 1100.0,202.4 1112.7,216.5 1125.4,230.3 1138.1,243.7 1150.8,256.8 1163.5,269.6 1176.2,282.1 1188.9,294.2 1201.6,306.0 1214.3,317.5 1227.0,328.6 1239.7,339.5 1252.5,349.9 1265.2,360.1 1277.9,369.9 1290.6,379.4 1303.3,388.6 1316.0,397.5 1328.7,406.0 1341.4,414.2 1354.1,422.1 1366.8,429.6 1379.5,436.8 1392.2,443.7 1404.9,450.3 1417.6,456.5 1430.3,462.4 1443.0,468.0 1455.8,473.2 1468.5,478.1 1481.2,482.7 1493.9,487.0 1506.6,490.9 1519.3,494.5 1532.0,497.8 1544.7,500.8 1557.4,503.4 1570.1,505.7 1582.8,507.6 1595.5,509.3 1608.2,510.6 1620.9,511.6 1633.6,512.2 1646.3,512.6 1659.0,512.6 1671.8,512.2 1684.5,511.6 1684.5,516.4 1671.8,517.0 1659.0,517.3 1646.3,517.3 1633.6,517.0 1620.9,516.4 1608.2,515.4 1595.5,514.1 1582.8,512.4 1570.1,510.5 1557.4,508.2 1544.7,505.5 1532.0,502.6 1519.3,499.3 1506.6,495.7 1493.9,491.8 1481.2,487.5 1468.5,482.9 1455.8,478.0 1443.0,472.8 1430.3,467.2 1417.6,461.3 1404.9,455.0 1392.2,448.5 1379.5,441.6 1366.8,434.4 1354.1,426.9 1341.4,419.0 1328.7,410.8 1316.0,402.3 1303.3,393.4 1290.6,384.2 1277.9,374.7 1265.2,364.9 1252.5,354.7 1239.7,344.2 1227.0,333.4 1214.3,322.3 1201.6,310.8 1188.9,299.0 1176.2,286.9 1163.5,274.4 1150.8,261.6 1138.1,248.5 1125.4,235.1 1112.7,221.3 1100.0,207.2 1087.3,192.8 1074.6,178.0 1061.9,162.9" fill="#88c6ef"/>
<polygon points="1061.9,162.3 1074.6,177.4 1087.3,192.2 1100.0,206.6 1112.7,220.7 1125.4,234.5 1138.1,247.9 1150.8,261.0 1163.5,273.8 1176.2,286.3 1188.9,298.4 1201.6,310.2 1214.3,321.7 1227.0,332.8 1239.7,343.6 1252.5,354.1 1265.2,364.3 1277.9,374.1 1290.6,383.6 1303.3,392.8 1316.0,401.7 1328.7,410.2 1341.4,418.4 1354.1,426.3 1366.8,433.8 1379.5,441.0 1392.2,447.9 1404.9,454.4 1417.6,460.7 1430.3,466.6 1443.0,472.2 1455.8,477.4 1468.5,482.3 1481.2,486.9 1493.9,491.2 1506.6,495.1 1519.3,498.7 1532.0,502.0 1544.7,504.9 1557.4,507.6 1570.1,509.9 1582.8,511.8 1595.5,513.5 1608.2,514.8 1620.9,515.8 1633.6,516.4 1646.3,516.7 1659.0,516.7 1671.8,516.4 1684.5,515.8 1684.5,520.5 1671.8,521.2 1659.0,521.5 1646.3,521.5 1633.6,521.2 1620.9,520.5 1608.2,519.6 1595.5,518.2 1582.8,516.6 1570.1,514.6 1557.4,512.3 1544.7,509.7 1532.0,506.8 1519.3,503.5 1506.6,499.9 1493.9,495.9 1481.2,491.7 1468.5,487.1 1455.8,482.2 1443.0,476.9 1430.3,471.4 1417.6,465.5 1404.9,459.2 1392.2,452.7 1379.5,445.8 1366.8,438.6 1354.1,431.0 1341.4,423.2 1328.7,415.0 1316.0,406.4 1303.3,397.6 1290.6,388.4 1277.9,378.9 1265.2,369.1 1252.5,358.9 1239.7,348.4 1227.0,337.6 1214.3,326.4 1201.6,315.0 1188.9,303.2 1176.2,291.0 1163.5,278.6 1150.8,265.8 1138.1,252.7 1125.4,239.2 1112.7,225.5 1100.0,211.4 1087.3,196.9 1074.6,182.2 1061.9,167.1" fill="#89c3f0"/>
<polygon points="1061.9,166.5 1074.6,181.6 1087.3,196.3 1100.0,210.8 1112.7,224.9 1125.4,238.6 1138.1,252.1 1150.8,265.2 1163.5,278.0 1176.2,290.4 1188.9,302.6 1201.6,314.4 1214.3,325.8 1227.0,337.0 1239.7,347.8 1252.5,358.3 1265.2,368.5 1277.9,378.3 1290.6,387.8 1303.3,397.0 1316.0,405.8 1328.7,414.4 1341.4,422.6 1354.1,430.4 1366.8,438.0 1379.5,445.2 1392.2,452.1 1404.9,458.6 1417.6,464.9 1430.3,470.8 1443.0,476.3 1455.8,481.6 1468.5,486.5 1481.2,491.1 1493.9,495.3 1506.6,499.3 1519.3,502.9 1532.0,506.2 1544.7,509.1 1557.4,511.7 1570.1,514.0 1582.8,516.0 1595.5,517.6 1608.2,519.0 1620.9,519.9 1633.6,520.6 1646.3,520.9 1659.0,520.9 1671.8,520.6 1684.5,519.9 1684.5,524.7 1671.8,525.4 1659.0,525.7 1646.3,525.7 1633.6,525.4 1620.9,524.7 1608.2,523.7 1595.5,522.4 1582.8,520.8 1570.1,518.8 1557.4,516.5 1544.7,513.9 1532.0,511.0 1519.3,507.7 1506.6,504.1 1493.9,500.1 1481.2,495.9 1468.5,491.3 1455.8,486.4 1443.0,481.1 1430.3,475.5 1417.6,469.6 1404.9,463.4 1392.2,456.9 1379.5,450.0 1366.8,442.8 1354.1,435.2 1341.4,427.3 1328.7,419.2 1316.0,410.6 1303.3,401.8 1290.6,392.6 1277.9,383.1 1265.2,373.3 1252.5,363.1 1239.7,352.6 1227.0,341.8 1214.3,330.6 1201.6,319.2 1188.9,307.4 1176.2,295.2 1163.5,282.8 1150.8,270.0 1138.1,256.9 1125.4,243.4 1112.7,229.7 1100.0,215.6 1087.3,201.1 1074.6,186.4 1061.9,171.3" fill="#8bc0f1"/>
<polygon points="1061.9,170.7 1074.6,185.8 1087.3,200.5 1100.0,215.0 1112.7,229.1 1125.4,242.8 1138.1,256.3 1150.8,269.4 1163.5,282.2 1176.2,294.6 1188.9,306.8 1201.6,318.6 1214.3,330.0 1227.0,341.2 1239.7,352.0 1252.5,362.5 1265.2,372.7 1277.9,382.5 1290.6,392.0 1303.3,401.2 1316.0,410.0 1328.7,418.6 1341.4,426.7 1354.1,434.6 1366.8,442.2 1379.5,449.4 1392.2,456.3 1404.9,462.8 1417.6,469.0 1430.3,474.9 1443.0,480.5 1455.8,485.8 1468.5,490.7 1481.2,495.3 1493.9,499.5 1506.6,503.5 1519.3,507.1 1532.0,510.4 1544.7,513.3 1557.4,515.9 1570.1,518.2 1582.8,520.2 1595.5,521.8 1608.2,523.1 1620.9,524.1 1633.6,524.8 1646.3,525.1 1659.0,525.1 1671.8,524.8 1684.5,524.1 1684.5,528.9 1671.8,529.6 1659.0,529.9 1646.3,529.9 1633.6,529.6 1620.9,528.9 1608.2,527.9 1595.5,526.6 1582.8,525.0 1570.1,523.0 1557.4,520.7 1544.7,518.1 1532.0,515.1 1519.3,511.9 1506.6,508.2 1493.9,504.3 1481.2,500.1 1468.5,495.5 1455.8,490.5 1443.0,485.3 1430.3,479.7 1417.6,473.8 1404.9,467.6 1392.2,461.0 1379.5,454.2 1366.8,446.9 1354.1,439.4 1341.4,431.5 1328.7,423.3 1316.0,414.8 1303.3,406.0 1290.6,396.8 1277.9,387.3 1265.2,377.4 1252.5,367.3 1239.7,356.8 1227.0,346.0 1214.3,334.8 1201.6,323.3 1188.9,311.5 1176.2,299.4 1163.5,286.9 1150.8,274.2 1138.1,261.0 1125.4,247.6 1112.7,233.8 1100.0,219.7 1087.3,205.3 1074.6,190.6 1061.9,175.5" fill="#8ebef2"/>
<polygon points="1061.9,174.9 1074.6,190.0 1087.3,204.7 1100.0,219.1 1112.7,233.2 1125.4,247.0 1138.1,260.4 1150.8,273.6 1163.5,286.3 1176.2,298.8 1188.9,310.9 1201.6,322.7 1214.3,334.2 1227.0,345.4 1239.7,356.2 1252.5,366.7 1265.2,376.8 1277.9,386.7 1290.6,396.2 1303.3,405.4 1316.0,414.2 1328.7,422.7 1341.4,430.9 1354.1,438.8 1366.8,446.3 1379.5,453.6 1392.2,460.4 1404.9,467.0 1417.6,473.2 1430.3,479.1 1443.0,484.7 1455.8,489.9 1468.5,494.9 1481.2,499.5 1493.9,503.7 1506.6,507.6 1519.3,511.3 1532.0,514.5 1544.7,517.5 1557.4,520.1 1570.1,522.4 1582.8,524.4 1595.5,526.0 1608.2,527.3 1620.9,528.3 1633.6,529.0 1646.3,529.3 1659.0,529.3 1671.8,529.0 1684.5,528.3 1684.5,533.1 1671.8,533.7 1659.0,534.1 1646.3,534.1 1633.6,533.7 1620.9,533.1 1608.2,532.1 1595.5,530.8 1582.8,529.2 1570.1,527.2 1557.4,524.9 1544.7,522.3 1532.0,519.3 1519.3,516.0 1506.6,512.4 1493.9,508.5 1481.2,504.2 1468.5,499.6 1455.8,494.7 1443.0,489.5 1430.3,483.9 1417.6,478.0 1404.9,471.8 1392.2,465.2 1379.5,458.3 1366.8,451.1 1354.1,443.6 1341.4,435.7 1328.7,427.5 1316.0,419.0 1303.3,410.1 1290.6,401.0 1277.9,391.5 1265.2,381.6 1252.5,371.5 1239.7,361.0 1227.0,350.1 1214.3,339.0 1201.6,327.5 1188.9,315.7 1176.2,303.6 1163.5,291.1 1150.8,278.3 1138.1,265.2 1125.4,251.8 1112.7,238.0 1100.0,223.9 1087.3,209.5 1074.6,194.7 1061.9,179.7" fill="#97bbf4"/>
<polygon points="1061.9,179.1 1074.6,194.1 1087.3,208.9 1100.0,223.3 1112.7,237.4 1125.4,251.2 1138.1,264.6 1150.8,277.7 1163.5,290.5 1176.2,303.0 1188.9,315.1 1201.6,326.9 1214.3,338.4 1227.0,349.5 1239.7,360.4 1252.5,370.9 1265.2,381.0 1277.9,390.9 1290.6,400.4 1303.3,409.5 1316.0,418.4 1328.7,426.9 1341.4,435.1 1354.1,443.0 1366.8,450.5 1379.5,457.7 1392.2,464.6 1404.9,471.2 1417.6,477.4 1430.3,483.3 1443.0,488.9 1455.8,494.1 1468.5,499.0 1481.2,503.6 1493.9,507.9 1506.6,511.8 1519.3,515.4 1532.0,518.7 1544.7,521.7 1557.4,524.3 1570.1,526.6 1582.8,528.6 1595.5,530.2 1608.2,531.5 1620.9,532.5 1633.6,533.1 1646.3,533.5 1659.0,533.5 1671.8,533.1 1684.5,532.5 1684.5,537.3 1671.8,537.9 1659.0,538.2 1646.3,538.2 1633.6,537.9 1620.9,537.3 1608.2,536.3 1595.5,535.0 1582.8,533.3 1570.1,531.4 1557.4,529.1 1544.7,526.4 1532.0,523.5 1519.3,520.2 1506.6,516.6 1493.9,512.7 1481.2,508.4 1468.5,503.8 1455.8,498.9 1443.0,493.7 1430.3,488.1 1417.6,482.2 1404.9,476.0 1392.2,469.4 1379.5,462.5 1366.8,455.3 1354.1,447.8 1341.4,439.9 1328.7,431.7 1316.0,423.2 1303.3,414.3 1290.6,405.1 1277.9,395.6 1265.2,385.8 1252.5,375.6 1239.7,365.1 1227.0,354.3 1214.3,343.2 1201.6,331.7 1188.9,319.9 1176.2,307.8 1163.5,295.3 1150.8,282.5 1138.1,269.4 1125.4,256.0 1112.7,242.2 1100.0,228.1 1087.3,213.7 1074.6,198.9 1061.9,183.8" fill="#a0b9f6"/>
<polygon points="1061.9,183.2 1074.6,198.3 1087.3,213.1 1100.0,227.5 1112.7,241.6 1125.4,255.4 1138.1,268.8 1150.8,281.9 1163.5,294.7 1176.2,307.2 1188.9,319.3 1201.6,331.1 1214.3,342.6 1227.0,353.7 1239.7,364.5 1252.5,375.0 1265.2,385.2 1277.9,395.0 1290.6,404.5 1303.3,413.7 1316.0,422.6 1328.7,431.1 1341.4,439.3 1354.1,447.2 1366.8,454.7 1379.5,461.9 1392.2,468.8 1404.9,475.4 1417.6,481.6 1430.3,487.5 1443.0,493.1 1455.8,498.3 1468.5,503.2 1481.2,507.8 1493.9,512.1 1506.6,516.0 1519.3,519.6 1532.0,522.9 1544.7,525.8 1557.4,528.5 1570.1,530.8 1582.8,532.7 1595.5,534.4 1608.2,535.7 1620.9,536.7 1633.6,537.3 1646.3,537.6 1659.0,537.6 1671.8,537.3 1684.5,536.7 1684.5,541.4 1671.8,542.1 1659.0,542.4 1646.3,542.4 1633.6,542.1 1620.9,541.4 1608.2,540.5 1595.5,539.2 1582.8,537.5 1570.1,535.5 1557.4,533.3 1544.7,530.6 1532.0,527.7 1519.3,524.4 1506.6,520.8 1493.9,516.9 1481.2,512.6 1468.5,508.0 1455.8,503.1 1443.0,497.8 1430.3,492.3 1417.6,486.4 1404.9,480.1 1392.2,473.6 1379.5,466.7 1366.8,459.5 1354.1,451.9 1341.4,444.1 1328.7,435.9 1316.0,427.4 1303.3,418.5 1290.6,409.3 1277.9,399.8 1265.2,390.0 1252.5,379.8 1239.7,369.3 1227.0,358.5 1214.3,347.4 1201.6,335.9 1188.9,324.1 1176.2,311.9 1163.5,299.5 1150.8,286.7 1138.1,273.6 1125.4,260.1 1112.7,246.4 1100.0,232.3 1087.3,217.9 1074.6,203.1 1061.9,188.0" fill="#b4bef7"/>
<polygon points="1061.9,187.4 1074.6,202.5 1087.3,217.3 1100.0,231.7 1112.7,245.8 1125.4,259.5 1138.1,273.0 1150.8,286.1 1163.5,298.9 1176.2,311.3 1188.9,323.5 1201.6,335.3 1214.3,346.8 1227.0,357.9 1239.7,368.7 1252.5,379.2 1265.2,389.4 1277.9,399.2 1290.6,408.7 1303.3,417.9 1316.0,426.8 1328.7,435.3 1341.4,443.5 1354.1,451.3 1366.8,458.9 1379.5,466.1 1392.2,473.0 1404.9,479.5 1417.6,485.8 1430.3,491.7 1443.0,497.2 1455.8,502.5 1468.5,507.4 1481.2,512.0 1493.9,516.3 1506.6,520.2 1519.3,523.8 1532.0,527.1 1544.7,530.0 1557.4,532.7 1570.1,534.9 1582.8,536.9 1595.5,538.6 1608.2,539.9 1620.9,540.8 1633.6,541.5 1646.3,541.8 1659.0,541.8 1671.8,541.5 1684.5,540.8 1684.5,545.6 1671.8,546.3 1659.0,546.6 1646.3,546.6 1633.6,546.3 1620.9,545.6 1608.2,544.6 1595.5,543.3 1582.8,541.7 1570.1,539.7 1557.4,537.4 1544.7,534.8 1532.0,531.9 1519.3,528.6 1506.6,525.0 1493.9,521.0 1481.2,516.8 1468.5,512.2 1455.8,507.3 1443.0,502.0 1430.3,496.5 1417.6,490.6 1404.9,484.3 1392.2,477.8 1379.5,470.9 1366.8,463.7 1354.1,456.1 1341.4,448.3 1328.7,440.1 1316.0,431.5 1303.3,422.7 1290.6,413.5 1277.9,404.0 1265.2,394.2 1252.5,384.0 1239.7,373.5 1227.0,362.7 1214.3,351.5 1201.6,340.1 1188.9,328.3 1176.2,316.1 1163.5,303.7 1150.8,290.9 1138.1,277.8 1125.4,264.3 1112.7,250.6 1100.0,236.5 1087.3,222.0 1074.6,207.3 1061.9,192.2" fill="#c7c4f9"/>
<polygon points="1061.9,191.6 1074.6,206.7 1087.3,221.4 1100.0,235.9 1112.7,250.0 1125.4,263.7 1138.1,277.2 1150.8,290.3 1163.5,303.1 1176.2,315.5 1188.9,327.7 1201.6,339.5 1214.3,350.9 1227.0,362.1 1239.7,372.9 1252.5,383.4 1265.2,393.6 1277.9,403.4 1290.6,412.9 1303.3,422.1 1316.0,430.9 1328.7,439.5 1341.4,447.7 1354.1,455.5 1366.8,463.1 1379.5,470.3 1392.2,477.2 1404.9,483.7 1417.6,490.0 1430.3,495.9 1443.0,501.4 1455.8,506.7 1468.5,511.6 1481.2,516.2 1493.9,520.4 1506.6,524.4 1519.3,528.0 1532.0,531.3 1544.7,534.2 1557.4,536.8 1570.1,539.1 1582.8,541.1 1595.5,542.7 1608.2,544.0 1620.9,545.0 1633.6,545.7 1646.3,546.0 1659.0,546.0 1671.8,545.7 1684.5,545.0 1684.5,549.8 1671.8,550.5 1659.0,550.8 1646.3,550.8 1633.6,550.5 1620.9,549.8 1608.2,548.8 1595.5,547.5 1582.8,545.9 1570.1,543.9 1557.4,541.6 1544.7,539.0 1532.0,536.0 1519.3,532.8 1506.6,529.2 1493.9,525.2 1481.2,521.0 1468.5,516.4 1455.8,511.5 1443.0,506.2 1430.3,500.6 1417.6,494.7 1404.9,488.5 1392.2,481.9 1379.5,475.1 1366.8,467.8 1354.1,460.3 1341.4,452.4 1328.7,444.2 1316.0,435.7 1303.3,426.9 1290.6,417.7 1277.9,408.2 1265.2,398.3 1252.5,388.2 1239.7,377.7 1227.0,366.9 1214.3,355.7 1201.6,344.2 1188.9,332.4 1176.2,320.3 1163.5,307.9 1150.8,295.1 1138.1,282.0 1125.4,268.5 1112.7,254.7 1100.0,240.6 1087.3,226.2 1074.6,211.5 1061.9,196.4" fill="#d9d1fa"/>
<polygon points="1061.9,195.8 1074.6,210.9 1087.3,225.6 1100.0,240.0 1112.7,254.1 1125.4,267.9 1138.1,281.4 1150.8,294.5 1163.5,307.3 1176.2,319.7 1188.9,331.8 1201.6,343.6 1214.3,355.1 1227.0,366.3 1239.7,377.1 1252.5,387.6 1265.2,397.7 1277.9,407.6 1290.6,417.1 1303.3,426.3 1316.0,435.1 1328.7,443.6 1341.4,451.8 1354.1,459.7 1366.8,467.2 1379.5,474.5 1392.2,481.3 1404.9,487.9 1417.6,494.1 1430.3,500.0 1443.0,505.6 1455.8,510.9 1468.5,515.8 1481.2,520.4 1493.9,524.6 1506.6,528.6 1519.3,532.2 1532.0,535.4 1544.7,538.4 1557.4,541.0 1570.1,543.3 1582.8,545.3 1595.5,546.9 1608.2,548.2 1620.9,549.2 1633.6,549.9 1646.3,550.2 1659.0,550.2 1671.8,549.9 1684.5,549.2 1684.5,554.0 1671.8,554.6 1659.0,555.0 1646.3,555.0 1633.6,554.6 1620.9,554.0 1608.2,553.0 1595.5,551.7 1582.8,550.1 1570.1,548.1 1557.4,545.8 1544.7,543.2 1532.0,540.2 1519.3,536.9 1506.6,533.3 1493.9,529.4 1481.2,525.1 1468.5,520.6 1455.8,515.6 1443.0,510.4 1430.3,504.8 1417.6,498.9 1404.9,492.7 1392.2,486.1 1379.5,479.2 1366.8,472.0 1354.1,464.5 1341.4,456.6 1328.7,448.4 1316.0,439.9 1303.3,431.0 1290.6,421.9 1277.9,412.4 1265.2,402.5 1252.5,392.4 1239.7,381.9 1227.0,371.0 1214.3,359.9 1201.6,348.4 1188.9,336.6 1176.2,324.5 1163.5,312.0 1150.8,299.2 1138.1,286.1 1125.4,272.7 1112.7,258.9 1100.0,244.8 1087.3,230.4 1074.6,215.6 1061.9,200.6" fill="#eae0fb"/>
<polygon points="1061.9,200.0 1074.6,215.0 1087.3,229.8 1100.0,244.2 1112.7,258.3 1125.4,272.1 1138.1,285.5 1150.8,298.6 1163.5,311.4 1176.2,323.9 1188.9,336.0 1201.6,347.8 1214.3,359.3 1227.0,370.4 1239.7,381.3 1252.5,391.8 1265.2,401.9 1277.9,411.8 1290.6,421.3 1303.3,430.4 1316.0,439.3 1328.7,447.8 1341.4,456.0 1354.1,463.9 1366.8,471.4 1379.5,478.6 1392.2,485.5 1404.9,492.1 1417.6,498.3 1430.3,504.2 1443.0,509.8 1455.8,515.0 1468.5,520.0 1481.2,524.5 1493.9,528.8 1506.6,532.7 1519.3,536.3 1532.0,539.6 1544.7,542.6 1557.4,545.2 1570.1,547.5 1582.8,549.5 1595.5,551.1 1608.2,552.4 1620.9,553.4 1633.6,554.0 1646.3,554.4 1659.0,554.4 1671.8,554.0 1684.5,553.4 1684.5,557.6 1671.8,558.2 1659.0,558.6 1646.3,558.6 1633.6,558.2 1620.9,557.6 1608.2,556.6 1595.5,555.3 1582.8,553.6 1570.1,551.7 1557.4,549.4 1544.7,546.8 1532.0,543.8 1519.3,540.5 1506.6,536.9 1493.9,533.0 1481.2,528.7 1468.5,524.1 1455.8,519.2 1443.0,514.0 1430.3,508.4 1417.6,502.5 1404.9,496.3 1392.2,489.7 1379.5,482.8 1366.8,475.6 1354.1,468.1 1341.4,460.2 1328.7,452.0 1316.0,443.5 1303.3,434.6 1290.6,425.4 1277.9,415.9 1265.2,406.1 1252.5,395.9 1239.7,385.5 1227.0,374.6 1214.3,363.5 1201.6,352.0 1188.9,340.2 1176.2,328.1 1163.5,315.6 1150.8,302.8 1138.1,289.7 1125.4,276.3 1112.7,262.5 1100.0,248.4 1087.3,234.0 1074.6,219.2 1061.9,204.1" fill="#f5effd"/>
</g>
<g clip-path="url(#cBd)">
<circle cx="1079.0" cy="53.5" r="5" fill="#800080"/>
<circle cx="1084.7" cy="53.5" r="5" fill="#800080"/>
<circle cx="1089.8" cy="53.5" r="5" fill="#800080"/>
<circle cx="1094.9" cy="53.5" r="5" fill="#800080"/>
<circle cx="1099.3" cy="53.5" r="5" fill="#8a1060"/>
<circle cx="1084.1" cy="86.6" r="5" fill="#ffcd00"/>
<circle cx="1070.3" cy="86.6" r="5" fill="#800080"/>
<circle cx="1090.5" cy="86.6" r="5" fill="#8b0000"/>
<circle cx="1101.3" cy="86.6" r="5" fill="#8b0000"/>
<circle cx="1106.3" cy="86.6" r="5" fill="#9a1010"/>
<circle cx="1078.8" cy="119.7" r="5" fill="#ff0000"/>
<circle cx="1085.1" cy="119.7" r="5" fill="#b22222"/>
<circle cx="1098.7" cy="119.7" r="5" fill="#a0f51e"/>
<circle cx="1104.4" cy="119.7" r="5" fill="#800080"/>
<circle cx="1139.4" cy="119.7" r="5" fill="#800080"/>
<circle cx="1145.1" cy="119.7" r="5" fill="#8b0000"/>
<circle cx="1083.5" cy="152.8" r="5" fill="#7a2a1a"/>
<circle cx="1096.2" cy="152.8" r="5" fill="#fffa00"/>
<circle cx="1107.0" cy="152.8" r="5" fill="#c41450"/>
<circle cx="1113.3" cy="152.8" r="5" fill="#c41450"/>
<circle cx="1141.3" cy="152.8" r="5" fill="#a0f51e"/>
<circle cx="1136.2" cy="152.8" r="5" fill="#87c8fa"/>
<circle cx="1146.4" cy="152.8" r="5" fill="#800080"/>
<circle cx="1152.7" cy="152.8" r="5" fill="#800080"/>
<circle cx="1091.5" cy="185.9" r="5" fill="#3030d0"/>
<circle cx="1097.8" cy="185.9" r="5" fill="#6020c0"/>
<circle cx="1103.2" cy="185.9" r="5" fill="#7040c0"/>
<circle cx="1137.5" cy="185.9" r="5" fill="#c41450"/>
<circle cx="1144.5" cy="185.9" r="5" fill="#ff0000"/>
<circle cx="1150.8" cy="185.9" r="5" fill="#c41450"/>
<circle cx="1092.7" cy="219.0" r="5" fill="#ffcd00"/>
<circle cx="1104.4" cy="219.0" r="5" fill="#800080"/>
<circle cx="1142.5" cy="219.0" r="5" fill="#00f500"/>
<circle cx="1148.3" cy="219.0" r="5" fill="#008000"/>
<circle cx="1169.9" cy="219.0" r="5" fill="#ff0000"/>
<circle cx="1143.8" cy="252.1" r="5" fill="#a0f51e"/>
<circle cx="1137.5" cy="252.1" r="5" fill="#008080"/>
<circle cx="1159.1" cy="252.1" r="5" fill="#800080"/>
<circle cx="1165.4" cy="252.1" r="5" fill="#800080"/>
<circle cx="1174.3" cy="252.1" r="5" fill="#a52a2a"/>
<circle cx="1180.7" cy="252.1" r="5" fill="#a52a2a"/>
<circle cx="1205.4" cy="252.1" r="5" fill="#ff0000"/>
<circle cx="1316.0" cy="252.1" r="5" fill="#800080"/>
<circle cx="1142.5" cy="285.2" r="5" fill="#008080"/>
<circle cx="1188.3" cy="285.2" r="5" fill="#800080"/>
<circle cx="1195.9" cy="285.2" r="5" fill="#800080"/>
<circle cx="1210.5" cy="285.2" r="5" fill="#5030c0"/>
<circle cx="1218.1" cy="285.2" r="5" fill="#a52a2a"/>
<circle cx="1225.8" cy="285.2" r="5" fill="#a52a2a"/>
<circle cx="1321.1" cy="285.2" r="5" fill="#b22222"/>
<circle cx="1331.9" cy="285.2" r="5" fill="#8b0000"/>
<circle cx="1339.5" cy="285.2" r="5" fill="#c41450"/>
<circle cx="1345.2" cy="285.2" r="5" fill="#800080"/>
<circle cx="1357.3" cy="285.2" r="5" fill="#8b0000"/>
<circle cx="1138.4" cy="318.3" r="5" fill="#008080"/>
<circle cx="1143.2" cy="318.3" r="5" fill="#008080"/>
<circle cx="1154.6" cy="318.3" r="5" fill="#ffa500"/>
<circle cx="1166.1" cy="318.3" r="5" fill="#8b0000"/>
<circle cx="1181.3" cy="318.3" r="5" fill="#8b0000"/>
<circle cx="1190.8" cy="318.3" r="5" fill="#b22222"/>
<circle cx="1201.6" cy="318.3" r="5" fill="#800080"/>
<circle cx="1343.3" cy="318.3" r="5" fill="#00b0f5"/>
<circle cx="1349.0" cy="318.3" r="5" fill="#800080"/>
<circle cx="1358.6" cy="318.3" r="5" fill="#b22222"/>
<circle cx="1364.9" cy="318.3" r="5" fill="#8b0000"/>
<circle cx="1380.2" cy="318.3" r="5" fill="#ffa500"/>
<circle cx="1372.5" cy="318.3" r="5" fill="#ff0000"/>
<circle cx="1466.6" cy="318.3" r="5" fill="#b22222"/>
<circle cx="1474.8" cy="318.3" r="5" fill="#800080"/>
<circle cx="1136.2" cy="351.4" r="5" fill="#0000f0"/>
<circle cx="1225.8" cy="351.4" r="5" fill="#a0208a"/>
<circle cx="1278.5" cy="351.4" r="5" fill="#800080"/>
<circle cx="1302.0" cy="351.4" r="5" fill="#a52a2a"/>
<circle cx="1357.9" cy="351.4" r="5" fill="#ff0000"/>
<circle cx="1361.7" cy="351.4" r="5" fill="#b22222"/>
<circle cx="1387.1" cy="351.4" r="5" fill="#ffa500"/>
<circle cx="1368.1" cy="351.4" r="5" fill="#800080"/>
<circle cx="1373.5" cy="351.4" r="5" fill="#800080"/>
<circle cx="1378.2" cy="351.4" r="5" fill="#800080"/>
<circle cx="1475.4" cy="351.4" r="5" fill="#b22222"/>
<circle cx="1483.7" cy="351.4" r="5" fill="#8b0000"/>
<circle cx="1493.2" cy="351.4" r="5" fill="#ffcd00"/>
<circle cx="1496.4" cy="351.4" r="5" fill="#800080"/>
<circle cx="1343.9" cy="384.5" r="5" fill="#a52a2a"/>
<circle cx="1347.1" cy="384.5" r="5" fill="#008000"/>
<circle cx="1365.5" cy="384.5" r="5" fill="#00f500"/>
<circle cx="1373.5" cy="384.5" r="5" fill="#ffa500"/>
<circle cx="1382.7" cy="384.5" r="5" fill="#ff0000"/>
<circle cx="1394.1" cy="384.5" r="5" fill="#c41450"/>
<circle cx="1401.8" cy="384.5" r="5" fill="#c41450"/>
<circle cx="1413.2" cy="384.5" r="5" fill="#800080"/>
<circle cx="1437.3" cy="384.5" r="5" fill="#4169e1"/>
<circle cx="1460.2" cy="384.5" r="5" fill="#00f0f5"/>
<circle cx="1464.0" cy="384.5" r="5" fill="#b22222"/>
<circle cx="1468.5" cy="384.5" r="5" fill="#800080"/>
<circle cx="1479.3" cy="384.5" r="5" fill="#800080"/>
<circle cx="1679.4" cy="384.5" r="5" fill="#303048"/>
<circle cx="1347.1" cy="417.6" r="5" fill="#4169e1"/>
<circle cx="1367.4" cy="417.6" r="5" fill="#00f500"/>
<circle cx="1375.7" cy="417.6" r="5" fill="#c41450"/>
<circle cx="1417.6" cy="417.6" r="5" fill="#800080"/>
<circle cx="1434.8" cy="417.6" r="5" fill="#0000f0"/>
<circle cx="1453.8" cy="417.6" r="5" fill="#ff0000"/>
<circle cx="1460.8" cy="417.6" r="5" fill="#ff0000"/>
<circle cx="1468.5" cy="417.6" r="5" fill="#c41450"/>
<circle cx="1478.0" cy="417.6" r="5" fill="#b22222"/>
<circle cx="1495.1" cy="417.6" r="5" fill="#800080"/>
<circle cx="1544.1" cy="417.6" r="5" fill="#800080"/>
<circle cx="1552.3" cy="417.6" r="5" fill="#800080"/>
<circle cx="1567.6" cy="417.6" r="5" fill="#4169e1"/>
<circle cx="1561.8" cy="417.6" r="5" fill="#ff0000"/>
<circle cx="1614.6" cy="417.6" r="5" fill="#008000"/>
<circle cx="1601.2" cy="417.6" r="5" fill="#8b0000"/>
<circle cx="1608.2" cy="417.6" r="5" fill="#8b0000"/>
<circle cx="1624.7" cy="417.6" r="5" fill="#ffa500"/>
<circle cx="1620.3" cy="417.6" r="5" fill="#b22222"/>
<circle cx="1650.8" cy="417.6" r="5" fill="#fffa00"/>
<circle cx="1646.3" cy="417.6" r="5" fill="#800080"/>
<circle cx="1665.4" cy="417.6" r="5" fill="#ff0000"/>
<circle cx="1347.8" cy="450.7" r="5" fill="#00b0f5"/>
<circle cx="1354.1" cy="450.7" r="5" fill="#0000f0"/>
<circle cx="1429.7" cy="450.7" r="5" fill="#0000f0"/>
<circle cx="1438.6" cy="450.7" r="5" fill="#4169e1"/>
<circle cx="1449.4" cy="450.7" r="5" fill="#008080"/>
<circle cx="1460.2" cy="450.7" r="5" fill="#b22222"/>
<circle cx="1467.2" cy="450.7" r="5" fill="#b22222"/>
<circle cx="1476.7" cy="450.7" r="5" fill="#fffa00"/>
<circle cx="1492.0" cy="450.7" r="5" fill="#00f500"/>
<circle cx="1499.0" cy="450.7" r="5" fill="#ffa500"/>
<circle cx="1509.8" cy="450.7" r="5" fill="#800080"/>
<circle cx="1517.4" cy="450.7" r="5" fill="#800080"/>
<circle cx="1531.4" cy="450.7" r="5" fill="#c41450"/>
<circle cx="1543.4" cy="450.7" r="5" fill="#c41450"/>
<circle cx="1570.1" cy="450.7" r="5" fill="#ff0000"/>
<circle cx="1585.4" cy="450.7" r="5" fill="#ff0000"/>
<circle cx="1596.8" cy="450.7" r="5" fill="#ff0000"/>
<circle cx="1609.5" cy="450.7" r="5" fill="#b22222"/>
<circle cx="1615.2" cy="450.7" r="5" fill="#b22222"/>
<circle cx="1620.9" cy="450.7" r="5" fill="#b22222"/>
<circle cx="1626.0" cy="450.7" r="5" fill="#b22222"/>
<circle cx="1631.1" cy="450.7" r="5" fill="#b22222"/>
<circle cx="1640.0" cy="450.7" r="5" fill="#fffa00"/>
<circle cx="1635.5" cy="450.7" r="5" fill="#800080"/>
<circle cx="1646.3" cy="450.7" r="5" fill="#b22222"/>
<circle cx="1665.4" cy="450.7" r="5" fill="#a01070"/>
<circle cx="1431.6" cy="483.8" r="5" fill="#0000f0"/>
<circle cx="1436.1" cy="483.8" r="5" fill="#6890c0"/>
<circle cx="1440.5" cy="483.8" r="5" fill="#6890c0"/>
<circle cx="1464.6" cy="483.8" r="5" fill="#008080"/>
<circle cx="1500.2" cy="483.8" r="5" fill="#ffcd00"/>
<circle cx="1556.8" cy="483.8" r="5" fill="#b22222"/>
<circle cx="1565.0" cy="483.8" r="5" fill="#b22222"/>
<circle cx="1574.6" cy="483.8" r="5" fill="#0000f0"/>
<circle cx="1582.8" cy="483.8" r="5" fill="#4030d0"/>
<circle cx="1591.7" cy="483.8" r="5" fill="#b22222"/>
<circle cx="1606.3" cy="483.8" r="5" fill="#ffa500"/>
<circle cx="1617.1" cy="483.8" r="5" fill="#00f0f5"/>
<circle cx="1627.9" cy="483.8" r="5" fill="#800080"/>
<circle cx="1643.8" cy="483.8" r="5" fill="#ffa500"/>
<circle cx="1638.7" cy="483.8" r="5" fill="#b22222"/>
<circle cx="1431.6" cy="516.9" r="5" fill="#0000f0"/>
<circle cx="1436.7" cy="516.9" r="5" fill="#0000f0"/>
<circle cx="1569.5" cy="516.9" r="5" fill="#0000f0"/>
<circle cx="1576.5" cy="516.9" r="5" fill="#0000f0"/>
<circle cx="1590.4" cy="516.9" r="5" fill="#20c8f0"/>
<circle cx="1601.2" cy="516.9" r="5" fill="#30d0e8"/>
<circle cx="1610.8" cy="516.9" r="5" fill="#20f0f0"/>
<circle cx="1645.7" cy="516.9" r="5" fill="#a01414"/>
<circle cx="1553.9" cy="550.0" r="5" fill="#0000e0"/>
<circle cx="1570.4" cy="550.0" r="5" fill="#0000f0"/>
<circle cx="1624.4" cy="550.0" r="5" fill="#008080"/>
<circle cx="1671.1" cy="550.0" r="5" fill="#ffa500"/>
</g>
<g clip-path="url(#cB)" fill-opacity="0.12">
<polygon points="1061.9,77.9 1074.6,93.0 1087.3,107.8 1100.0,122.2 1112.7,136.3 1125.4,150.1 1138.1,163.5 1150.8,176.6 1163.5,189.4 1176.2,201.9 1188.9,214.0 1201.6,225.8 1214.3,237.3 1227.0,248.4 1239.7,259.3 1252.5,269.7 1265.2,279.9 1277.9,289.7 1290.6,299.2 1303.3,308.4 1316.0,317.3 1328.7,325.8 1341.4,334.0 1354.1,341.9 1366.8,349.4 1379.5,356.6 1392.2,363.5 1404.9,370.1 1417.6,376.3 1430.3,382.2 1443.0,387.8 1455.8,393.0 1468.5,397.9 1481.2,402.5 1493.9,406.8 1506.6,410.7 1519.3,414.3 1532.0,417.6 1544.7,420.6 1557.4,423.2 1570.1,425.5 1582.8,427.4 1595.5,429.1 1608.2,430.4 1620.9,431.4 1633.6,432.0 1646.3,432.4 1659.0,432.4 1671.8,432.0 1684.5,431.4 1684.5,436.2 1671.8,436.9 1659.0,437.2 1646.3,437.2 1633.6,436.9 1620.9,436.2 1608.2,435.2 1595.5,433.9 1582.8,432.3 1570.1,430.3 1557.4,428.0 1544.7,425.4 1532.0,422.4 1519.3,419.1 1506.6,415.5 1493.9,411.6 1481.2,407.3 1468.5,402.8 1455.8,397.8 1443.0,392.6 1430.3,387.0 1417.6,381.1 1404.9,374.9 1392.2,368.3 1379.5,361.4 1366.8,354.2 1354.1,346.7 1341.4,338.8 1328.7,330.6 1316.0,322.1 1303.3,313.3 1290.6,304.1 1277.9,294.6 1265.2,284.7 1252.5,274.6 1239.7,264.1 1227.0,253.3 1214.3,242.1 1201.6,230.6 1188.9,218.8 1176.2,206.7 1163.5,194.2 1150.8,181.5 1138.1,168.3 1125.4,154.9 1112.7,141.1 1100.0,127.0 1087.3,112.6 1074.6,97.8 1061.9,82.8" fill="#cd6e64"/>
<polygon points="1061.9,82.2 1074.6,97.2 1087.3,112.0 1100.0,126.4 1112.7,140.5 1125.4,154.3 1138.1,167.7 1150.8,180.9 1163.5,193.6 1176.2,206.1 1188.9,218.2 1201.6,230.0 1214.3,241.5 1227.0,252.7 1239.7,263.5 1252.5,274.0 1265.2,284.1 1277.9,294.0 1290.6,303.5 1303.3,312.7 1316.0,321.5 1328.7,330.0 1341.4,338.2 1354.1,346.1 1366.8,353.6 1379.5,360.8 1392.2,367.7 1404.9,374.3 1417.6,380.5 1430.3,386.4 1443.0,392.0 1455.8,397.2 1468.5,402.2 1481.2,406.7 1493.9,411.0 1506.6,414.9 1519.3,418.5 1532.0,421.8 1544.7,424.8 1557.4,427.4 1570.1,429.7 1582.8,431.7 1595.5,433.3 1608.2,434.6 1620.9,435.6 1633.6,436.3 1646.3,436.6 1659.0,436.6 1671.8,436.3 1684.5,435.6 1684.5,440.4 1671.8,441.1 1659.0,441.4 1646.3,441.4 1633.6,441.1 1620.9,440.4 1608.2,439.4 1595.5,438.1 1582.8,436.5 1570.1,434.5 1557.4,432.2 1544.7,429.6 1532.0,426.6 1519.3,423.4 1506.6,419.8 1493.9,415.8 1481.2,411.6 1468.5,407.0 1455.8,402.1 1443.0,396.8 1430.3,391.2 1417.6,385.3 1404.9,379.1 1392.2,372.6 1379.5,365.7 1366.8,358.5 1354.1,350.9 1341.4,343.0 1328.7,334.8 1316.0,326.3 1303.3,317.5 1290.6,308.3 1277.9,298.8 1265.2,288.9 1252.5,278.8 1239.7,268.3 1227.0,257.5 1214.3,246.3 1201.6,234.9 1188.9,223.0 1176.2,210.9 1163.5,198.5 1150.8,185.7 1138.1,172.6 1125.4,159.1 1112.7,145.3 1100.0,131.2 1087.3,116.8 1074.6,102.1 1061.9,87.0" fill="#c86455"/>
<polygon points="1061.9,86.4 1074.6,101.5 1087.3,116.2 1100.0,130.6 1112.7,144.7 1125.4,158.5 1138.1,172.0 1150.8,185.1 1163.5,197.9 1176.2,210.3 1188.9,222.4 1201.6,234.3 1214.3,245.7 1227.0,256.9 1239.7,267.7 1252.5,278.2 1265.2,288.3 1277.9,298.2 1290.6,307.7 1303.3,316.9 1316.0,325.7 1328.7,334.2 1341.4,342.4 1354.1,350.3 1366.8,357.9 1379.5,365.1 1392.2,372.0 1404.9,378.5 1417.6,384.7 1430.3,390.6 1443.0,396.2 1455.8,401.5 1468.5,406.4 1481.2,411.0 1493.9,415.2 1506.6,419.2 1519.3,422.8 1532.0,426.0 1544.7,429.0 1557.4,431.6 1570.1,433.9 1582.8,435.9 1595.5,437.5 1608.2,438.8 1620.9,439.8 1633.6,440.5 1646.3,440.8 1659.0,440.8 1671.8,440.5 1684.5,439.8 1684.5,444.6 1671.8,445.3 1659.0,445.6 1646.3,445.6 1633.6,445.3 1620.9,444.6 1608.2,443.7 1595.5,442.3 1582.8,440.7 1570.1,438.7 1557.4,436.4 1544.7,433.8 1532.0,430.9 1519.3,427.6 1506.6,424.0 1493.9,420.0 1481.2,415.8 1468.5,411.2 1455.8,406.3 1443.0,401.0 1430.3,395.5 1417.6,389.6 1404.9,383.3 1392.2,376.8 1379.5,369.9 1366.8,362.7 1354.1,355.1 1341.4,347.3 1328.7,339.1 1316.0,330.5 1303.3,321.7 1290.6,312.5 1277.9,303.0 1265.2,293.2 1252.5,283.0 1239.7,272.5 1227.0,261.7 1214.3,250.5 1201.6,239.1 1188.9,227.3 1176.2,215.1 1163.5,202.7 1150.8,189.9 1138.1,176.8 1125.4,163.3 1112.7,149.6 1100.0,135.5 1087.3,121.0 1074.6,106.3 1061.9,91.2" fill="#cd6450"/>
<polygon points="1061.9,90.6 1074.6,105.7 1087.3,120.4 1100.0,134.9 1112.7,149.0 1125.4,162.7 1138.1,176.2 1150.8,189.3 1163.5,202.1 1176.2,214.5 1188.9,226.7 1201.6,238.5 1214.3,249.9 1227.0,261.1 1239.7,271.9 1252.5,282.4 1265.2,292.6 1277.9,302.4 1290.6,311.9 1303.3,321.1 1316.0,329.9 1328.7,338.5 1341.4,346.7 1354.1,354.5 1366.8,362.1 1379.5,369.3 1392.2,376.2 1404.9,382.7 1417.6,389.0 1430.3,394.9 1443.0,400.4 1455.8,405.7 1468.5,410.6 1481.2,415.2 1493.9,419.4 1506.6,423.4 1519.3,427.0 1532.0,430.3 1544.7,433.2 1557.4,435.8 1570.1,438.1 1582.8,440.1 1595.5,441.7 1608.2,443.1 1620.9,444.0 1633.6,444.7 1646.3,445.0 1659.0,445.0 1671.8,444.7 1684.5,444.0 1684.5,448.9 1671.8,449.5 1659.0,449.8 1646.3,449.8 1633.6,449.5 1620.9,448.9 1608.2,447.9 1595.5,446.6 1582.8,444.9 1570.1,443.0 1557.4,440.7 1544.7,438.0 1532.0,435.1 1519.3,431.8 1506.6,428.2 1493.9,424.3 1481.2,420.0 1468.5,415.4 1455.8,410.5 1443.0,405.3 1430.3,399.7 1417.6,393.8 1404.9,387.6 1392.2,381.0 1379.5,374.1 1366.8,366.9 1354.1,359.4 1341.4,351.5 1328.7,343.3 1316.0,334.8 1303.3,325.9 1290.6,316.7 1277.9,307.2 1265.2,297.4 1252.5,287.2 1239.7,276.7 1227.0,265.9 1214.3,254.8 1201.6,243.3 1188.9,231.5 1176.2,219.4 1163.5,206.9 1150.8,194.1 1138.1,181.0 1125.4,167.6 1112.7,153.8 1100.0,139.7 1087.3,125.3 1074.6,110.5 1061.9,95.4" fill="#d2644b"/>
<polygon points="1061.9,94.8 1074.6,109.9 1087.3,124.7 1100.0,139.1 1112.7,153.2 1125.4,167.0 1138.1,180.4 1150.8,193.5 1163.5,206.3 1176.2,218.8 1188.9,230.9 1201.6,242.7 1214.3,254.2 1227.0,265.3 1239.7,276.1 1252.5,286.6 1265.2,296.8 1277.9,306.6 1290.6,316.1 1303.3,325.3 1316.0,334.2 1328.7,342.7 1341.4,350.9 1354.1,358.8 1366.8,366.3 1379.5,373.5 1392.2,380.4 1404.9,387.0 1417.6,393.2 1430.3,399.1 1443.0,404.7 1455.8,409.9 1468.5,414.8 1481.2,419.4 1493.9,423.7 1506.6,427.6 1519.3,431.2 1532.0,434.5 1544.7,437.4 1557.4,440.1 1570.1,442.4 1582.8,444.3 1595.5,446.0 1608.2,447.3 1620.9,448.3 1633.6,448.9 1646.3,449.2 1659.0,449.2 1671.8,448.9 1684.5,448.3 1684.5,453.1 1671.8,453.7 1659.0,454.1 1646.3,454.1 1633.6,453.7 1620.9,453.1 1608.2,452.1 1595.5,450.8 1582.8,449.1 1570.1,447.2 1557.4,444.9 1544.7,442.3 1532.0,439.3 1519.3,436.0 1506.6,432.4 1493.9,428.5 1481.2,424.2 1468.5,419.6 1455.8,414.7 1443.0,409.5 1430.3,403.9 1417.6,398.0 1404.9,391.8 1392.2,385.2 1379.5,378.3 1366.8,371.1 1354.1,363.6 1341.4,355.7 1328.7,347.5 1316.0,339.0 1303.3,330.1 1290.6,321.0 1277.9,311.4 1265.2,301.6 1252.5,291.4 1239.7,281.0 1227.0,270.1 1214.3,259.0 1201.6,247.5 1188.9,235.7 1176.2,223.6 1163.5,211.1 1150.8,198.3 1138.1,185.2 1125.4,171.8 1112.7,158.0 1100.0,143.9 1087.3,129.5 1074.6,114.7 1061.9,99.7" fill="#e16946"/>
<polygon points="1061.9,99.1 1074.6,114.1 1087.3,128.9 1100.0,143.3 1112.7,157.4 1125.4,171.2 1138.1,184.6 1150.8,197.7 1163.5,210.5 1176.2,223.0 1188.9,235.1 1201.6,246.9 1214.3,258.4 1227.0,269.5 1239.7,280.4 1252.5,290.8 1265.2,301.0 1277.9,310.8 1290.6,320.4 1303.3,329.5 1316.0,338.4 1328.7,346.9 1341.4,355.1 1354.1,363.0 1366.8,370.5 1379.5,377.7 1392.2,384.6 1404.9,391.2 1417.6,397.4 1430.3,403.3 1443.0,408.9 1455.8,414.1 1468.5,419.0 1481.2,423.6 1493.9,427.9 1506.6,431.8 1519.3,435.4 1532.0,438.7 1544.7,441.7 1557.4,444.3 1570.1,446.6 1582.8,448.5 1595.5,450.2 1608.2,451.5 1620.9,452.5 1633.6,453.1 1646.3,453.5 1659.0,453.5 1671.8,453.1 1684.5,452.5 1684.5,457.3 1671.8,458.0 1659.0,458.3 1646.3,458.3 1633.6,458.0 1620.9,457.3 1608.2,456.3 1595.5,455.0 1582.8,453.4 1570.1,451.4 1557.4,449.1 1544.7,446.5 1532.0,443.5 1519.3,440.3 1506.6,436.6 1493.9,432.7 1481.2,428.5 1468.5,423.9 1455.8,418.9 1443.0,413.7 1430.3,408.1 1417.6,402.2 1404.9,396.0 1392.2,389.4 1379.5,382.6 1366.8,375.3 1354.1,367.8 1341.4,359.9 1328.7,351.7 1316.0,343.2 1303.3,334.4 1290.6,325.2 1277.9,315.7 1265.2,305.8 1252.5,295.7 1239.7,285.2 1227.0,274.4 1214.3,263.2 1201.6,251.7 1188.9,239.9 1176.2,227.8 1163.5,215.3 1150.8,202.6 1138.1,189.4 1125.4,176.0 1112.7,162.2 1100.0,148.1 1087.3,133.7 1074.6,119.0 1061.9,103.9" fill="#f0823c"/>
<polygon points="1061.9,103.3 1074.6,118.4 1087.3,133.1 1100.0,147.5 1112.7,161.6 1125.4,175.4 1138.1,188.8 1150.8,202.0 1163.5,214.7 1176.2,227.2 1188.9,239.3 1201.6,251.1 1214.3,262.6 1227.0,273.8 1239.7,284.6 1252.5,295.1 1265.2,305.2 1277.9,315.1 1290.6,324.6 1303.3,333.8 1316.0,342.6 1328.7,351.1 1341.4,359.3 1354.1,367.2 1366.8,374.7 1379.5,382.0 1392.2,388.8 1404.9,395.4 1417.6,401.6 1430.3,407.5 1443.0,413.1 1455.8,418.3 1468.5,423.3 1481.2,427.9 1493.9,432.1 1506.6,436.0 1519.3,439.7 1532.0,442.9 1544.7,445.9 1557.4,448.5 1570.1,450.8 1582.8,452.8 1595.5,454.4 1608.2,455.7 1620.9,456.7 1633.6,457.4 1646.3,457.7 1659.0,457.7 1671.8,457.4 1684.5,456.7 1684.5,461.5 1671.8,462.2 1659.0,462.5 1646.3,462.5 1633.6,462.2 1620.9,461.5 1608.2,460.5 1595.5,459.2 1582.8,457.6 1570.1,455.6 1557.4,453.3 1544.7,450.7 1532.0,447.8 1519.3,444.5 1506.6,440.9 1493.9,436.9 1481.2,432.7 1468.5,428.1 1455.8,423.2 1443.0,417.9 1430.3,412.3 1417.6,406.4 1404.9,400.2 1392.2,393.7 1379.5,386.8 1366.8,379.6 1354.1,372.0 1341.4,364.1 1328.7,356.0 1316.0,347.4 1303.3,338.6 1290.6,329.4 1277.9,319.9 1265.2,310.1 1252.5,299.9 1239.7,289.4 1227.0,278.6 1214.3,267.4 1201.6,256.0 1188.9,244.2 1176.2,232.0 1163.5,219.6 1150.8,206.8 1138.1,193.7 1125.4,180.2 1112.7,166.5 1100.0,152.4 1087.3,137.9 1074.6,123.2 1061.9,108.1" fill="#f5a037"/>
<polygon points="1061.9,107.5 1074.6,122.6 1087.3,137.3 1100.0,151.8 1112.7,165.9 1125.4,179.6 1138.1,193.1 1150.8,206.2 1163.5,219.0 1176.2,231.4 1188.9,243.6 1201.6,255.4 1214.3,266.8 1227.0,278.0 1239.7,288.8 1252.5,299.3 1265.2,309.5 1277.9,319.3 1290.6,328.8 1303.3,338.0 1316.0,346.8 1328.7,355.4 1341.4,363.5 1354.1,371.4 1366.8,379.0 1379.5,386.2 1392.2,393.1 1404.9,399.6 1417.6,405.8 1430.3,411.7 1443.0,417.3 1455.8,422.6 1468.5,427.5 1481.2,432.1 1493.9,436.3 1506.6,440.3 1519.3,443.9 1532.0,447.2 1544.7,450.1 1557.4,452.7 1570.1,455.0 1582.8,457.0 1595.5,458.6 1608.2,459.9 1620.9,460.9 1633.6,461.6 1646.3,461.9 1659.0,461.9 1671.8,461.6 1684.5,460.9 1684.5,465.7 1671.8,466.4 1659.0,466.7 1646.3,466.7 1633.6,466.4 1620.9,465.7 1608.2,464.8 1595.5,463.4 1582.8,461.8 1570.1,459.8 1557.4,457.5 1544.7,454.9 1532.0,452.0 1519.3,448.7 1506.6,445.1 1493.9,441.2 1481.2,436.9 1468.5,432.3 1455.8,427.4 1443.0,422.1 1430.3,416.6 1417.6,410.7 1404.9,404.4 1392.2,397.9 1379.5,391.0 1366.8,383.8 1354.1,376.2 1341.4,368.4 1328.7,360.2 1316.0,351.6 1303.3,342.8 1290.6,333.6 1277.9,324.1 1265.2,314.3 1252.5,304.1 1239.7,293.6 1227.0,282.8 1214.3,271.7 1201.6,260.2 1188.9,248.4 1176.2,236.2 1163.5,223.8 1150.8,211.0 1138.1,197.9 1125.4,184.4 1112.7,170.7 1100.0,156.6 1087.3,142.1 1074.6,127.4 1061.9,112.3" fill="#f5b237"/>
<polygon points="1061.9,111.7 1074.6,126.8 1087.3,141.5 1100.0,156.0 1112.7,170.1 1125.4,183.8 1138.1,197.3 1150.8,210.4 1163.5,223.2 1176.2,235.6 1188.9,247.8 1201.6,259.6 1214.3,271.1 1227.0,282.2 1239.7,293.0 1252.5,303.5 1265.2,313.7 1277.9,323.5 1290.6,333.0 1303.3,342.2 1316.0,351.0 1328.7,359.6 1341.4,367.8 1354.1,375.6 1366.8,383.2 1379.5,390.4 1392.2,397.3 1404.9,403.8 1417.6,410.1 1430.3,416.0 1443.0,421.5 1455.8,426.8 1468.5,431.7 1481.2,436.3 1493.9,440.6 1506.6,444.5 1519.3,448.1 1532.0,451.4 1544.7,454.3 1557.4,456.9 1570.1,459.2 1582.8,461.2 1595.5,462.8 1608.2,464.2 1620.9,465.1 1633.6,465.8 1646.3,466.1 1659.0,466.1 1671.8,465.8 1684.5,465.1 1684.5,470.0 1671.8,470.6 1659.0,470.9 1646.3,470.9 1633.6,470.6 1620.9,470.0 1608.2,469.0 1595.5,467.7 1582.8,466.0 1570.1,464.1 1557.4,461.8 1544.7,459.1 1532.0,456.2 1519.3,452.9 1506.6,449.3 1493.9,445.4 1481.2,441.1 1468.5,436.5 1455.8,431.6 1443.0,426.4 1430.3,420.8 1417.6,414.9 1404.9,408.7 1392.2,402.1 1379.5,395.2 1366.8,388.0 1354.1,380.5 1341.4,372.6 1328.7,364.4 1316.0,355.9 1303.3,347.0 1290.6,337.8 1277.9,328.3 1265.2,318.5 1252.5,308.3 1239.7,297.8 1227.0,287.0 1214.3,275.9 1201.6,264.4 1188.9,252.6 1176.2,240.5 1163.5,228.0 1150.8,215.2 1138.1,202.1 1125.4,188.7 1112.7,174.9 1100.0,160.8 1087.3,146.4 1074.6,131.6 1061.9,116.5" fill="#ecc837"/>
<polygon points="1061.9,115.9 1074.6,131.0 1087.3,145.8 1100.0,160.2 1112.7,174.3 1125.4,188.1 1138.1,201.5 1150.8,214.6 1163.5,227.4 1176.2,239.9 1188.9,252.0 1201.6,263.8 1214.3,275.3 1227.0,286.4 1239.7,297.2 1252.5,307.7 1265.2,317.9 1277.9,327.7 1290.6,337.2 1303.3,346.4 1316.0,355.3 1328.7,363.8 1341.4,372.0 1354.1,379.9 1366.8,387.4 1379.5,394.6 1392.2,401.5 1404.9,408.1 1417.6,414.3 1430.3,420.2 1443.0,425.8 1455.8,431.0 1468.5,435.9 1481.2,440.5 1493.9,444.8 1506.6,448.7 1519.3,452.3 1532.0,455.6 1544.7,458.5 1557.4,461.2 1570.1,463.5 1582.8,465.4 1595.5,467.1 1608.2,468.4 1620.9,469.4 1633.6,470.0 1646.3,470.3 1659.0,470.3 1671.8,470.0 1684.5,469.4 1684.5,474.2 1671.8,474.8 1659.0,475.2 1646.3,475.2 1633.6,474.8 1620.9,474.2 1608.2,473.2 1595.5,471.9 1582.8,470.3 1570.1,468.3 1557.4,466.0 1544.7,463.4 1532.0,460.4 1519.3,457.1 1506.6,453.5 1493.9,449.6 1481.2,445.3 1468.5,440.7 1455.8,435.8 1443.0,430.6 1430.3,425.0 1417.6,419.1 1404.9,412.9 1392.2,406.3 1379.5,399.4 1366.8,392.2 1354.1,384.7 1341.4,376.8 1328.7,368.6 1316.0,360.1 1303.3,351.2 1290.6,342.1 1277.9,332.6 1265.2,322.7 1252.5,312.6 1239.7,302.1 1227.0,291.2 1214.3,280.1 1201.6,268.6 1188.9,256.8 1176.2,244.7 1163.5,232.2 1150.8,219.4 1138.1,206.3 1125.4,192.9 1112.7,179.1 1100.0,165.0 1087.3,150.6 1074.6,135.8 1061.9,120.8" fill="#c8d23c"/>
<polygon points="1061.9,120.2 1074.6,135.2 1087.3,150.0 1100.0,164.4 1112.7,178.5 1125.4,192.3 1138.1,205.7 1150.8,218.8 1163.5,231.6 1176.2,244.1 1188.9,256.2 1201.6,268.0 1214.3,279.5 1227.0,290.6 1239.7,301.5 1252.5,312.0 1265.2,322.1 1277.9,332.0 1290.6,341.5 1303.3,350.6 1316.0,359.5 1328.7,368.0 1341.4,376.2 1354.1,384.1 1366.8,391.6 1379.5,398.8 1392.2,405.7 1404.9,412.3 1417.6,418.5 1430.3,424.4 1443.0,430.0 1455.8,435.2 1468.5,440.1 1481.2,444.7 1493.9,449.0 1506.6,452.9 1519.3,456.5 1532.0,459.8 1544.7,462.8 1557.4,465.4 1570.1,467.7 1582.8,469.7 1595.5,471.3 1608.2,472.6 1620.9,473.6 1633.6,474.2 1646.3,474.6 1659.0,474.6 1671.8,474.2 1684.5,473.6 1684.5,478.4 1671.8,479.1 1659.0,479.4 1646.3,479.4 1633.6,479.1 1620.9,478.4 1608.2,477.4 1595.5,476.1 1582.8,474.5 1570.1,472.5 1557.4,470.2 1544.7,467.6 1532.0,464.6 1519.3,461.4 1506.6,457.8 1493.9,453.8 1481.2,449.6 1468.5,445.0 1455.8,440.0 1443.0,434.8 1430.3,429.2 1417.6,423.3 1404.9,417.1 1392.2,410.5 1379.5,403.7 1366.8,396.4 1354.1,388.9 1341.4,381.0 1328.7,372.8 1316.0,364.3 1303.3,355.5 1290.6,346.3 1277.9,336.8 1265.2,326.9 1252.5,316.8 1239.7,306.3 1227.0,295.5 1214.3,284.3 1201.6,272.8 1188.9,261.0 1176.2,248.9 1163.5,236.4 1150.8,223.7 1138.1,210.5 1125.4,197.1 1112.7,183.3 1100.0,169.2 1087.3,154.8 1074.6,140.1 1061.9,125.0" fill="#8ccd3c"/>
<polygon points="1061.9,124.4 1074.6,139.5 1087.3,154.2 1100.0,168.6 1112.7,182.7 1125.4,196.5 1138.1,209.9 1150.8,223.1 1163.5,235.8 1176.2,248.3 1188.9,260.4 1201.6,272.2 1214.3,283.7 1227.0,294.9 1239.7,305.7 1252.5,316.2 1265.2,326.3 1277.9,336.2 1290.6,345.7 1303.3,354.9 1316.0,363.7 1328.7,372.2 1341.4,380.4 1354.1,388.3 1366.8,395.8 1379.5,403.1 1392.2,409.9 1404.9,416.5 1417.6,422.7 1430.3,428.6 1443.0,434.2 1455.8,439.4 1468.5,444.4 1481.2,449.0 1493.9,453.2 1506.6,457.2 1519.3,460.8 1532.0,464.0 1544.7,467.0 1557.4,469.6 1570.1,471.9 1582.8,473.9 1595.5,475.5 1608.2,476.8 1620.9,477.8 1633.6,478.5 1646.3,478.8 1659.0,478.8 1671.8,478.5 1684.5,477.8 1684.5,482.6 1671.8,483.3 1659.0,483.6 1646.3,483.6 1633.6,483.3 1620.9,482.6 1608.2,481.6 1595.5,480.3 1582.8,478.7 1570.1,476.7 1557.4,474.4 1544.7,471.8 1532.0,468.9 1519.3,465.6 1506.6,462.0 1493.9,458.0 1481.2,453.8 1468.5,449.2 1455.8,444.3 1443.0,439.0 1430.3,433.4 1417.6,427.5 1404.9,421.3 1392.2,414.8 1379.5,407.9 1366.8,400.7 1354.1,393.1 1341.4,385.3 1328.7,377.1 1316.0,368.5 1303.3,359.7 1290.6,350.5 1277.9,341.0 1265.2,331.2 1252.5,321.0 1239.7,310.5 1227.0,299.7 1214.3,288.5 1201.6,277.1 1188.9,265.3 1176.2,253.1 1163.5,240.7 1150.8,227.9 1138.1,214.8 1125.4,201.3 1112.7,187.6 1100.0,173.5 1087.3,159.0 1074.6,144.3 1061.9,129.2" fill="#5ac33c"/>
<polygon points="1061.9,128.6 1074.6,143.7 1087.3,158.4 1100.0,172.9 1112.7,187.0 1125.4,200.7 1138.1,214.2 1150.8,227.3 1163.5,240.1 1176.2,252.5 1188.9,264.7 1201.6,276.5 1214.3,287.9 1227.0,299.1 1239.7,309.9 1252.5,320.4 1265.2,330.6 1277.9,340.4 1290.6,349.9 1303.3,359.1 1316.0,367.9 1328.7,376.5 1341.4,384.7 1354.1,392.5 1366.8,400.1 1379.5,407.3 1392.2,414.2 1404.9,420.7 1417.6,426.9 1430.3,432.8 1443.0,438.4 1455.8,443.7 1468.5,448.6 1481.2,453.2 1493.9,457.4 1506.6,461.4 1519.3,465.0 1532.0,468.3 1544.7,471.2 1557.4,473.8 1570.1,476.1 1582.8,478.1 1595.5,479.7 1608.2,481.0 1620.9,482.0 1633.6,482.7 1646.3,483.0 1659.0,483.0 1671.8,482.7 1684.5,482.0 1684.5,486.8 1671.8,487.5 1659.0,487.8 1646.3,487.8 1633.6,487.5 1620.9,486.8 1608.2,485.9 1595.5,484.6 1582.8,482.9 1570.1,480.9 1557.4,478.7 1544.7,476.0 1532.0,473.1 1519.3,469.8 1506.6,466.2 1493.9,462.3 1481.2,458.0 1468.5,453.4 1455.8,448.5 1443.0,443.2 1430.3,437.7 1417.6,431.8 1404.9,425.5 1392.2,419.0 1379.5,412.1 1366.8,404.9 1354.1,397.3 1341.4,389.5 1328.7,381.3 1316.0,372.8 1303.3,363.9 1290.6,354.7 1277.9,345.2 1265.2,335.4 1252.5,325.2 1239.7,314.7 1227.0,303.9 1214.3,292.8 1201.6,281.3 1188.9,269.5 1176.2,257.3 1163.5,244.9 1150.8,232.1 1138.1,219.0 1125.4,205.5 1112.7,191.8 1100.0,177.7 1087.3,163.3 1074.6,148.5 1061.9,133.4" fill="#46b46e"/>
<polygon points="1061.9,132.8 1074.6,147.9 1087.3,162.7 1100.0,177.1 1112.7,191.2 1125.4,204.9 1138.1,218.4 1150.8,231.5 1163.5,244.3 1176.2,256.7 1188.9,268.9 1201.6,280.7 1214.3,292.2 1227.0,303.3 1239.7,314.1 1252.5,324.6 1265.2,334.8 1277.9,344.6 1290.6,354.1 1303.3,363.3 1316.0,372.2 1328.7,380.7 1341.4,388.9 1354.1,396.7 1366.8,404.3 1379.5,411.5 1392.2,418.4 1404.9,424.9 1417.6,431.2 1430.3,437.1 1443.0,442.6 1455.8,447.9 1468.5,452.8 1481.2,457.4 1493.9,461.7 1506.6,465.6 1519.3,469.2 1532.0,472.5 1544.7,475.4 1557.4,478.1 1570.1,480.3 1582.8,482.3 1595.5,484.0 1608.2,485.3 1620.9,486.2 1633.6,486.9 1646.3,487.2 1659.0,487.2 1671.8,486.9 1684.5,486.2 1684.5,491.1 1671.8,491.7 1659.0,492.1 1646.3,492.1 1633.6,491.7 1620.9,491.1 1608.2,490.1 1595.5,488.8 1582.8,487.1 1570.1,485.2 1557.4,482.9 1544.7,480.3 1532.0,477.3 1519.3,474.0 1506.6,470.4 1493.9,466.5 1481.2,462.2 1468.5,457.6 1455.8,452.7 1443.0,447.5 1430.3,441.9 1417.6,436.0 1404.9,429.8 1392.2,423.2 1379.5,416.3 1366.8,409.1 1354.1,401.6 1341.4,393.7 1328.7,385.5 1316.0,377.0 1303.3,368.1 1290.6,358.9 1277.9,349.4 1265.2,339.6 1252.5,329.4 1239.7,318.9 1227.0,308.1 1214.3,297.0 1201.6,285.5 1188.9,273.7 1176.2,261.6 1163.5,249.1 1150.8,236.3 1138.1,223.2 1125.4,209.8 1112.7,196.0 1100.0,181.9 1087.3,167.5 1074.6,152.7 1061.9,137.6" fill="#55d4b9"/>
<polygon points="1061.9,137.0 1074.6,152.1 1087.3,166.9 1100.0,181.3 1112.7,195.4 1125.4,209.2 1138.1,222.6 1150.8,235.7 1163.5,248.5 1176.2,261.0 1188.9,273.1 1201.6,284.9 1214.3,296.4 1227.0,307.5 1239.7,318.3 1252.5,328.8 1265.2,339.0 1277.9,348.8 1290.6,358.3 1303.3,367.5 1316.0,376.4 1328.7,384.9 1341.4,393.1 1354.1,401.0 1366.8,408.5 1379.5,415.7 1392.2,422.6 1404.9,429.2 1417.6,435.4 1430.3,441.3 1443.0,446.9 1455.8,452.1 1468.5,457.0 1481.2,461.6 1493.9,465.9 1506.6,469.8 1519.3,473.4 1532.0,476.7 1544.7,479.7 1557.4,482.3 1570.1,484.6 1582.8,486.5 1595.5,488.2 1608.2,489.5 1620.9,490.5 1633.6,491.1 1646.3,491.5 1659.0,491.5 1671.8,491.1 1684.5,490.5 1684.5,495.3 1671.8,495.9 1659.0,496.3 1646.3,496.3 1633.6,495.9 1620.9,495.3 1608.2,494.3 1595.5,493.0 1582.8,491.4 1570.1,489.4 1557.4,487.1 1544.7,484.5 1532.0,481.5 1519.3,478.2 1506.6,474.6 1493.9,470.7 1481.2,466.4 1468.5,461.8 1455.8,456.9 1443.0,451.7 1430.3,446.1 1417.6,440.2 1404.9,434.0 1392.2,427.4 1379.5,420.5 1366.8,413.3 1354.1,405.8 1341.4,397.9 1328.7,389.7 1316.0,381.2 1303.3,372.3 1290.6,363.2 1277.9,353.7 1265.2,343.8 1252.5,333.7 1239.7,323.2 1227.0,312.3 1214.3,301.2 1201.6,289.7 1188.9,277.9 1176.2,265.8 1163.5,253.3 1150.8,240.5 1138.1,227.4 1125.4,214.0 1112.7,200.2 1100.0,186.1 1087.3,171.7 1074.6,156.9 1061.9,141.9" fill="#69dcc8"/>
<polygon points="1061.9,141.3 1074.6,156.3 1087.3,171.1 1100.0,185.5 1112.7,199.6 1125.4,213.4 1138.1,226.8 1150.8,239.9 1163.5,252.7 1176.2,265.2 1188.9,277.3 1201.6,289.1 1214.3,300.6 1227.0,311.7 1239.7,322.6 1252.5,333.1 1265.2,343.2 1277.9,353.1 1290.6,362.6 1303.3,371.7 1316.0,380.6 1328.7,389.1 1341.4,397.3 1354.1,405.2 1366.8,412.7 1379.5,419.9 1392.2,426.8 1404.9,433.4 1417.6,439.6 1430.3,445.5 1443.0,451.1 1455.8,456.3 1468.5,461.2 1481.2,465.8 1493.9,470.1 1506.6,474.0 1519.3,477.6 1532.0,480.9 1544.7,483.9 1557.4,486.5 1570.1,488.8 1582.8,490.8 1595.5,492.4 1608.2,493.7 1620.9,494.7 1633.6,495.3 1646.3,495.7 1659.0,495.7 1671.8,495.3 1684.5,494.7 1684.5,499.5 1671.8,500.2 1659.0,500.5 1646.3,500.5 1633.6,500.2 1620.9,499.5 1608.2,498.5 1595.5,497.2 1582.8,495.6 1570.1,493.6 1557.4,491.3 1544.7,488.7 1532.0,485.7 1519.3,482.5 1506.6,478.9 1493.9,474.9 1481.2,470.7 1468.5,466.1 1455.8,461.2 1443.0,455.9 1430.3,450.3 1417.6,444.4 1404.9,438.2 1392.2,431.6 1379.5,424.8 1366.8,417.5 1354.1,410.0 1341.4,402.1 1328.7,393.9 1316.0,385.4 1303.3,376.6 1290.6,367.4 1277.9,357.9 1265.2,348.0 1252.5,337.9 1239.7,327.4 1227.0,316.6 1214.3,305.4 1201.6,293.9 1188.9,282.1 1176.2,270.0 1163.5,257.6 1150.8,244.8 1138.1,231.7 1125.4,218.2 1112.7,204.4 1100.0,190.3 1087.3,175.9 1074.6,161.2 1061.9,146.1" fill="#82cdc3"/>
<polygon points="1061.9,145.5 1074.6,160.6 1087.3,175.3 1100.0,189.7 1112.7,203.8 1125.4,217.6 1138.1,231.1 1150.8,244.2 1163.5,257.0 1176.2,269.4 1188.9,281.5 1201.6,293.3 1214.3,304.8 1227.0,316.0 1239.7,326.8 1252.5,337.3 1265.2,347.4 1277.9,357.3 1290.6,366.8 1303.3,376.0 1316.0,384.8 1328.7,393.3 1341.4,401.5 1354.1,409.4 1366.8,416.9 1379.5,424.2 1392.2,431.0 1404.9,437.6 1417.6,443.8 1430.3,449.7 1443.0,455.3 1455.8,460.6 1468.5,465.5 1481.2,470.1 1493.9,474.3 1506.6,478.3 1519.3,481.9 1532.0,485.1 1544.7,488.1 1557.4,490.7 1570.1,493.0 1582.8,495.0 1595.5,496.6 1608.2,497.9 1620.9,498.9 1633.6,499.6 1646.3,499.9 1659.0,499.9 1671.8,499.6 1684.5,498.9 1684.5,503.7 1671.8,504.4 1659.0,504.7 1646.3,504.7 1633.6,504.4 1620.9,503.7 1608.2,502.7 1595.5,501.4 1582.8,499.8 1570.1,497.8 1557.4,495.5 1544.7,492.9 1532.0,490.0 1519.3,486.7 1506.6,483.1 1493.9,479.1 1481.2,474.9 1468.5,470.3 1455.8,465.4 1443.0,460.1 1430.3,454.6 1417.6,448.7 1404.9,442.4 1392.2,435.9 1379.5,429.0 1366.8,421.8 1354.1,414.2 1341.4,406.4 1328.7,398.2 1316.0,389.6 1303.3,380.8 1290.6,371.6 1277.9,362.1 1265.2,352.3 1252.5,342.1 1239.7,331.6 1227.0,320.8 1214.3,309.6 1201.6,298.2 1188.9,286.4 1176.2,274.2 1163.5,261.8 1150.8,249.0 1138.1,235.9 1125.4,222.4 1112.7,208.7 1100.0,194.6 1087.3,180.1 1074.6,165.4 1061.9,150.3" fill="#64d4c3"/>
<polygon points="1061.9,149.7 1074.6,164.8 1087.3,179.5 1100.0,194.0 1112.7,208.1 1125.4,221.8 1138.1,235.3 1150.8,248.4 1163.5,261.2 1176.2,273.6 1188.9,285.8 1201.6,297.6 1214.3,309.0 1227.0,320.2 1239.7,331.0 1252.5,341.5 1265.2,351.7 1277.9,361.5 1290.6,371.0 1303.3,380.2 1316.0,389.0 1328.7,397.6 1341.4,405.8 1354.1,413.6 1366.8,421.2 1379.5,428.4 1392.2,435.3 1404.9,441.8 1417.6,448.1 1430.3,454.0 1443.0,459.5 1455.8,464.8 1468.5,469.7 1481.2,474.3 1493.9,478.5 1506.6,482.5 1519.3,486.1 1532.0,489.4 1544.7,492.3 1557.4,494.9 1570.1,497.2 1582.8,499.2 1595.5,500.8 1608.2,502.1 1620.9,503.1 1633.6,503.8 1646.3,504.1 1659.0,504.1 1671.8,503.8 1684.5,503.1 1684.5,508.0 1671.8,508.6 1659.0,508.9 1646.3,508.9 1633.6,508.6 1620.9,508.0 1608.2,507.0 1595.5,505.7 1582.8,504.0 1570.1,502.1 1557.4,499.8 1544.7,497.1 1532.0,494.2 1519.3,490.9 1506.6,487.3 1493.9,483.4 1481.2,479.1 1468.5,474.5 1455.8,469.6 1443.0,464.3 1430.3,458.8 1417.6,452.9 1404.9,446.6 1392.2,440.1 1379.5,433.2 1366.8,426.0 1354.1,418.4 1341.4,410.6 1328.7,402.4 1316.0,393.9 1303.3,385.0 1290.6,375.8 1277.9,366.3 1265.2,356.5 1252.5,346.3 1239.7,335.8 1227.0,325.0 1214.3,313.9 1201.6,302.4 1188.9,290.6 1176.2,278.5 1163.5,266.0 1150.8,253.2 1138.1,240.1 1125.4,226.7 1112.7,212.9 1100.0,198.8 1087.3,184.4 1074.6,169.6 1061.9,154.5" fill="#5fcdd7"/>
<polygon points="1061.9,153.9 1074.6,169.0 1087.3,183.8 1100.0,198.2 1112.7,212.3 1125.4,226.1 1138.1,239.5 1150.8,252.6 1163.5,265.4 1176.2,277.9 1188.9,290.0 1201.6,301.8 1214.3,313.3 1227.0,324.4 1239.7,335.2 1252.5,345.7 1265.2,355.9 1277.9,365.7 1290.6,375.2 1303.3,384.4 1316.0,393.3 1328.7,401.8 1341.4,410.0 1354.1,417.8 1366.8,425.4 1379.5,432.6 1392.2,439.5 1404.9,446.0 1417.6,452.3 1430.3,458.2 1443.0,463.7 1455.8,469.0 1468.5,473.9 1481.2,478.5 1493.9,482.8 1506.6,486.7 1519.3,490.3 1532.0,493.6 1544.7,496.5 1557.4,499.2 1570.1,501.5 1582.8,503.4 1595.5,505.1 1608.2,506.4 1620.9,507.4 1633.6,508.0 1646.3,508.3 1659.0,508.3 1671.8,508.0 1684.5,507.4 1684.5,512.2 1671.8,512.8 1659.0,513.2 1646.3,513.2 1633.6,512.8 1620.9,512.2 1608.2,511.2 1595.5,509.9 1582.8,508.2 1570.1,506.3 1557.4,504.0 1544.7,501.4 1532.0,498.4 1519.3,495.1 1506.6,491.5 1493.9,487.6 1481.2,483.3 1468.5,478.7 1455.8,473.8 1443.0,468.6 1430.3,463.0 1417.6,457.1 1404.9,450.9 1392.2,444.3 1379.5,437.4 1366.8,430.2 1354.1,422.7 1341.4,414.8 1328.7,406.6 1316.0,398.1 1303.3,389.2 1290.6,380.0 1277.9,370.5 1265.2,360.7 1252.5,350.5 1239.7,340.1 1227.0,329.2 1214.3,318.1 1201.6,306.6 1188.9,294.8 1176.2,282.7 1163.5,270.2 1150.8,257.4 1138.1,244.3 1125.4,230.9 1112.7,217.1 1100.0,203.0 1087.3,188.6 1074.6,173.8 1061.9,158.7" fill="#82b4ee"/>
</g>
<g clip-path="url(#cB)" fill="none" stroke-width="1.6">
<polyline points="1061.9,158.1 1074.6,173.2 1087.3,188.0 1100.0,202.4 1112.7,216.5 1125.4,230.3 1138.1,243.7 1150.8,256.8 1163.5,269.6 1176.2,282.1 1188.9,294.2 1201.6,306.0 1214.3,317.5 1227.0,328.6 1239.7,339.5 1252.5,349.9 1265.2,360.1 1277.9,369.9 1290.6,379.4 1303.3,388.6 1316.0,397.5 1328.7,406.0 1341.4,414.2 1354.1,422.1 1366.8,429.6 1379.5,436.8 1392.2,443.7 1404.9,450.3 1417.6,456.5 1430.3,462.4 1443.0,468.0 1455.8,473.2 1468.5,478.1 1481.2,482.7 1493.9,487.0 1506.6,490.9 1519.3,494.5 1532.0,497.8 1544.7,500.8 1557.4,503.4 1570.1,505.7 1582.8,507.6 1595.5,509.3 1608.2,510.6 1620.9,511.6 1633.6,512.2 1646.3,512.6 1659.0,512.6 1671.8,512.2 1684.5,511.6" stroke="#0c1eb9" stroke-width="2.1"/>
<polyline points="1061.9,153.9 1074.6,169.0 1087.3,183.8 1100.0,198.2 1112.7,212.3 1125.4,226.1 1138.1,239.5 1150.8,252.6 1163.5,265.4 1176.2,277.9 1188.9,290.0 1201.6,301.8 1214.3,313.3 1227.0,324.4 1239.7,335.2 1252.5,345.7 1265.2,355.9 1277.9,365.7 1290.6,375.2 1303.3,384.4 1316.0,393.3 1328.7,401.8 1341.4,410.0 1354.1,417.8 1366.8,425.4 1379.5,432.6 1392.2,439.5 1404.9,446.0 1417.6,452.3 1430.3,458.2 1443.0,463.7 1455.8,469.0 1468.5,473.9 1481.2,478.5 1493.9,482.8 1506.6,486.7 1519.3,490.3 1532.0,493.6 1544.7,496.5 1557.4,499.2 1570.1,501.5 1582.8,503.4 1595.5,505.1 1608.2,506.4 1620.9,507.4 1633.6,508.0 1646.3,508.3 1659.0,508.3 1671.8,508.0 1684.5,507.4" stroke="#142dbe" stroke-width="2.1"/>
<polyline points="1061.9,149.7 1074.6,164.8 1087.3,179.5 1100.0,194.0 1112.7,208.1 1125.4,221.8 1138.1,235.3 1150.8,248.4 1163.5,261.2 1176.2,273.6 1188.9,285.8 1201.6,297.6 1214.3,309.0 1227.0,320.2 1239.7,331.0 1252.5,341.5 1265.2,351.7 1277.9,361.5 1290.6,371.0 1303.3,380.2 1316.0,389.0 1328.7,397.6 1341.4,405.8 1354.1,413.6 1366.8,421.2 1379.5,428.4 1392.2,435.3 1404.9,441.8 1417.6,448.1 1430.3,454.0 1443.0,459.5 1455.8,464.8 1468.5,469.7 1481.2,474.3 1493.9,478.5 1506.6,482.5 1519.3,486.1 1532.0,489.4 1544.7,492.3 1557.4,494.9 1570.1,497.2 1582.8,499.2 1595.5,500.8 1608.2,502.1 1620.9,503.1 1633.6,503.8 1646.3,504.1 1659.0,504.1 1671.8,503.8 1684.5,503.1" stroke="#28bed2"/>
<polyline points="1061.9,145.5 1074.6,160.6 1087.3,175.3 1100.0,189.7 1112.7,203.8 1125.4,217.6 1138.1,231.1 1150.8,244.2 1163.5,257.0 1176.2,269.4 1188.9,281.5 1201.6,293.3 1214.3,304.8 1227.0,316.0 1239.7,326.8 1252.5,337.3 1265.2,347.4 1277.9,357.3 1290.6,366.8 1303.3,376.0 1316.0,384.8 1328.7,393.3 1341.4,401.5 1354.1,409.4 1366.8,416.9 1379.5,424.2 1392.2,431.0 1404.9,437.6 1417.6,443.8 1430.3,449.7 1443.0,455.3 1455.8,460.6 1468.5,465.5 1481.2,470.1 1493.9,474.3 1506.6,478.3 1519.3,481.9 1532.0,485.1 1544.7,488.1 1557.4,490.7 1570.1,493.0 1582.8,495.0 1595.5,496.6 1608.2,497.9 1620.9,498.9 1633.6,499.6 1646.3,499.9 1659.0,499.9 1671.8,499.6 1684.5,498.9" stroke="#4682b4"/>
<polyline points="1061.9,141.3 1074.6,156.3 1087.3,171.1 1100.0,185.5 1112.7,199.6 1125.4,213.4 1138.1,226.8 1150.8,239.9 1163.5,252.7 1176.2,265.2 1188.9,277.3 1201.6,289.1 1214.3,300.6 1227.0,311.7 1239.7,322.6 1252.5,333.1 1265.2,343.2 1277.9,353.1 1290.6,362.6 1303.3,371.7 1316.0,380.6 1328.7,389.1 1341.4,397.3 1354.1,405.2 1366.8,412.7 1379.5,419.9 1392.2,426.8 1404.9,433.4 1417.6,439.6 1430.3,445.5 1443.0,451.1 1455.8,456.3 1468.5,461.2 1481.2,465.8 1493.9,470.1 1506.6,474.0 1519.3,477.6 1532.0,480.9 1544.7,483.9 1557.4,486.5 1570.1,488.8 1582.8,490.8 1595.5,492.4 1608.2,493.7 1620.9,494.7 1633.6,495.3 1646.3,495.7 1659.0,495.7 1671.8,495.3 1684.5,494.7" stroke="#aaafbe"/>
<polyline points="1061.9,137.0 1074.6,152.1 1087.3,166.9 1100.0,181.3 1112.7,195.4 1125.4,209.2 1138.1,222.6 1150.8,235.7 1163.5,248.5 1176.2,261.0 1188.9,273.1 1201.6,284.9 1214.3,296.4 1227.0,307.5 1239.7,318.3 1252.5,328.8 1265.2,339.0 1277.9,348.8 1290.6,358.3 1303.3,367.5 1316.0,376.4 1328.7,384.9 1341.4,393.1 1354.1,401.0 1366.8,408.5 1379.5,415.7 1392.2,422.6 1404.9,429.2 1417.6,435.4 1430.3,441.3 1443.0,446.9 1455.8,452.1 1468.5,457.0 1481.2,461.6 1493.9,465.9 1506.6,469.8 1519.3,473.4 1532.0,476.7 1544.7,479.7 1557.4,482.3 1570.1,484.6 1582.8,486.5 1595.5,488.2 1608.2,489.5 1620.9,490.5 1633.6,491.1 1646.3,491.5 1659.0,491.5 1671.8,491.1 1684.5,490.5" stroke="#28d7d7"/>
<polyline points="1061.9,132.8 1074.6,147.9 1087.3,162.7 1100.0,177.1 1112.7,191.2 1125.4,204.9 1138.1,218.4 1150.8,231.5 1163.5,244.3 1176.2,256.7 1188.9,268.9 1201.6,280.7 1214.3,292.2 1227.0,303.3 1239.7,314.1 1252.5,324.6 1265.2,334.8 1277.9,344.6 1290.6,354.1 1303.3,363.3 1316.0,372.2 1328.7,380.7 1341.4,388.9 1354.1,396.7 1366.8,404.3 1379.5,411.5 1392.2,418.4 1404.9,424.9 1417.6,431.2 1430.3,437.1 1443.0,442.6 1455.8,447.9 1468.5,452.8 1481.2,457.4 1493.9,461.7 1506.6,465.6 1519.3,469.2 1532.0,472.5 1544.7,475.4 1557.4,478.1 1570.1,480.3 1582.8,482.3 1595.5,484.0 1608.2,485.3 1620.9,486.2 1633.6,486.9 1646.3,487.2 1659.0,487.2 1671.8,486.9 1684.5,486.2" stroke="#008080"/>
<polyline points="1061.9,128.6 1074.6,143.7 1087.3,158.4 1100.0,172.9 1112.7,187.0 1125.4,200.7 1138.1,214.2 1150.8,227.3 1163.5,240.1 1176.2,252.5 1188.9,264.7 1201.6,276.5 1214.3,287.9 1227.0,299.1 1239.7,309.9 1252.5,320.4 1265.2,330.6 1277.9,340.4 1290.6,349.9 1303.3,359.1 1316.0,367.9 1328.7,376.5 1341.4,384.7 1354.1,392.5 1366.8,400.1 1379.5,407.3 1392.2,414.2 1404.9,420.7 1417.6,426.9 1430.3,432.8 1443.0,438.4 1455.8,443.7 1468.5,448.6 1481.2,453.2 1493.9,457.4 1506.6,461.4 1519.3,465.0 1532.0,468.3 1544.7,471.2 1557.4,473.8 1570.1,476.1 1582.8,478.1 1595.5,479.7 1608.2,481.0 1620.9,482.0 1633.6,482.7 1646.3,483.0 1659.0,483.0 1671.8,482.7 1684.5,482.0" stroke="#008000"/>
<polyline points="1061.9,124.4 1074.6,139.5 1087.3,154.2 1100.0,168.6 1112.7,182.7 1125.4,196.5 1138.1,209.9 1150.8,223.1 1163.5,235.8 1176.2,248.3 1188.9,260.4 1201.6,272.2 1214.3,283.7 1227.0,294.9 1239.7,305.7 1252.5,316.2 1265.2,326.3 1277.9,336.2 1290.6,345.7 1303.3,354.9 1316.0,363.7 1328.7,372.2 1341.4,380.4 1354.1,388.3 1366.8,395.8 1379.5,403.1 1392.2,409.9 1404.9,416.5 1417.6,422.7 1430.3,428.6 1443.0,434.2 1455.8,439.4 1468.5,444.4 1481.2,449.0 1493.9,453.2 1506.6,457.2 1519.3,460.8 1532.0,464.0 1544.7,467.0 1557.4,469.6 1570.1,471.9 1582.8,473.9 1595.5,475.5 1608.2,476.8 1620.9,477.8 1633.6,478.5 1646.3,478.8 1659.0,478.8 1671.8,478.5 1684.5,477.8" stroke="#28d214"/>
<polyline points="1061.9,120.2 1074.6,135.2 1087.3,150.0 1100.0,164.4 1112.7,178.5 1125.4,192.3 1138.1,205.7 1150.8,218.8 1163.5,231.6 1176.2,244.1 1188.9,256.2 1201.6,268.0 1214.3,279.5 1227.0,290.6 1239.7,301.5 1252.5,312.0 1265.2,322.1 1277.9,332.0 1290.6,341.5 1303.3,350.6 1316.0,359.5 1328.7,368.0 1341.4,376.2 1354.1,384.1 1366.8,391.6 1379.5,398.8 1392.2,405.7 1404.9,412.3 1417.6,418.5 1430.3,424.4 1443.0,430.0 1455.8,435.2 1468.5,440.1 1481.2,444.7 1493.9,449.0 1506.6,452.9 1519.3,456.5 1532.0,459.8 1544.7,462.8 1557.4,465.4 1570.1,467.7 1582.8,469.7 1595.5,471.3 1608.2,472.6 1620.9,473.6 1633.6,474.2 1646.3,474.6 1659.0,474.6 1671.8,474.2 1684.5,473.6" stroke="#96d71e"/>
<polyline points="1061.9,115.9 1074.6,131.0 1087.3,145.8 1100.0,160.2 1112.7,174.3 1125.4,188.1 1138.1,201.5 1150.8,214.6 1163.5,227.4 1176.2,239.9 1188.9,252.0 1201.6,263.8 1214.3,275.3 1227.0,286.4 1239.7,297.2 1252.5,307.7 1265.2,317.9 1277.9,327.7 1290.6,337.2 1303.3,346.4 1316.0,355.3 1328.7,363.8 1341.4,372.0 1354.1,379.9 1366.8,387.4 1379.5,394.6 1392.2,401.5 1404.9,408.1 1417.6,414.3 1430.3,420.2 1443.0,425.8 1455.8,431.0 1468.5,435.9 1481.2,440.5 1493.9,444.8 1506.6,448.7 1519.3,452.3 1532.0,455.6 1544.7,458.5 1557.4,461.2 1570.1,463.5 1582.8,465.4 1595.5,467.1 1608.2,468.4 1620.9,469.4 1633.6,470.0 1646.3,470.3 1659.0,470.3 1671.8,470.0 1684.5,469.4" stroke="#d7c300"/>
<polyline points="1061.9,111.7 1074.6,126.8 1087.3,141.5 1100.0,156.0 1112.7,170.1 1125.4,183.8 1138.1,197.3 1150.8,210.4 1163.5,223.2 1176.2,235.6 1188.9,247.8 1201.6,259.6 1214.3,271.1 1227.0,282.2 1239.7,293.0 1252.5,303.5 1265.2,313.7 1277.9,323.5 1290.6,333.0 1303.3,342.2 1316.0,351.0 1328.7,359.6 1341.4,367.8 1354.1,375.6 1366.8,383.2 1379.5,390.4 1392.2,397.3 1404.9,403.8 1417.6,410.1 1430.3,416.0 1443.0,421.5 1455.8,426.8 1468.5,431.7 1481.2,436.3 1493.9,440.6 1506.6,444.5 1519.3,448.1 1532.0,451.4 1544.7,454.3 1557.4,456.9 1570.1,459.2 1582.8,461.2 1595.5,462.8 1608.2,464.2 1620.9,465.1 1633.6,465.8 1646.3,466.1 1659.0,466.1 1671.8,465.8 1684.5,465.1" stroke="#c88c00"/>
<polyline points="1061.9,107.5 1074.6,122.6 1087.3,137.3 1100.0,151.8 1112.7,165.9 1125.4,179.6 1138.1,193.1 1150.8,206.2 1163.5,219.0 1176.2,231.4 1188.9,243.6 1201.6,255.4 1214.3,266.8 1227.0,278.0 1239.7,288.8 1252.5,299.3 1265.2,309.5 1277.9,319.3 1290.6,328.8 1303.3,338.0 1316.0,346.8 1328.7,355.4 1341.4,363.5 1354.1,371.4 1366.8,379.0 1379.5,386.2 1392.2,393.1 1404.9,399.6 1417.6,405.8 1430.3,411.7 1443.0,417.3 1455.8,422.6 1468.5,427.5 1481.2,432.1 1493.9,436.3 1506.6,440.3 1519.3,443.9 1532.0,447.2 1544.7,450.1 1557.4,452.7 1570.1,455.0 1582.8,457.0 1595.5,458.6 1608.2,459.9 1620.9,460.9 1633.6,461.6 1646.3,461.9 1659.0,461.9 1671.8,461.6 1684.5,460.9" stroke="#dc7d00"/>
<polyline points="1061.9,103.3 1074.6,118.4 1087.3,133.1 1100.0,147.5 1112.7,161.6 1125.4,175.4 1138.1,188.8 1150.8,202.0 1163.5,214.7 1176.2,227.2 1188.9,239.3 1201.6,251.1 1214.3,262.6 1227.0,273.8 1239.7,284.6 1252.5,295.1 1265.2,305.2 1277.9,315.1 1290.6,324.6 1303.3,333.8 1316.0,342.6 1328.7,351.1 1341.4,359.3 1354.1,367.2 1366.8,374.7 1379.5,382.0 1392.2,388.8 1404.9,395.4 1417.6,401.6 1430.3,407.5 1443.0,413.1 1455.8,418.3 1468.5,423.3 1481.2,427.9 1493.9,432.1 1506.6,436.0 1519.3,439.7 1532.0,442.9 1544.7,445.9 1557.4,448.5 1570.1,450.8 1582.8,452.8 1595.5,454.4 1608.2,455.7 1620.9,456.7 1633.6,457.4 1646.3,457.7 1659.0,457.7 1671.8,457.4 1684.5,456.7" stroke="#d76e00"/>
<polyline points="1061.9,99.1 1074.6,114.1 1087.3,128.9 1100.0,143.3 1112.7,157.4 1125.4,171.2 1138.1,184.6 1150.8,197.7 1163.5,210.5 1176.2,223.0 1188.9,235.1 1201.6,246.9 1214.3,258.4 1227.0,269.5 1239.7,280.4 1252.5,290.8 1265.2,301.0 1277.9,310.8 1290.6,320.4 1303.3,329.5 1316.0,338.4 1328.7,346.9 1341.4,355.1 1354.1,363.0 1366.8,370.5 1379.5,377.7 1392.2,384.6 1404.9,391.2 1417.6,397.4 1430.3,403.3 1443.0,408.9 1455.8,414.1 1468.5,419.0 1481.2,423.6 1493.9,427.9 1506.6,431.8 1519.3,435.4 1532.0,438.7 1544.7,441.7 1557.4,444.3 1570.1,446.6 1582.8,448.5 1595.5,450.2 1608.2,451.5 1620.9,452.5 1633.6,453.1 1646.3,453.5 1659.0,453.5 1671.8,453.1 1684.5,452.5" stroke="#eb140a"/>
<polyline points="1061.9,94.8 1074.6,109.9 1087.3,124.7 1100.0,139.1 1112.7,153.2 1125.4,167.0 1138.1,180.4 1150.8,193.5 1163.5,206.3 1176.2,218.8 1188.9,230.9 1201.6,242.7 1214.3,254.2 1227.0,265.3 1239.7,276.1 1252.5,286.6 1265.2,296.8 1277.9,306.6 1290.6,316.1 1303.3,325.3 1316.0,334.2 1328.7,342.7 1341.4,350.9 1354.1,358.8 1366.8,366.3 1379.5,373.5 1392.2,380.4 1404.9,387.0 1417.6,393.2 1430.3,399.1 1443.0,404.7 1455.8,409.9 1468.5,414.8 1481.2,419.4 1493.9,423.7 1506.6,427.6 1519.3,431.2 1532.0,434.5 1544.7,437.4 1557.4,440.1 1570.1,442.4 1582.8,444.3 1595.5,446.0 1608.2,447.3 1620.9,448.3 1633.6,448.9 1646.3,449.2 1659.0,449.2 1671.8,448.9 1684.5,448.3" stroke="#8b0000" stroke-width="1.3"/>
<polyline points="1061.9,90.6 1074.6,105.7 1087.3,120.4 1100.0,134.9 1112.7,149.0 1125.4,162.7 1138.1,176.2 1150.8,189.3 1163.5,202.1 1176.2,214.5 1188.9,226.7 1201.6,238.5 1214.3,249.9 1227.0,261.1 1239.7,271.9 1252.5,282.4 1265.2,292.6 1277.9,302.4 1290.6,311.9 1303.3,321.1 1316.0,329.9 1328.7,338.5 1341.4,346.7 1354.1,354.5 1366.8,362.1 1379.5,369.3 1392.2,376.2 1404.9,382.7 1417.6,389.0 1430.3,394.9 1443.0,400.4 1455.8,405.7 1468.5,410.6 1481.2,415.2 1493.9,419.4 1506.6,423.4 1519.3,427.0 1532.0,430.3 1544.7,433.2 1557.4,435.8 1570.1,438.1 1582.8,440.1 1595.5,441.7 1608.2,443.1 1620.9,444.0 1633.6,444.7 1646.3,445.0 1659.0,445.0 1671.8,444.7 1684.5,444.0" stroke="#a51e1e" stroke-width="1.3"/>
<polyline points="1061.9,86.4 1074.6,101.5 1087.3,116.2 1100.0,130.6 1112.7,144.7 1125.4,158.5 1138.1,172.0 1150.8,185.1 1163.5,197.9 1176.2,210.3 1188.9,222.4 1201.6,234.3 1214.3,245.7 1227.0,256.9 1239.7,267.7 1252.5,278.2 1265.2,288.3 1277.9,298.2 1290.6,307.7 1303.3,316.9 1316.0,325.7 1328.7,334.2 1341.4,342.4 1354.1,350.3 1366.8,357.9 1379.5,365.1 1392.2,372.0 1404.9,378.5 1417.6,384.7 1430.3,390.6 1443.0,396.2 1455.8,401.5 1468.5,406.4 1481.2,411.0 1493.9,415.2 1506.6,419.2 1519.3,422.8 1532.0,426.0 1544.7,429.0 1557.4,431.6 1570.1,433.9 1582.8,435.9 1595.5,437.5 1608.2,438.8 1620.9,439.8 1633.6,440.5 1646.3,440.8 1659.0,440.8 1671.8,440.5 1684.5,439.8" stroke="#8b0000" stroke-width="1.3"/>
<polyline points="1061.9,82.2 1074.6,97.2 1087.3,112.0 1100.0,126.4 1112.7,140.5 1125.4,154.3 1138.1,167.7 1150.8,180.9 1163.5,193.6 1176.2,206.1 1188.9,218.2 1201.6,230.0 1214.3,241.5 1227.0,252.7 1239.7,263.5 1252.5,274.0 1265.2,284.1 1277.9,294.0 1290.6,303.5 1303.3,312.7 1316.0,321.5 1328.7,330.0 1341.4,338.2 1354.1,346.1 1366.8,353.6 1379.5,360.8 1392.2,367.7 1404.9,374.3 1417.6,380.5 1430.3,386.4 1443.0,392.0 1455.8,397.2 1468.5,402.2 1481.2,406.7 1493.9,411.0 1506.6,414.9 1519.3,418.5 1532.0,421.8 1544.7,424.8 1557.4,427.4 1570.1,429.7 1582.8,431.7 1595.5,433.3 1608.2,434.6 1620.9,435.6 1633.6,436.3 1646.3,436.6 1659.0,436.6 1671.8,436.3 1684.5,435.6" stroke="#962323" stroke-width="1.3"/>
<polyline points="1061.9,77.9 1074.6,93.0 1087.3,107.8 1100.0,122.2 1112.7,136.3 1125.4,150.1 1138.1,163.5 1150.8,176.6 1163.5,189.4 1176.2,201.9 1188.9,214.0 1201.6,225.8 1214.3,237.3 1227.0,248.4 1239.7,259.3 1252.5,269.7 1265.2,279.9 1277.9,289.7 1290.6,299.2 1303.3,308.4 1316.0,317.3 1328.7,325.8 1341.4,334.0 1354.1,341.9 1366.8,349.4 1379.5,356.6 1392.2,363.5 1404.9,370.1 1417.6,376.3 1430.3,382.2 1443.0,387.8 1455.8,393.0 1468.5,397.9 1481.2,402.5 1493.9,406.8 1506.6,410.7 1519.3,414.3 1532.0,417.6 1544.7,420.6 1557.4,423.2 1570.1,425.5 1582.8,427.4 1595.5,429.1 1608.2,430.4 1620.9,431.4 1633.6,432.0 1646.3,432.4 1659.0,432.4 1671.8,432.0 1684.5,431.4" stroke="#800080"/>
</g>
<g stroke="#7c7c7c" stroke-width="1.4" fill="none">
<path d="M97.2 11.8 V558.7 H739.6"/>
<path d="M86.7 550.0 H97.2"/>
<path d="M86.7 483.8 H97.2"/>
<path d="M86.7 417.6 H97.2"/>
<path d="M86.7 351.4 H97.2"/>
<path d="M86.7 285.2 H97.2"/>
<path d="M86.7 219.0 H97.2"/>
<path d="M86.7 152.8 H97.2"/>
<path d="M86.7 86.6 H97.2"/>
<path d="M86.7 20.4 H97.2"/>
<path d="M105.6 558.7 V569"/>
<path d="M168.1 558.7 V569"/>
<path d="M230.7 558.7 V569"/>
<path d="M293.2 558.7 V569"/>
<path d="M355.8 558.7 V569"/>
<path d="M418.3 558.7 V569"/>
<path d="M480.8 558.7 V569"/>
<path d="M543.4 558.7 V569"/>
<path d="M605.9 558.7 V569"/>
<path d="M668.5 558.7 V569"/>
<path d="M731.0 558.7 V569"/>
<path d="M1021.6 11.8 V558.7 H1674"/>
<path d="M1010.6 550.0 H1021.6"/>
<path d="M1010.6 483.8 H1021.6"/>
<path d="M1010.6 417.6 H1021.6"/>
<path d="M1010.6 351.4 H1021.6"/>
<path d="M1010.6 285.2 H1021.6"/>
<path d="M1010.6 219.0 H1021.6"/>
<path d="M1010.6 152.8 H1021.6"/>
<path d="M1010.6 86.6 H1021.6"/>
<path d="M1010.6 20.4 H1021.6"/>
<path d="M1030.1 558.7 V569"/>
<path d="M1093.6 558.7 V569"/>
<path d="M1157.2 558.7 V569"/>
<path d="M1220.7 558.7 V569"/>
<path d="M1284.2 558.7 V569"/>
<path d="M1347.8 558.7 V569"/>
<path d="M1411.3 558.7 V569"/>
<path d="M1474.8 558.7 V569"/>
<path d="M1538.3 558.7 V569"/>
<path d="M1601.9 558.7 V569"/>
<path d="M1665.4 558.7 V569"/>
</g>
<g class="tk" text-anchor="end">
<text x="80" y="556.7">98</text>
<text x="1004.5" y="556.7">98</text>
<text x="80" y="490.5">100</text>
<text x="1004.5" y="490.5">100</text>
<text x="80" y="424.3">102</text>
<text x="1004.5" y="424.3">102</text>
<text x="80" y="358.1">104</text>
<text x="1004.5" y="358.1">104</text>
<text x="80" y="291.9">106</text>
<text x="1004.5" y="291.9">106</text>
<text x="80" y="225.7">108</text>
<text x="1004.5" y="225.7">108</text>
<text x="80" y="159.5">110</text>
<text x="1004.5" y="159.5">110</text>
<text x="80" y="93.3">112</text>
<text x="1004.5" y="93.3">112</text>
<text x="80" y="27.1">114</text>
<text x="1004.5" y="27.1">114</text>
</g>
<g class="tk" text-anchor="middle">
<text x="105.6" y="594.1">0</text>
<text x="1030.1" y="594.1">0</text>
<text x="168.1" y="594.1">10</text>
<text x="1093.6" y="594.1">10</text>
<text x="230.7" y="594.1">20</text>
<text x="1157.2" y="594.1">20</text>
<text x="293.2" y="594.1">30</text>
<text x="1220.7" y="594.1">30</text>
<text x="355.8" y="594.1">40</text>
<text x="1284.2" y="594.1">40</text>
<text x="418.3" y="594.1">50</text>
<text x="1347.8" y="594.1">50</text>
<text x="480.8" y="594.1">60</text>
<text x="1411.3" y="594.1">60</text>
<text x="543.4" y="594.1">70</text>
<text x="1474.8" y="594.1">70</text>
<text x="605.9" y="594.1">80</text>
<text x="1538.3" y="594.1">80</text>
<text x="668.5" y="594.1">90</text>
<text x="1601.9" y="594.1">90</text>
<text x="731.0" y="594.1">100</text>
<text x="1665.4" y="594.1">100</text>
</g>
<g class="lb" text-anchor="middle">
<text x="419.5" y="634.2">HbO<tspan dy="-4.4">₂</tspan><tspan dy="4.4"> (%)</tspan></text>
<text x="1348" y="634.2">PCO<tspan dy="-4.4">₂</tspan><tspan dy="4.4"> (mmHg)</tspan></text>
<text transform="translate(18.8 285.8) rotate(-90)" textLength="117.4">Cl⁻ (mEq/L)</text>
<text transform="translate(943.2 286) rotate(-90)" textLength="117.4">Cl⁻ (mEq/L)</text>
<text transform="translate(845.7 285) rotate(-90)" textLength="334.4" xml:space="preserve">PCO<tspan dy="-4.4">₂</tspan><tspan dy="4.4">  classes from 5 to 110 mmHg</tspan></text>
<text transform="translate(1767.5 284.2) rotate(-90)" textLength="296.8">HbO<tspan dy="-4.4">₂</tspan><tspan dy="4.4"> classes from 0% to 100%</tspan></text>
</g>
<text class="pl" x="6.4" y="29.8">A</text>
<text class="pl" x="929.3" y="25.9">B</text>
<rect x="754.3" y="11.8" width="19.4" height="546.9" fill="url(#gA)" stroke="#8a8a9a" stroke-width="0.8"/>
<rect x="1688.5" y="11.8" width="19.4" height="546.9" fill="url(#gB)" stroke="#8a8a9a" stroke-width="0.8"/>
<g stroke="#7c7c7c" stroke-width="1.4">
<path d="M773.7 480.6 H783.7"/>
<path d="M773.7 376.4 H783.7"/>
<path d="M773.7 272.2 H783.7"/>
<path d="M773.7 168.1 H783.7"/>
<path d="M773.7 63.9 H783.7"/>
<path d="M1707.9 450.1 H1717.9"/>
<path d="M1707.9 340.5 H1717.9"/>
<path d="M1707.9 231.0 H1717.9"/>
<path d="M1707.9 121.4 H1717.9"/>
</g>
<g class="cb">
<text x="790" y="486.7">20</text>
<text x="790" y="382.5">40</text>
<text x="790" y="278.3">60</text>
<text x="790" y="174.2">80</text>
<text x="790" y="70.0">100</text>
<text x="1724.2" y="456.2">20</text>
<text x="1724.2" y="346.6">40</text>
<text x="1724.2" y="237.1">60</text>
<text x="1724.2" y="127.5">80</text>
</g>
</svg></body></html>
